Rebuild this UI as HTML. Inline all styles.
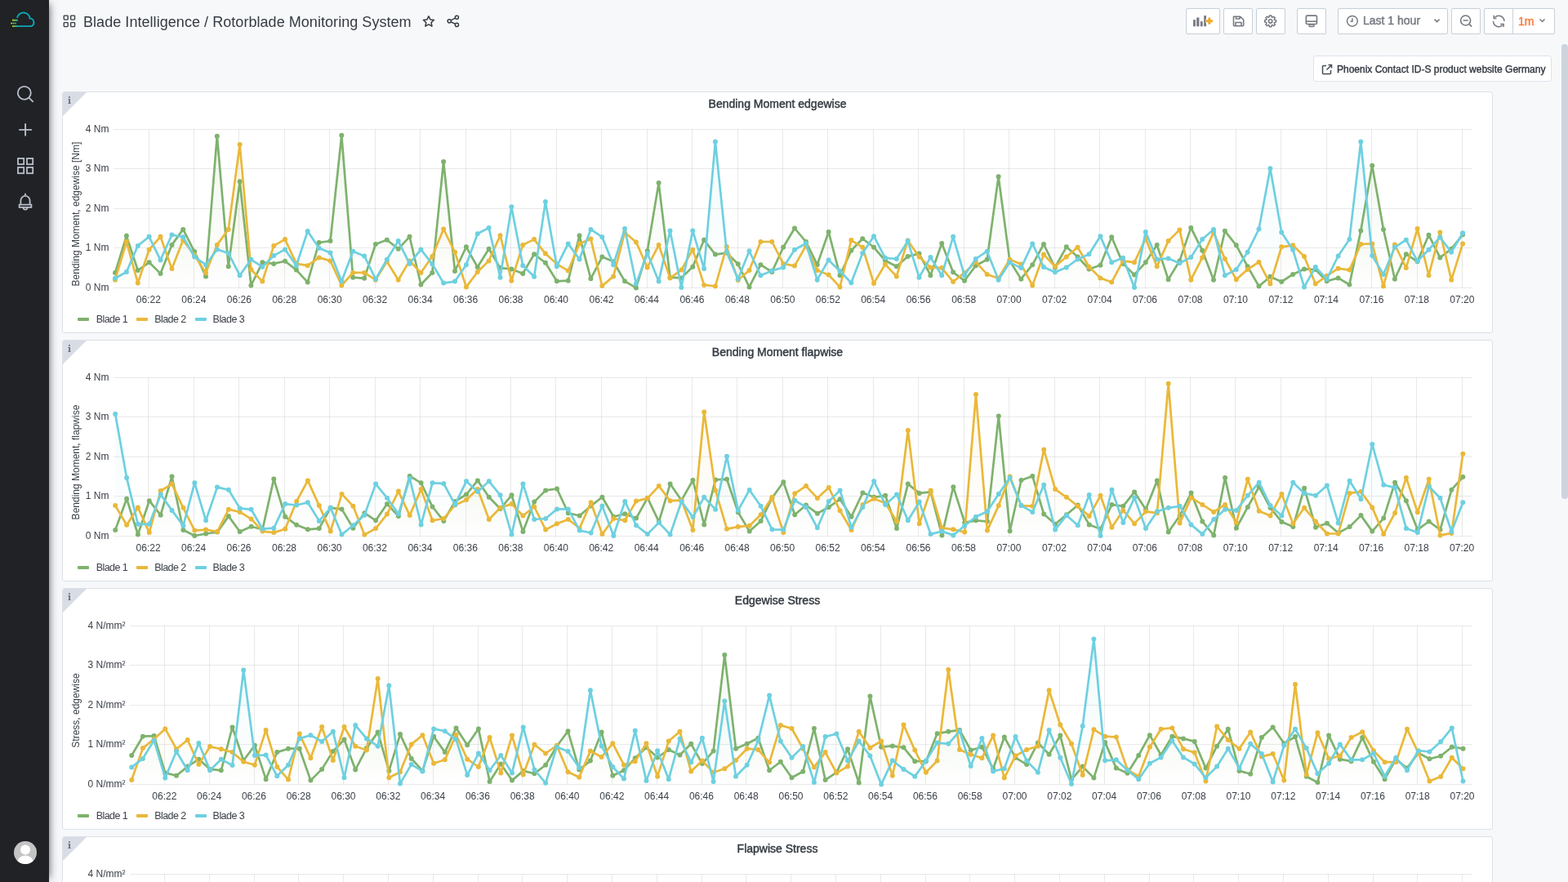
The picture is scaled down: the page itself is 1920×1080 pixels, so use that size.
<!DOCTYPE html>
<html><head><meta charset="utf-8"><title>Rotorblade Monitoring System - Grafana</title>
<style>*{box-sizing:border-box}
html,body{margin:0;padding:0;width:1920px;height:1080px;overflow:hidden;background:#f7f8fa;font-family:"Liberation Sans",Arial,sans-serif;color:#52545c}
.side{position:absolute;left:0;top:0;width:60px;height:1080px;background:#202226;z-index:10;box-shadow:5px 0 10px -5px #52545c}
.side svg{position:absolute;left:0;top:0}
.title{position:absolute;left:102px;top:17.3px;font-size:18px;color:#353b43;white-space:nowrap;letter-spacing:0.05px}
.nbtn{position:absolute;top:10px;height:32px;border:1px solid #c7d0d9;border-radius:2px;background:#fff}
.nbtn svg{position:absolute;left:0;top:0}
.tp{font-size:14px;font-weight:normal;color:#767980;-webkit-text-stroke:0.45px #767980;white-space:nowrap}
.phx{position:absolute;left:1608px;top:68px;width:292px;height:32px;border:1px solid #dde4ed;border-radius:3px;background:#fff;font-size:12px;font-weight:normal;color:#353b43;-webkit-text-stroke:0.4px #353b43;white-space:nowrap}
.panel{position:absolute;left:76px;width:1752px;height:296px;background:#fff;border:1px solid #dce0e5;border-radius:3px}
.panel .chart{position:absolute;left:-1px;top:-1px}
.corner{position:absolute;left:0;top:0;width:0;height:0;border-top:29px solid #d8dde5;border-right:29px solid transparent;border-top-left-radius:2px}
.ci{position:absolute;left:5.9px;top:3.9px;font-family:"DejaVu Serif","Liberation Serif",serif;font-weight:bold;font-size:10.5px;color:#6b7079}
.ptitle{position:absolute;left:0;right:0;top:5.8px;text-align:center;font-size:14px;font-weight:normal;color:#353b43;-webkit-text-stroke:0.45px #353b43}
.ylab{position:absolute;left:16.4px;top:149.1px;font-size:12px;color:#3b4048;white-space:nowrap;transform:translate(-50%,-50%) rotate(-90deg)}
.tk{font-family:"Liberation Sans",Arial,sans-serif;font-size:12px;fill:#3b4048}
.sw{position:absolute;top:276px;width:14px;height:4px;border-radius:1px}
.lt{position:absolute;top:271px;font-size:12.5px;color:#3b4048;letter-spacing:-0.55px;white-space:nowrap}
</style></head>
<body>
<div class="side">
<svg width="60" height="1080">
 <defs><linearGradient id="lg" x1="0" x2="1" y1="0" y2="0"><stop offset="0" stop-color="#b9d30a"/><stop offset="1" stop-color="#11a9b6"/></linearGradient></defs>
 <path d="M21 21.8 A7.9 7.9 0 0 1 36.6 22.6 A4.9 4.9 0 0 1 38.2 32.1 H20" fill="none" stroke="#0aa9b6" stroke-width="1.9" stroke-linecap="butt"/>
 <path d="M15 24.8H21.9 M15 32.1H21" stroke="url(#lg)" stroke-width="1.9" fill="none"/><circle cx="14.2" cy="28.5" r="1.1" fill="#b9d30a"/><circle cx="16.6" cy="28.5" r="1.1" fill="#6cc07a"/><circle cx="19.0" cy="28.5" r="1.1" fill="#1fb0b8"/>
 <g fill="none" stroke="#b9bfca" stroke-width="1.8">
  <circle cx="29.8" cy="113.8" r="8"/>
  <path d="M35.6 119.8L40.2 124.3" stroke-linecap="round"/>
  <path d="M31.1 151.3V166.5M23.2 158.9H38.9" stroke-width="1.9"/>
  <rect x="22" y="194" width="7.2" height="7.2"/><rect x="33" y="194" width="7.2" height="7.2"/>
  <rect x="22" y="205" width="7.2" height="7.2"/><rect x="33" y="205" width="7.2" height="7.2"/>
  <path d="M31 236.8V239 M25.4 250.2V245.5A5.6 5.6 0 0 1 36.6 245.5V250.2 M23.6 250.6H38.4V253.8H23.6Z M28.6 254.3A2.4 2.4 0 0 0 33.4 254.3"/>
 </g>
 <circle cx="31" cy="1044" r="14" fill="#c4c4c4"/>
 <clipPath id="av"><circle cx="31" cy="1044" r="14"/></clipPath>
 <g clip-path="url(#av)" fill="#fff"><circle cx="31" cy="1040.6" r="6"/><ellipse cx="31" cy="1058" rx="10.5" ry="10.5"/></g>
</svg>
</div>
<svg style="position:absolute;left:77px;top:18px" width="17" height="17"><g fill="none" stroke="#353b43" stroke-width="1.35"><rect x="1.25" y="1.05" width="4.9" height="5.0" rx="0.8"/><rect x="9.65" y="1.05" width="4.9" height="5.0" rx="0.8"/><rect x="1.25" y="9.55" width="4.9" height="5.0" rx="0.8"/><rect x="9.65" y="9.55" width="4.9" height="5.0" rx="0.8"/></g></svg>
<div class="title">Blade Intelligence / Rotorblade Monitoring System</div>
<svg style="position:absolute;left:515px;top:17px" width="20" height="20"><path d="M9.90 2.75 L11.84 6.93 L16.41 7.48 L13.04 10.62 L13.93 15.14 L9.90 12.90 L5.87 15.14 L6.76 10.62 L3.39 7.48 L7.96 6.93Z" fill="none" stroke="#353b43" stroke-width="1.5" stroke-linejoin="round"/></svg>
<svg style="position:absolute;left:545px;top:17px" width="20" height="20"><g fill="none" stroke="#353b43" stroke-width="1.45"><circle cx="14.4" cy="4.25" r="2.1"/><circle cx="5.2" cy="8.8" r="2.1"/><circle cx="14.4" cy="13.4" r="2.1"/><path d="M7.1 7.85L12.5 5.2M7.1 9.75L12.5 12.45"/></g></svg>

<div class="nbtn" style="left:1452px;width:42px"><svg width="42" height="32"><g fill="#767980" transform="translate(-1 -1)"><rect x="9.1" y="14.2" width="2.8" height="8.1"/><rect x="13.2" y="11.5" width="3.2" height="10.8"/><rect x="17.9" y="16.2" width="2.8" height="6.1"/><rect x="22.2" y="9.1" width="2.8" height="13.2"/></g><path d="M27.8 10.3V19.1M23.4 14.7H32.2" stroke="#fff" stroke-width="5"/><path d="M27.8 10.6V18.8M23.7 14.7H31.9" stroke="#f5a623" stroke-width="2.9"/></svg></div>
<div class="nbtn" style="left:1498px;width:36px"><svg width="36" height="32" style="top:-1px"><path d="M11.5 10.2H19.6L23.7 14.3V20.8A1 1 0 0 1 22.7 21.8H12.5A1 1 0 0 1 11.5 20.8Z M14.5 10.2V13H19V10.2 M14 21.8V17.5H21V21.8" fill="none" stroke="#767980" stroke-width="1.6" stroke-linejoin="round"/></svg></div>
<div class="nbtn" style="left:1538px;width:36px"><svg width="36" height="32" style="top:-1px;left:-0.7px"><circle cx="17.6" cy="15.9" r="2.2" fill="none" stroke="#767980" stroke-width="1.6"/><path d="M22.57 14.36 L24.50 14.72 L24.50 17.08 L22.57 17.44 L22.20 18.33 L23.32 19.94 L21.64 21.62 L20.03 20.50 L19.14 20.87 L18.78 22.80 L16.42 22.80 L16.06 20.87 L15.17 20.50 L13.56 21.62 L11.88 19.94 L13.00 18.33 L12.63 17.44 L10.70 17.08 L10.70 14.72 L12.63 14.36 L13.00 13.47 L11.88 11.86 L13.56 10.18 L15.17 11.30 L16.06 10.93 L16.42 9.00 L18.78 9.00 L19.14 10.93 L20.03 11.30 L21.64 10.18 L23.32 11.86 L22.20 13.47Z" fill="none" stroke="#767980" stroke-width="1.5" stroke-linejoin="round"/></svg></div>
<div class="nbtn" style="left:1588px;width:36px"><svg width="36" height="32"><rect x="10.3" y="8.1" width="13.2" height="10.4" rx="1.6" fill="none" stroke="#767980" stroke-width="1.6"/><path d="M10.3 15.2H23.5" stroke="#767980" stroke-width="1.6"/><rect x="14" y="19" width="6" height="2.4" rx="0.9" fill="none" stroke="#767980" stroke-width="1.5"/></svg></div>
<div class="nbtn" style="left:1638px;width:135px"><svg width="135" height="32"><circle cx="16.9" cy="14.8" r="6.4" fill="none" stroke="#767980" stroke-width="1.5"/><path d="M16.9 11.2V15.2H14.6" fill="none" stroke="#767980" stroke-width="1.5"/><path d="M117.5 12.6L120.5 15.6L123.5 12.6" fill="none" stroke="#767980" stroke-width="1.5"/></svg><span class="tp" style="position:absolute;left:30px;top:6px">Last 1 hour</span></div>
<div class="nbtn" style="left:1777px;width:36px"><svg width="36" height="32"><circle cx="16.6" cy="14" r="6" fill="none" stroke="#767980" stroke-width="1.6"/><path d="M13.6 14H19.6M21 18.4L24.2 21.6" stroke="#767980" stroke-width="1.6"/></svg></div>
<div class="nbtn" style="left:1817px;width:87px"><svg width="87" height="32"><path d="M34.5 0V30" stroke="#c7d0d9"/><path d="M12.46 10.26A6.7 6.7 0 0 1 23.9 15 M10.5 15A6.7 6.7 0 0 0 21.94 19.74" fill="none" stroke="#767980" stroke-width="1.5"/><path d="M11.2 7.7V11.6H14.4 M19.2 18.4H23.1V22" fill="none" stroke="#767980" stroke-width="1.5"/><path d="M67.5 12.5L70.5 15.5L73.5 12.5" fill="none" stroke="#767980" stroke-width="1.5"/></svg><span style="position:absolute;left:41px;top:7px;font-size:14px;font-weight:normal;color:#fa7a3c;-webkit-text-stroke:0.45px #fa7a3c">1m</span></div>
<div class="phx"><svg style="position:absolute;left:8px;top:8px" width="16" height="16"><path d="M7 3.5H3.5A1 1 0 0 0 2.5 4.5V12.5A1 1 0 0 0 3.5 13.5H11.5A1 1 0 0 0 12.5 12.5V9 M9.5 2.5H13.5V6.5 M13.5 2.5L7.5 8.5" fill="none" stroke="#464c54" stroke-width="1.5"/></svg><span style="position:absolute;left:28px;top:9px">Phoenix Contact ID-S product website Germany</span></div>
<div style="position:absolute;left:1912px;top:54px;width:8px;height:557px;border-radius:4px;background:#cdd4dc"></div>
<div class="panel" style="top:112px"><div class="corner"></div><div class="ci">i</div><div class="ptitle">Bending Moment edgewise</div><div class="ylab">Bending Moment, edgewise [Nm]</div><svg class="chart" width="1752" height="296" viewBox="76 0 1752 296"><defs><linearGradient id="fg00" gradientUnits="userSpaceOnUse" x1="0" y1="46.4" x2="0" y2="240.4"><stop offset="0" stop-color="#7eb26d" stop-opacity="0.11"/><stop offset="1" stop-color="#7eb26d" stop-opacity="0.0"/></linearGradient><linearGradient id="fg01" gradientUnits="userSpaceOnUse" x1="0" y1="46.4" x2="0" y2="240.4"><stop offset="0" stop-color="#eab839" stop-opacity="0.11"/><stop offset="1" stop-color="#eab839" stop-opacity="0.0"/></linearGradient><linearGradient id="fg02" gradientUnits="userSpaceOnUse" x1="0" y1="46.4" x2="0" y2="240.4"><stop offset="0" stop-color="#6ed0e0" stop-opacity="0.11"/><stop offset="1" stop-color="#6ed0e0" stop-opacity="0.0"/></linearGradient></defs><path d="M139 240.5H1803.0 M139 191.5H1803.0 M139 143.5H1803.0 M139 94.5H1803.0 M139 46.5H1803.0" stroke="#c8c8c8" stroke-opacity="0.4" stroke-width="1" fill="none"/><path d="M182.5 46V241 M237.5 46V241 M292.5 46V241 M348.5 46V241 M403.5 46V241 M459.5 46V241 M514.5 46V241 M570.5 46V241 M625.5 46V241 M681.5 46V241 M736.5 46V241 M792.5 46V241 M847.5 46V241 M903.5 46V241 M958.5 46V241 M1013.5 46V241 M1069.5 46V241 M1124.5 46V241 M1180.5 46V241 M1235.5 46V241 M1291.5 46V241 M1346.5 46V241 M1402.5 46V241 M1457.5 46V241 M1513.5 46V241 M1568.5 46V241 M1624.5 46V241 M1679.5 46V241 M1735.5 46V241 M1790.5 46V241" stroke="#c8c8c8" stroke-opacity="0.4" stroke-width="1" fill="none"/><path d="M141.0 221.9 L154.9 176.8 L168.8 219.0 L182.6 209.3 L196.5 222.9 L210.4 187.9 L224.2 168.9 L238.1 196.1 L252.0 226.4 L265.8 54.7 L279.7 214.2 L293.6 110.2 L307.4 237.5 L321.3 209.3 L335.2 210.9 L349.0 207.8 L362.9 218.6 L376.7 233.6 L390.6 185.0 L404.5 183.1 L418.3 53.8 L432.2 227.7 L446.1 228.8 L459.9 187.0 L473.8 181.7 L487.7 192.8 L501.5 177.8 L515.4 236.5 L529.3 221.9 L543.1 85.9 L557.0 220.0 L570.9 190.3 L584.7 215.1 L598.6 192.8 L612.5 216.1 L626.3 217.5 L640.2 222.9 L654.1 199.2 L667.9 209.7 L681.8 232.3 L695.7 231.7 L709.5 176.6 L723.4 229.3 L737.3 202.5 L751.1 208.3 L765.0 232.3 L778.9 240.4 L792.7 195.3 L806.6 112.1 L820.5 227.7 L834.3 228.4 L848.2 214.7 L862.1 181.7 L875.9 199.6 L889.8 197.6 L903.7 211.3 L917.5 239.4 L931.4 212.2 L945.3 221.0 L959.1 190.8 L973.0 167.5 L986.9 184.0 L1000.7 212.2 L1014.6 172.0 L1028.5 225.2 L1042.3 194.7 L1056.2 180.2 L1070.0 190.8 L1083.9 207.0 L1097.8 214.2 L1111.6 201.9 L1125.5 198.6 L1139.4 225.2 L1153.2 186.0 L1167.1 221.3 L1181.0 231.7 L1194.8 213.2 L1208.7 205.8 L1222.6 104.3 L1236.4 207.4 L1250.3 229.7 L1264.2 212.2 L1278.0 187.0 L1291.9 215.5 L1305.8 190.3 L1319.6 202.5 L1333.5 217.5 L1347.4 212.8 L1361.2 178.2 L1375.1 210.9 L1389.0 224.4 L1402.8 209.3 L1416.7 187.9 L1430.6 230.3 L1444.4 207.4 L1458.3 166.9 L1472.2 194.7 L1486.0 230.7 L1499.9 170.8 L1513.8 188.3 L1527.6 214.2 L1541.5 238.5 L1555.4 226.8 L1569.2 233.0 L1583.1 223.9 L1597.0 217.5 L1610.8 218.0 L1624.7 232.3 L1638.6 228.4 L1652.4 236.5 L1666.3 170.4 L1680.2 90.7 L1694.0 168.9 L1707.9 229.7 L1721.8 199.2 L1735.6 208.3 L1749.5 175.8 L1763.3 203.4 L1777.2 192.8 L1791.1 175.3 L1791.1 240.4 L141.0 240.4 Z" fill="url(#fg00)" stroke="none"/><path d="M141.0 230.7 L154.9 184.0 L168.8 234.6 L182.6 193.7 L196.5 177.8 L210.4 217.1 L224.2 182.1 L238.1 200.5 L252.0 221.9 L265.8 187.9 L279.7 168.9 L293.6 65.1 L307.4 218.0 L321.3 232.6 L335.2 188.9 L349.0 181.1 L362.9 210.9 L376.7 213.2 L390.6 203.4 L404.5 207.4 L418.3 237.5 L432.2 221.9 L446.1 221.9 L459.9 230.7 L473.8 208.3 L487.7 230.7 L501.5 207.4 L515.4 221.9 L529.3 201.9 L543.1 168.5 L557.0 196.7 L570.9 239.4 L584.7 221.0 L598.6 207.4 L612.5 176.2 L626.3 231.7 L640.2 187.9 L654.1 181.1 L667.9 198.6 L681.8 211.3 L695.7 219.4 L709.5 186.4 L723.4 180.6 L737.3 238.1 L751.1 226.4 L765.0 172.4 L778.9 184.4 L792.7 215.5 L806.6 187.9 L820.5 228.4 L834.3 218.6 L848.2 193.7 L862.1 236.9 L875.9 238.5 L889.8 189.9 L903.7 231.1 L917.5 219.0 L931.4 184.0 L945.3 184.0 L959.1 210.9 L973.0 213.6 L986.9 188.9 L1000.7 219.0 L1014.6 224.4 L1028.5 239.4 L1042.3 182.1 L1056.2 190.8 L1070.0 235.0 L1083.9 211.6 L1097.8 226.4 L1111.6 182.5 L1125.5 202.5 L1139.4 215.5 L1153.2 216.1 L1167.1 233.0 L1181.0 221.9 L1194.8 208.9 L1208.7 223.9 L1222.6 228.8 L1236.4 205.8 L1250.3 211.6 L1264.2 237.5 L1278.0 199.6 L1291.9 214.2 L1305.8 202.5 L1319.6 190.8 L1333.5 214.7 L1347.4 228.4 L1361.2 233.6 L1375.1 207.4 L1389.0 209.3 L1402.8 180.2 L1416.7 214.2 L1430.6 183.1 L1444.4 169.4 L1458.3 230.7 L1472.2 203.4 L1486.0 172.4 L1499.9 205.0 L1513.8 230.3 L1527.6 218.0 L1541.5 208.9 L1555.4 235.6 L1569.2 190.3 L1583.1 188.3 L1597.0 201.9 L1610.8 235.6 L1624.7 225.8 L1638.6 216.7 L1652.4 218.6 L1666.3 187.0 L1680.2 186.4 L1694.0 238.5 L1707.9 187.5 L1721.8 216.1 L1735.6 168.1 L1749.5 225.2 L1763.3 172.4 L1777.2 230.7 L1791.1 186.4 L1791.1 240.4 L141.0 240.4 Z" fill="url(#fg01)" stroke="none"/><path d="M141.0 228.8 L154.9 221.0 L168.8 188.9 L182.6 177.8 L196.5 206.4 L210.4 175.5 L224.2 178.2 L238.1 202.5 L252.0 212.2 L265.8 193.4 L279.7 198.0 L293.6 225.2 L307.4 205.8 L321.3 214.7 L335.2 201.1 L349.0 193.4 L362.9 213.2 L376.7 171.0 L390.6 191.8 L404.5 197.6 L418.3 232.6 L432.2 195.7 L446.1 201.5 L459.9 229.7 L473.8 205.8 L487.7 183.1 L501.5 210.9 L515.4 193.4 L529.3 211.3 L543.1 234.6 L557.0 232.6 L570.9 212.2 L584.7 174.3 L598.6 166.9 L612.5 227.7 L626.3 141.3 L640.2 213.2 L654.1 226.8 L667.9 135.1 L681.8 214.2 L695.7 186.4 L709.5 205.4 L723.4 168.9 L737.3 178.2 L751.1 212.2 L765.0 168.1 L778.9 235.6 L792.7 198.0 L806.6 232.6 L820.5 170.4 L834.3 240.0 L848.2 170.4 L862.1 217.1 L875.9 61.6 L889.8 196.7 L903.7 229.7 L917.5 195.3 L931.4 225.2 L945.3 219.4 L959.1 215.5 L973.0 193.7 L986.9 186.0 L1000.7 230.7 L1014.6 206.4 L1028.5 220.0 L1042.3 234.2 L1056.2 198.0 L1070.0 177.2 L1083.9 203.8 L1097.8 205.0 L1111.6 183.1 L1125.5 227.7 L1139.4 203.1 L1153.2 225.2 L1167.1 177.8 L1181.0 225.2 L1194.8 205.0 L1208.7 195.7 L1222.6 230.7 L1236.4 209.3 L1250.3 216.1 L1264.2 186.4 L1278.0 215.1 L1291.9 221.3 L1305.8 215.5 L1319.6 205.4 L1333.5 199.2 L1347.4 177.2 L1361.2 209.3 L1375.1 203.8 L1389.0 240.0 L1402.8 172.0 L1416.7 205.4 L1430.6 204.5 L1444.4 210.3 L1458.3 203.1 L1472.2 181.1 L1486.0 168.9 L1499.9 225.2 L1513.8 218.0 L1527.6 196.7 L1541.5 168.5 L1555.4 94.2 L1569.2 172.4 L1583.1 193.7 L1597.0 239.4 L1610.8 215.1 L1624.7 229.7 L1638.6 201.5 L1652.4 181.1 L1666.3 61.6 L1680.2 201.1 L1694.0 223.9 L1707.9 190.8 L1721.8 181.7 L1735.6 207.8 L1749.5 193.7 L1763.3 178.6 L1777.2 196.7 L1791.1 173.3 L1791.1 240.4 L141.0 240.4 Z" fill="url(#fg02)" stroke="none"/><path d="M141.0 221.9 L154.9 176.8 L168.8 219.0 L182.6 209.3 L196.5 222.9 L210.4 187.9 L224.2 168.9 L238.1 196.1 L252.0 226.4 L265.8 54.7 L279.7 214.2 L293.6 110.2 L307.4 237.5 L321.3 209.3 L335.2 210.9 L349.0 207.8 L362.9 218.6 L376.7 233.6 L390.6 185.0 L404.5 183.1 L418.3 53.8 L432.2 227.7 L446.1 228.8 L459.9 187.0 L473.8 181.7 L487.7 192.8 L501.5 177.8 L515.4 236.5 L529.3 221.9 L543.1 85.9 L557.0 220.0 L570.9 190.3 L584.7 215.1 L598.6 192.8 L612.5 216.1 L626.3 217.5 L640.2 222.9 L654.1 199.2 L667.9 209.7 L681.8 232.3 L695.7 231.7 L709.5 176.6 L723.4 229.3 L737.3 202.5 L751.1 208.3 L765.0 232.3 L778.9 240.4 L792.7 195.3 L806.6 112.1 L820.5 227.7 L834.3 228.4 L848.2 214.7 L862.1 181.7 L875.9 199.6 L889.8 197.6 L903.7 211.3 L917.5 239.4 L931.4 212.2 L945.3 221.0 L959.1 190.8 L973.0 167.5 L986.9 184.0 L1000.7 212.2 L1014.6 172.0 L1028.5 225.2 L1042.3 194.7 L1056.2 180.2 L1070.0 190.8 L1083.9 207.0 L1097.8 214.2 L1111.6 201.9 L1125.5 198.6 L1139.4 225.2 L1153.2 186.0 L1167.1 221.3 L1181.0 231.7 L1194.8 213.2 L1208.7 205.8 L1222.6 104.3 L1236.4 207.4 L1250.3 229.7 L1264.2 212.2 L1278.0 187.0 L1291.9 215.5 L1305.8 190.3 L1319.6 202.5 L1333.5 217.5 L1347.4 212.8 L1361.2 178.2 L1375.1 210.9 L1389.0 224.4 L1402.8 209.3 L1416.7 187.9 L1430.6 230.3 L1444.4 207.4 L1458.3 166.9 L1472.2 194.7 L1486.0 230.7 L1499.9 170.8 L1513.8 188.3 L1527.6 214.2 L1541.5 238.5 L1555.4 226.8 L1569.2 233.0 L1583.1 223.9 L1597.0 217.5 L1610.8 218.0 L1624.7 232.3 L1638.6 228.4 L1652.4 236.5 L1666.3 170.4 L1680.2 90.7 L1694.0 168.9 L1707.9 229.7 L1721.8 199.2 L1735.6 208.3 L1749.5 175.8 L1763.3 203.4 L1777.2 192.8 L1791.1 175.3" fill="none" stroke="#7eb26d" stroke-width="2.7" stroke-linejoin="round"/><path d="M138.0 221.9a3.0 3.0 0 1 0 6.0 0a3.0 3.0 0 1 0 -6.0 0M151.9 176.8a3.0 3.0 0 1 0 6.0 0a3.0 3.0 0 1 0 -6.0 0M165.8 219.0a3.0 3.0 0 1 0 6.0 0a3.0 3.0 0 1 0 -6.0 0M179.6 209.3a3.0 3.0 0 1 0 6.0 0a3.0 3.0 0 1 0 -6.0 0M193.5 222.9a3.0 3.0 0 1 0 6.0 0a3.0 3.0 0 1 0 -6.0 0M207.4 187.9a3.0 3.0 0 1 0 6.0 0a3.0 3.0 0 1 0 -6.0 0M221.2 168.9a3.0 3.0 0 1 0 6.0 0a3.0 3.0 0 1 0 -6.0 0M235.1 196.1a3.0 3.0 0 1 0 6.0 0a3.0 3.0 0 1 0 -6.0 0M249.0 226.4a3.0 3.0 0 1 0 6.0 0a3.0 3.0 0 1 0 -6.0 0M262.8 54.7a3.0 3.0 0 1 0 6.0 0a3.0 3.0 0 1 0 -6.0 0M276.7 214.2a3.0 3.0 0 1 0 6.0 0a3.0 3.0 0 1 0 -6.0 0M290.6 110.2a3.0 3.0 0 1 0 6.0 0a3.0 3.0 0 1 0 -6.0 0M304.4 237.5a3.0 3.0 0 1 0 6.0 0a3.0 3.0 0 1 0 -6.0 0M318.3 209.3a3.0 3.0 0 1 0 6.0 0a3.0 3.0 0 1 0 -6.0 0M332.2 210.9a3.0 3.0 0 1 0 6.0 0a3.0 3.0 0 1 0 -6.0 0M346.0 207.8a3.0 3.0 0 1 0 6.0 0a3.0 3.0 0 1 0 -6.0 0M359.9 218.6a3.0 3.0 0 1 0 6.0 0a3.0 3.0 0 1 0 -6.0 0M373.7 233.6a3.0 3.0 0 1 0 6.0 0a3.0 3.0 0 1 0 -6.0 0M387.6 185.0a3.0 3.0 0 1 0 6.0 0a3.0 3.0 0 1 0 -6.0 0M401.5 183.1a3.0 3.0 0 1 0 6.0 0a3.0 3.0 0 1 0 -6.0 0M415.3 53.8a3.0 3.0 0 1 0 6.0 0a3.0 3.0 0 1 0 -6.0 0M429.2 227.7a3.0 3.0 0 1 0 6.0 0a3.0 3.0 0 1 0 -6.0 0M443.1 228.8a3.0 3.0 0 1 0 6.0 0a3.0 3.0 0 1 0 -6.0 0M456.9 187.0a3.0 3.0 0 1 0 6.0 0a3.0 3.0 0 1 0 -6.0 0M470.8 181.7a3.0 3.0 0 1 0 6.0 0a3.0 3.0 0 1 0 -6.0 0M484.7 192.8a3.0 3.0 0 1 0 6.0 0a3.0 3.0 0 1 0 -6.0 0M498.5 177.8a3.0 3.0 0 1 0 6.0 0a3.0 3.0 0 1 0 -6.0 0M512.4 236.5a3.0 3.0 0 1 0 6.0 0a3.0 3.0 0 1 0 -6.0 0M526.3 221.9a3.0 3.0 0 1 0 6.0 0a3.0 3.0 0 1 0 -6.0 0M540.1 85.9a3.0 3.0 0 1 0 6.0 0a3.0 3.0 0 1 0 -6.0 0M554.0 220.0a3.0 3.0 0 1 0 6.0 0a3.0 3.0 0 1 0 -6.0 0M567.9 190.3a3.0 3.0 0 1 0 6.0 0a3.0 3.0 0 1 0 -6.0 0M581.7 215.1a3.0 3.0 0 1 0 6.0 0a3.0 3.0 0 1 0 -6.0 0M595.6 192.8a3.0 3.0 0 1 0 6.0 0a3.0 3.0 0 1 0 -6.0 0M609.5 216.1a3.0 3.0 0 1 0 6.0 0a3.0 3.0 0 1 0 -6.0 0M623.3 217.5a3.0 3.0 0 1 0 6.0 0a3.0 3.0 0 1 0 -6.0 0M637.2 222.9a3.0 3.0 0 1 0 6.0 0a3.0 3.0 0 1 0 -6.0 0M651.1 199.2a3.0 3.0 0 1 0 6.0 0a3.0 3.0 0 1 0 -6.0 0M664.9 209.7a3.0 3.0 0 1 0 6.0 0a3.0 3.0 0 1 0 -6.0 0M678.8 232.3a3.0 3.0 0 1 0 6.0 0a3.0 3.0 0 1 0 -6.0 0M692.7 231.7a3.0 3.0 0 1 0 6.0 0a3.0 3.0 0 1 0 -6.0 0M706.5 176.6a3.0 3.0 0 1 0 6.0 0a3.0 3.0 0 1 0 -6.0 0M720.4 229.3a3.0 3.0 0 1 0 6.0 0a3.0 3.0 0 1 0 -6.0 0M734.3 202.5a3.0 3.0 0 1 0 6.0 0a3.0 3.0 0 1 0 -6.0 0M748.1 208.3a3.0 3.0 0 1 0 6.0 0a3.0 3.0 0 1 0 -6.0 0M762.0 232.3a3.0 3.0 0 1 0 6.0 0a3.0 3.0 0 1 0 -6.0 0M775.9 240.4a3.0 3.0 0 1 0 6.0 0a3.0 3.0 0 1 0 -6.0 0M789.7 195.3a3.0 3.0 0 1 0 6.0 0a3.0 3.0 0 1 0 -6.0 0M803.6 112.1a3.0 3.0 0 1 0 6.0 0a3.0 3.0 0 1 0 -6.0 0M817.5 227.7a3.0 3.0 0 1 0 6.0 0a3.0 3.0 0 1 0 -6.0 0M831.3 228.4a3.0 3.0 0 1 0 6.0 0a3.0 3.0 0 1 0 -6.0 0M845.2 214.7a3.0 3.0 0 1 0 6.0 0a3.0 3.0 0 1 0 -6.0 0M859.1 181.7a3.0 3.0 0 1 0 6.0 0a3.0 3.0 0 1 0 -6.0 0M872.9 199.6a3.0 3.0 0 1 0 6.0 0a3.0 3.0 0 1 0 -6.0 0M886.8 197.6a3.0 3.0 0 1 0 6.0 0a3.0 3.0 0 1 0 -6.0 0M900.7 211.3a3.0 3.0 0 1 0 6.0 0a3.0 3.0 0 1 0 -6.0 0M914.5 239.4a3.0 3.0 0 1 0 6.0 0a3.0 3.0 0 1 0 -6.0 0M928.4 212.2a3.0 3.0 0 1 0 6.0 0a3.0 3.0 0 1 0 -6.0 0M942.3 221.0a3.0 3.0 0 1 0 6.0 0a3.0 3.0 0 1 0 -6.0 0M956.1 190.8a3.0 3.0 0 1 0 6.0 0a3.0 3.0 0 1 0 -6.0 0M970.0 167.5a3.0 3.0 0 1 0 6.0 0a3.0 3.0 0 1 0 -6.0 0M983.9 184.0a3.0 3.0 0 1 0 6.0 0a3.0 3.0 0 1 0 -6.0 0M997.7 212.2a3.0 3.0 0 1 0 6.0 0a3.0 3.0 0 1 0 -6.0 0M1011.6 172.0a3.0 3.0 0 1 0 6.0 0a3.0 3.0 0 1 0 -6.0 0M1025.5 225.2a3.0 3.0 0 1 0 6.0 0a3.0 3.0 0 1 0 -6.0 0M1039.3 194.7a3.0 3.0 0 1 0 6.0 0a3.0 3.0 0 1 0 -6.0 0M1053.2 180.2a3.0 3.0 0 1 0 6.0 0a3.0 3.0 0 1 0 -6.0 0M1067.0 190.8a3.0 3.0 0 1 0 6.0 0a3.0 3.0 0 1 0 -6.0 0M1080.9 207.0a3.0 3.0 0 1 0 6.0 0a3.0 3.0 0 1 0 -6.0 0M1094.8 214.2a3.0 3.0 0 1 0 6.0 0a3.0 3.0 0 1 0 -6.0 0M1108.6 201.9a3.0 3.0 0 1 0 6.0 0a3.0 3.0 0 1 0 -6.0 0M1122.5 198.6a3.0 3.0 0 1 0 6.0 0a3.0 3.0 0 1 0 -6.0 0M1136.4 225.2a3.0 3.0 0 1 0 6.0 0a3.0 3.0 0 1 0 -6.0 0M1150.2 186.0a3.0 3.0 0 1 0 6.0 0a3.0 3.0 0 1 0 -6.0 0M1164.1 221.3a3.0 3.0 0 1 0 6.0 0a3.0 3.0 0 1 0 -6.0 0M1178.0 231.7a3.0 3.0 0 1 0 6.0 0a3.0 3.0 0 1 0 -6.0 0M1191.8 213.2a3.0 3.0 0 1 0 6.0 0a3.0 3.0 0 1 0 -6.0 0M1205.7 205.8a3.0 3.0 0 1 0 6.0 0a3.0 3.0 0 1 0 -6.0 0M1219.6 104.3a3.0 3.0 0 1 0 6.0 0a3.0 3.0 0 1 0 -6.0 0M1233.4 207.4a3.0 3.0 0 1 0 6.0 0a3.0 3.0 0 1 0 -6.0 0M1247.3 229.7a3.0 3.0 0 1 0 6.0 0a3.0 3.0 0 1 0 -6.0 0M1261.2 212.2a3.0 3.0 0 1 0 6.0 0a3.0 3.0 0 1 0 -6.0 0M1275.0 187.0a3.0 3.0 0 1 0 6.0 0a3.0 3.0 0 1 0 -6.0 0M1288.9 215.5a3.0 3.0 0 1 0 6.0 0a3.0 3.0 0 1 0 -6.0 0M1302.8 190.3a3.0 3.0 0 1 0 6.0 0a3.0 3.0 0 1 0 -6.0 0M1316.6 202.5a3.0 3.0 0 1 0 6.0 0a3.0 3.0 0 1 0 -6.0 0M1330.5 217.5a3.0 3.0 0 1 0 6.0 0a3.0 3.0 0 1 0 -6.0 0M1344.4 212.8a3.0 3.0 0 1 0 6.0 0a3.0 3.0 0 1 0 -6.0 0M1358.2 178.2a3.0 3.0 0 1 0 6.0 0a3.0 3.0 0 1 0 -6.0 0M1372.1 210.9a3.0 3.0 0 1 0 6.0 0a3.0 3.0 0 1 0 -6.0 0M1386.0 224.4a3.0 3.0 0 1 0 6.0 0a3.0 3.0 0 1 0 -6.0 0M1399.8 209.3a3.0 3.0 0 1 0 6.0 0a3.0 3.0 0 1 0 -6.0 0M1413.7 187.9a3.0 3.0 0 1 0 6.0 0a3.0 3.0 0 1 0 -6.0 0M1427.6 230.3a3.0 3.0 0 1 0 6.0 0a3.0 3.0 0 1 0 -6.0 0M1441.4 207.4a3.0 3.0 0 1 0 6.0 0a3.0 3.0 0 1 0 -6.0 0M1455.3 166.9a3.0 3.0 0 1 0 6.0 0a3.0 3.0 0 1 0 -6.0 0M1469.2 194.7a3.0 3.0 0 1 0 6.0 0a3.0 3.0 0 1 0 -6.0 0M1483.0 230.7a3.0 3.0 0 1 0 6.0 0a3.0 3.0 0 1 0 -6.0 0M1496.9 170.8a3.0 3.0 0 1 0 6.0 0a3.0 3.0 0 1 0 -6.0 0M1510.8 188.3a3.0 3.0 0 1 0 6.0 0a3.0 3.0 0 1 0 -6.0 0M1524.6 214.2a3.0 3.0 0 1 0 6.0 0a3.0 3.0 0 1 0 -6.0 0M1538.5 238.5a3.0 3.0 0 1 0 6.0 0a3.0 3.0 0 1 0 -6.0 0M1552.4 226.8a3.0 3.0 0 1 0 6.0 0a3.0 3.0 0 1 0 -6.0 0M1566.2 233.0a3.0 3.0 0 1 0 6.0 0a3.0 3.0 0 1 0 -6.0 0M1580.1 223.9a3.0 3.0 0 1 0 6.0 0a3.0 3.0 0 1 0 -6.0 0M1594.0 217.5a3.0 3.0 0 1 0 6.0 0a3.0 3.0 0 1 0 -6.0 0M1607.8 218.0a3.0 3.0 0 1 0 6.0 0a3.0 3.0 0 1 0 -6.0 0M1621.7 232.3a3.0 3.0 0 1 0 6.0 0a3.0 3.0 0 1 0 -6.0 0M1635.6 228.4a3.0 3.0 0 1 0 6.0 0a3.0 3.0 0 1 0 -6.0 0M1649.4 236.5a3.0 3.0 0 1 0 6.0 0a3.0 3.0 0 1 0 -6.0 0M1663.3 170.4a3.0 3.0 0 1 0 6.0 0a3.0 3.0 0 1 0 -6.0 0M1677.2 90.7a3.0 3.0 0 1 0 6.0 0a3.0 3.0 0 1 0 -6.0 0M1691.0 168.9a3.0 3.0 0 1 0 6.0 0a3.0 3.0 0 1 0 -6.0 0M1704.9 229.7a3.0 3.0 0 1 0 6.0 0a3.0 3.0 0 1 0 -6.0 0M1718.8 199.2a3.0 3.0 0 1 0 6.0 0a3.0 3.0 0 1 0 -6.0 0M1732.6 208.3a3.0 3.0 0 1 0 6.0 0a3.0 3.0 0 1 0 -6.0 0M1746.5 175.8a3.0 3.0 0 1 0 6.0 0a3.0 3.0 0 1 0 -6.0 0M1760.3 203.4a3.0 3.0 0 1 0 6.0 0a3.0 3.0 0 1 0 -6.0 0M1774.2 192.8a3.0 3.0 0 1 0 6.0 0a3.0 3.0 0 1 0 -6.0 0M1788.1 175.3a3.0 3.0 0 1 0 6.0 0a3.0 3.0 0 1 0 -6.0 0" fill="#7eb26d"/><path d="M141.0 230.7 L154.9 184.0 L168.8 234.6 L182.6 193.7 L196.5 177.8 L210.4 217.1 L224.2 182.1 L238.1 200.5 L252.0 221.9 L265.8 187.9 L279.7 168.9 L293.6 65.1 L307.4 218.0 L321.3 232.6 L335.2 188.9 L349.0 181.1 L362.9 210.9 L376.7 213.2 L390.6 203.4 L404.5 207.4 L418.3 237.5 L432.2 221.9 L446.1 221.9 L459.9 230.7 L473.8 208.3 L487.7 230.7 L501.5 207.4 L515.4 221.9 L529.3 201.9 L543.1 168.5 L557.0 196.7 L570.9 239.4 L584.7 221.0 L598.6 207.4 L612.5 176.2 L626.3 231.7 L640.2 187.9 L654.1 181.1 L667.9 198.6 L681.8 211.3 L695.7 219.4 L709.5 186.4 L723.4 180.6 L737.3 238.1 L751.1 226.4 L765.0 172.4 L778.9 184.4 L792.7 215.5 L806.6 187.9 L820.5 228.4 L834.3 218.6 L848.2 193.7 L862.1 236.9 L875.9 238.5 L889.8 189.9 L903.7 231.1 L917.5 219.0 L931.4 184.0 L945.3 184.0 L959.1 210.9 L973.0 213.6 L986.9 188.9 L1000.7 219.0 L1014.6 224.4 L1028.5 239.4 L1042.3 182.1 L1056.2 190.8 L1070.0 235.0 L1083.9 211.6 L1097.8 226.4 L1111.6 182.5 L1125.5 202.5 L1139.4 215.5 L1153.2 216.1 L1167.1 233.0 L1181.0 221.9 L1194.8 208.9 L1208.7 223.9 L1222.6 228.8 L1236.4 205.8 L1250.3 211.6 L1264.2 237.5 L1278.0 199.6 L1291.9 214.2 L1305.8 202.5 L1319.6 190.8 L1333.5 214.7 L1347.4 228.4 L1361.2 233.6 L1375.1 207.4 L1389.0 209.3 L1402.8 180.2 L1416.7 214.2 L1430.6 183.1 L1444.4 169.4 L1458.3 230.7 L1472.2 203.4 L1486.0 172.4 L1499.9 205.0 L1513.8 230.3 L1527.6 218.0 L1541.5 208.9 L1555.4 235.6 L1569.2 190.3 L1583.1 188.3 L1597.0 201.9 L1610.8 235.6 L1624.7 225.8 L1638.6 216.7 L1652.4 218.6 L1666.3 187.0 L1680.2 186.4 L1694.0 238.5 L1707.9 187.5 L1721.8 216.1 L1735.6 168.1 L1749.5 225.2 L1763.3 172.4 L1777.2 230.7 L1791.1 186.4" fill="none" stroke="#eab839" stroke-width="2.7" stroke-linejoin="round"/><path d="M138.0 230.7a3.0 3.0 0 1 0 6.0 0a3.0 3.0 0 1 0 -6.0 0M151.9 184.0a3.0 3.0 0 1 0 6.0 0a3.0 3.0 0 1 0 -6.0 0M165.8 234.6a3.0 3.0 0 1 0 6.0 0a3.0 3.0 0 1 0 -6.0 0M179.6 193.7a3.0 3.0 0 1 0 6.0 0a3.0 3.0 0 1 0 -6.0 0M193.5 177.8a3.0 3.0 0 1 0 6.0 0a3.0 3.0 0 1 0 -6.0 0M207.4 217.1a3.0 3.0 0 1 0 6.0 0a3.0 3.0 0 1 0 -6.0 0M221.2 182.1a3.0 3.0 0 1 0 6.0 0a3.0 3.0 0 1 0 -6.0 0M235.1 200.5a3.0 3.0 0 1 0 6.0 0a3.0 3.0 0 1 0 -6.0 0M249.0 221.9a3.0 3.0 0 1 0 6.0 0a3.0 3.0 0 1 0 -6.0 0M262.8 187.9a3.0 3.0 0 1 0 6.0 0a3.0 3.0 0 1 0 -6.0 0M276.7 168.9a3.0 3.0 0 1 0 6.0 0a3.0 3.0 0 1 0 -6.0 0M290.6 65.1a3.0 3.0 0 1 0 6.0 0a3.0 3.0 0 1 0 -6.0 0M304.4 218.0a3.0 3.0 0 1 0 6.0 0a3.0 3.0 0 1 0 -6.0 0M318.3 232.6a3.0 3.0 0 1 0 6.0 0a3.0 3.0 0 1 0 -6.0 0M332.2 188.9a3.0 3.0 0 1 0 6.0 0a3.0 3.0 0 1 0 -6.0 0M346.0 181.1a3.0 3.0 0 1 0 6.0 0a3.0 3.0 0 1 0 -6.0 0M359.9 210.9a3.0 3.0 0 1 0 6.0 0a3.0 3.0 0 1 0 -6.0 0M373.7 213.2a3.0 3.0 0 1 0 6.0 0a3.0 3.0 0 1 0 -6.0 0M387.6 203.4a3.0 3.0 0 1 0 6.0 0a3.0 3.0 0 1 0 -6.0 0M401.5 207.4a3.0 3.0 0 1 0 6.0 0a3.0 3.0 0 1 0 -6.0 0M415.3 237.5a3.0 3.0 0 1 0 6.0 0a3.0 3.0 0 1 0 -6.0 0M429.2 221.9a3.0 3.0 0 1 0 6.0 0a3.0 3.0 0 1 0 -6.0 0M443.1 221.9a3.0 3.0 0 1 0 6.0 0a3.0 3.0 0 1 0 -6.0 0M456.9 230.7a3.0 3.0 0 1 0 6.0 0a3.0 3.0 0 1 0 -6.0 0M470.8 208.3a3.0 3.0 0 1 0 6.0 0a3.0 3.0 0 1 0 -6.0 0M484.7 230.7a3.0 3.0 0 1 0 6.0 0a3.0 3.0 0 1 0 -6.0 0M498.5 207.4a3.0 3.0 0 1 0 6.0 0a3.0 3.0 0 1 0 -6.0 0M512.4 221.9a3.0 3.0 0 1 0 6.0 0a3.0 3.0 0 1 0 -6.0 0M526.3 201.9a3.0 3.0 0 1 0 6.0 0a3.0 3.0 0 1 0 -6.0 0M540.1 168.5a3.0 3.0 0 1 0 6.0 0a3.0 3.0 0 1 0 -6.0 0M554.0 196.7a3.0 3.0 0 1 0 6.0 0a3.0 3.0 0 1 0 -6.0 0M567.9 239.4a3.0 3.0 0 1 0 6.0 0a3.0 3.0 0 1 0 -6.0 0M581.7 221.0a3.0 3.0 0 1 0 6.0 0a3.0 3.0 0 1 0 -6.0 0M595.6 207.4a3.0 3.0 0 1 0 6.0 0a3.0 3.0 0 1 0 -6.0 0M609.5 176.2a3.0 3.0 0 1 0 6.0 0a3.0 3.0 0 1 0 -6.0 0M623.3 231.7a3.0 3.0 0 1 0 6.0 0a3.0 3.0 0 1 0 -6.0 0M637.2 187.9a3.0 3.0 0 1 0 6.0 0a3.0 3.0 0 1 0 -6.0 0M651.1 181.1a3.0 3.0 0 1 0 6.0 0a3.0 3.0 0 1 0 -6.0 0M664.9 198.6a3.0 3.0 0 1 0 6.0 0a3.0 3.0 0 1 0 -6.0 0M678.8 211.3a3.0 3.0 0 1 0 6.0 0a3.0 3.0 0 1 0 -6.0 0M692.7 219.4a3.0 3.0 0 1 0 6.0 0a3.0 3.0 0 1 0 -6.0 0M706.5 186.4a3.0 3.0 0 1 0 6.0 0a3.0 3.0 0 1 0 -6.0 0M720.4 180.6a3.0 3.0 0 1 0 6.0 0a3.0 3.0 0 1 0 -6.0 0M734.3 238.1a3.0 3.0 0 1 0 6.0 0a3.0 3.0 0 1 0 -6.0 0M748.1 226.4a3.0 3.0 0 1 0 6.0 0a3.0 3.0 0 1 0 -6.0 0M762.0 172.4a3.0 3.0 0 1 0 6.0 0a3.0 3.0 0 1 0 -6.0 0M775.9 184.4a3.0 3.0 0 1 0 6.0 0a3.0 3.0 0 1 0 -6.0 0M789.7 215.5a3.0 3.0 0 1 0 6.0 0a3.0 3.0 0 1 0 -6.0 0M803.6 187.9a3.0 3.0 0 1 0 6.0 0a3.0 3.0 0 1 0 -6.0 0M817.5 228.4a3.0 3.0 0 1 0 6.0 0a3.0 3.0 0 1 0 -6.0 0M831.3 218.6a3.0 3.0 0 1 0 6.0 0a3.0 3.0 0 1 0 -6.0 0M845.2 193.7a3.0 3.0 0 1 0 6.0 0a3.0 3.0 0 1 0 -6.0 0M859.1 236.9a3.0 3.0 0 1 0 6.0 0a3.0 3.0 0 1 0 -6.0 0M872.9 238.5a3.0 3.0 0 1 0 6.0 0a3.0 3.0 0 1 0 -6.0 0M886.8 189.9a3.0 3.0 0 1 0 6.0 0a3.0 3.0 0 1 0 -6.0 0M900.7 231.1a3.0 3.0 0 1 0 6.0 0a3.0 3.0 0 1 0 -6.0 0M914.5 219.0a3.0 3.0 0 1 0 6.0 0a3.0 3.0 0 1 0 -6.0 0M928.4 184.0a3.0 3.0 0 1 0 6.0 0a3.0 3.0 0 1 0 -6.0 0M942.3 184.0a3.0 3.0 0 1 0 6.0 0a3.0 3.0 0 1 0 -6.0 0M956.1 210.9a3.0 3.0 0 1 0 6.0 0a3.0 3.0 0 1 0 -6.0 0M970.0 213.6a3.0 3.0 0 1 0 6.0 0a3.0 3.0 0 1 0 -6.0 0M983.9 188.9a3.0 3.0 0 1 0 6.0 0a3.0 3.0 0 1 0 -6.0 0M997.7 219.0a3.0 3.0 0 1 0 6.0 0a3.0 3.0 0 1 0 -6.0 0M1011.6 224.4a3.0 3.0 0 1 0 6.0 0a3.0 3.0 0 1 0 -6.0 0M1025.5 239.4a3.0 3.0 0 1 0 6.0 0a3.0 3.0 0 1 0 -6.0 0M1039.3 182.1a3.0 3.0 0 1 0 6.0 0a3.0 3.0 0 1 0 -6.0 0M1053.2 190.8a3.0 3.0 0 1 0 6.0 0a3.0 3.0 0 1 0 -6.0 0M1067.0 235.0a3.0 3.0 0 1 0 6.0 0a3.0 3.0 0 1 0 -6.0 0M1080.9 211.6a3.0 3.0 0 1 0 6.0 0a3.0 3.0 0 1 0 -6.0 0M1094.8 226.4a3.0 3.0 0 1 0 6.0 0a3.0 3.0 0 1 0 -6.0 0M1108.6 182.5a3.0 3.0 0 1 0 6.0 0a3.0 3.0 0 1 0 -6.0 0M1122.5 202.5a3.0 3.0 0 1 0 6.0 0a3.0 3.0 0 1 0 -6.0 0M1136.4 215.5a3.0 3.0 0 1 0 6.0 0a3.0 3.0 0 1 0 -6.0 0M1150.2 216.1a3.0 3.0 0 1 0 6.0 0a3.0 3.0 0 1 0 -6.0 0M1164.1 233.0a3.0 3.0 0 1 0 6.0 0a3.0 3.0 0 1 0 -6.0 0M1178.0 221.9a3.0 3.0 0 1 0 6.0 0a3.0 3.0 0 1 0 -6.0 0M1191.8 208.9a3.0 3.0 0 1 0 6.0 0a3.0 3.0 0 1 0 -6.0 0M1205.7 223.9a3.0 3.0 0 1 0 6.0 0a3.0 3.0 0 1 0 -6.0 0M1219.6 228.8a3.0 3.0 0 1 0 6.0 0a3.0 3.0 0 1 0 -6.0 0M1233.4 205.8a3.0 3.0 0 1 0 6.0 0a3.0 3.0 0 1 0 -6.0 0M1247.3 211.6a3.0 3.0 0 1 0 6.0 0a3.0 3.0 0 1 0 -6.0 0M1261.2 237.5a3.0 3.0 0 1 0 6.0 0a3.0 3.0 0 1 0 -6.0 0M1275.0 199.6a3.0 3.0 0 1 0 6.0 0a3.0 3.0 0 1 0 -6.0 0M1288.9 214.2a3.0 3.0 0 1 0 6.0 0a3.0 3.0 0 1 0 -6.0 0M1302.8 202.5a3.0 3.0 0 1 0 6.0 0a3.0 3.0 0 1 0 -6.0 0M1316.6 190.8a3.0 3.0 0 1 0 6.0 0a3.0 3.0 0 1 0 -6.0 0M1330.5 214.7a3.0 3.0 0 1 0 6.0 0a3.0 3.0 0 1 0 -6.0 0M1344.4 228.4a3.0 3.0 0 1 0 6.0 0a3.0 3.0 0 1 0 -6.0 0M1358.2 233.6a3.0 3.0 0 1 0 6.0 0a3.0 3.0 0 1 0 -6.0 0M1372.1 207.4a3.0 3.0 0 1 0 6.0 0a3.0 3.0 0 1 0 -6.0 0M1386.0 209.3a3.0 3.0 0 1 0 6.0 0a3.0 3.0 0 1 0 -6.0 0M1399.8 180.2a3.0 3.0 0 1 0 6.0 0a3.0 3.0 0 1 0 -6.0 0M1413.7 214.2a3.0 3.0 0 1 0 6.0 0a3.0 3.0 0 1 0 -6.0 0M1427.6 183.1a3.0 3.0 0 1 0 6.0 0a3.0 3.0 0 1 0 -6.0 0M1441.4 169.4a3.0 3.0 0 1 0 6.0 0a3.0 3.0 0 1 0 -6.0 0M1455.3 230.7a3.0 3.0 0 1 0 6.0 0a3.0 3.0 0 1 0 -6.0 0M1469.2 203.4a3.0 3.0 0 1 0 6.0 0a3.0 3.0 0 1 0 -6.0 0M1483.0 172.4a3.0 3.0 0 1 0 6.0 0a3.0 3.0 0 1 0 -6.0 0M1496.9 205.0a3.0 3.0 0 1 0 6.0 0a3.0 3.0 0 1 0 -6.0 0M1510.8 230.3a3.0 3.0 0 1 0 6.0 0a3.0 3.0 0 1 0 -6.0 0M1524.6 218.0a3.0 3.0 0 1 0 6.0 0a3.0 3.0 0 1 0 -6.0 0M1538.5 208.9a3.0 3.0 0 1 0 6.0 0a3.0 3.0 0 1 0 -6.0 0M1552.4 235.6a3.0 3.0 0 1 0 6.0 0a3.0 3.0 0 1 0 -6.0 0M1566.2 190.3a3.0 3.0 0 1 0 6.0 0a3.0 3.0 0 1 0 -6.0 0M1580.1 188.3a3.0 3.0 0 1 0 6.0 0a3.0 3.0 0 1 0 -6.0 0M1594.0 201.9a3.0 3.0 0 1 0 6.0 0a3.0 3.0 0 1 0 -6.0 0M1607.8 235.6a3.0 3.0 0 1 0 6.0 0a3.0 3.0 0 1 0 -6.0 0M1621.7 225.8a3.0 3.0 0 1 0 6.0 0a3.0 3.0 0 1 0 -6.0 0M1635.6 216.7a3.0 3.0 0 1 0 6.0 0a3.0 3.0 0 1 0 -6.0 0M1649.4 218.6a3.0 3.0 0 1 0 6.0 0a3.0 3.0 0 1 0 -6.0 0M1663.3 187.0a3.0 3.0 0 1 0 6.0 0a3.0 3.0 0 1 0 -6.0 0M1677.2 186.4a3.0 3.0 0 1 0 6.0 0a3.0 3.0 0 1 0 -6.0 0M1691.0 238.5a3.0 3.0 0 1 0 6.0 0a3.0 3.0 0 1 0 -6.0 0M1704.9 187.5a3.0 3.0 0 1 0 6.0 0a3.0 3.0 0 1 0 -6.0 0M1718.8 216.1a3.0 3.0 0 1 0 6.0 0a3.0 3.0 0 1 0 -6.0 0M1732.6 168.1a3.0 3.0 0 1 0 6.0 0a3.0 3.0 0 1 0 -6.0 0M1746.5 225.2a3.0 3.0 0 1 0 6.0 0a3.0 3.0 0 1 0 -6.0 0M1760.3 172.4a3.0 3.0 0 1 0 6.0 0a3.0 3.0 0 1 0 -6.0 0M1774.2 230.7a3.0 3.0 0 1 0 6.0 0a3.0 3.0 0 1 0 -6.0 0M1788.1 186.4a3.0 3.0 0 1 0 6.0 0a3.0 3.0 0 1 0 -6.0 0" fill="#eab839"/><path d="M141.0 228.8 L154.9 221.0 L168.8 188.9 L182.6 177.8 L196.5 206.4 L210.4 175.5 L224.2 178.2 L238.1 202.5 L252.0 212.2 L265.8 193.4 L279.7 198.0 L293.6 225.2 L307.4 205.8 L321.3 214.7 L335.2 201.1 L349.0 193.4 L362.9 213.2 L376.7 171.0 L390.6 191.8 L404.5 197.6 L418.3 232.6 L432.2 195.7 L446.1 201.5 L459.9 229.7 L473.8 205.8 L487.7 183.1 L501.5 210.9 L515.4 193.4 L529.3 211.3 L543.1 234.6 L557.0 232.6 L570.9 212.2 L584.7 174.3 L598.6 166.9 L612.5 227.7 L626.3 141.3 L640.2 213.2 L654.1 226.8 L667.9 135.1 L681.8 214.2 L695.7 186.4 L709.5 205.4 L723.4 168.9 L737.3 178.2 L751.1 212.2 L765.0 168.1 L778.9 235.6 L792.7 198.0 L806.6 232.6 L820.5 170.4 L834.3 240.0 L848.2 170.4 L862.1 217.1 L875.9 61.6 L889.8 196.7 L903.7 229.7 L917.5 195.3 L931.4 225.2 L945.3 219.4 L959.1 215.5 L973.0 193.7 L986.9 186.0 L1000.7 230.7 L1014.6 206.4 L1028.5 220.0 L1042.3 234.2 L1056.2 198.0 L1070.0 177.2 L1083.9 203.8 L1097.8 205.0 L1111.6 183.1 L1125.5 227.7 L1139.4 203.1 L1153.2 225.2 L1167.1 177.8 L1181.0 225.2 L1194.8 205.0 L1208.7 195.7 L1222.6 230.7 L1236.4 209.3 L1250.3 216.1 L1264.2 186.4 L1278.0 215.1 L1291.9 221.3 L1305.8 215.5 L1319.6 205.4 L1333.5 199.2 L1347.4 177.2 L1361.2 209.3 L1375.1 203.8 L1389.0 240.0 L1402.8 172.0 L1416.7 205.4 L1430.6 204.5 L1444.4 210.3 L1458.3 203.1 L1472.2 181.1 L1486.0 168.9 L1499.9 225.2 L1513.8 218.0 L1527.6 196.7 L1541.5 168.5 L1555.4 94.2 L1569.2 172.4 L1583.1 193.7 L1597.0 239.4 L1610.8 215.1 L1624.7 229.7 L1638.6 201.5 L1652.4 181.1 L1666.3 61.6 L1680.2 201.1 L1694.0 223.9 L1707.9 190.8 L1721.8 181.7 L1735.6 207.8 L1749.5 193.7 L1763.3 178.6 L1777.2 196.7 L1791.1 173.3" fill="none" stroke="#6ed0e0" stroke-width="2.7" stroke-linejoin="round"/><path d="M138.0 228.8a3.0 3.0 0 1 0 6.0 0a3.0 3.0 0 1 0 -6.0 0M151.9 221.0a3.0 3.0 0 1 0 6.0 0a3.0 3.0 0 1 0 -6.0 0M165.8 188.9a3.0 3.0 0 1 0 6.0 0a3.0 3.0 0 1 0 -6.0 0M179.6 177.8a3.0 3.0 0 1 0 6.0 0a3.0 3.0 0 1 0 -6.0 0M193.5 206.4a3.0 3.0 0 1 0 6.0 0a3.0 3.0 0 1 0 -6.0 0M207.4 175.5a3.0 3.0 0 1 0 6.0 0a3.0 3.0 0 1 0 -6.0 0M221.2 178.2a3.0 3.0 0 1 0 6.0 0a3.0 3.0 0 1 0 -6.0 0M235.1 202.5a3.0 3.0 0 1 0 6.0 0a3.0 3.0 0 1 0 -6.0 0M249.0 212.2a3.0 3.0 0 1 0 6.0 0a3.0 3.0 0 1 0 -6.0 0M262.8 193.4a3.0 3.0 0 1 0 6.0 0a3.0 3.0 0 1 0 -6.0 0M276.7 198.0a3.0 3.0 0 1 0 6.0 0a3.0 3.0 0 1 0 -6.0 0M290.6 225.2a3.0 3.0 0 1 0 6.0 0a3.0 3.0 0 1 0 -6.0 0M304.4 205.8a3.0 3.0 0 1 0 6.0 0a3.0 3.0 0 1 0 -6.0 0M318.3 214.7a3.0 3.0 0 1 0 6.0 0a3.0 3.0 0 1 0 -6.0 0M332.2 201.1a3.0 3.0 0 1 0 6.0 0a3.0 3.0 0 1 0 -6.0 0M346.0 193.4a3.0 3.0 0 1 0 6.0 0a3.0 3.0 0 1 0 -6.0 0M359.9 213.2a3.0 3.0 0 1 0 6.0 0a3.0 3.0 0 1 0 -6.0 0M373.7 171.0a3.0 3.0 0 1 0 6.0 0a3.0 3.0 0 1 0 -6.0 0M387.6 191.8a3.0 3.0 0 1 0 6.0 0a3.0 3.0 0 1 0 -6.0 0M401.5 197.6a3.0 3.0 0 1 0 6.0 0a3.0 3.0 0 1 0 -6.0 0M415.3 232.6a3.0 3.0 0 1 0 6.0 0a3.0 3.0 0 1 0 -6.0 0M429.2 195.7a3.0 3.0 0 1 0 6.0 0a3.0 3.0 0 1 0 -6.0 0M443.1 201.5a3.0 3.0 0 1 0 6.0 0a3.0 3.0 0 1 0 -6.0 0M456.9 229.7a3.0 3.0 0 1 0 6.0 0a3.0 3.0 0 1 0 -6.0 0M470.8 205.8a3.0 3.0 0 1 0 6.0 0a3.0 3.0 0 1 0 -6.0 0M484.7 183.1a3.0 3.0 0 1 0 6.0 0a3.0 3.0 0 1 0 -6.0 0M498.5 210.9a3.0 3.0 0 1 0 6.0 0a3.0 3.0 0 1 0 -6.0 0M512.4 193.4a3.0 3.0 0 1 0 6.0 0a3.0 3.0 0 1 0 -6.0 0M526.3 211.3a3.0 3.0 0 1 0 6.0 0a3.0 3.0 0 1 0 -6.0 0M540.1 234.6a3.0 3.0 0 1 0 6.0 0a3.0 3.0 0 1 0 -6.0 0M554.0 232.6a3.0 3.0 0 1 0 6.0 0a3.0 3.0 0 1 0 -6.0 0M567.9 212.2a3.0 3.0 0 1 0 6.0 0a3.0 3.0 0 1 0 -6.0 0M581.7 174.3a3.0 3.0 0 1 0 6.0 0a3.0 3.0 0 1 0 -6.0 0M595.6 166.9a3.0 3.0 0 1 0 6.0 0a3.0 3.0 0 1 0 -6.0 0M609.5 227.7a3.0 3.0 0 1 0 6.0 0a3.0 3.0 0 1 0 -6.0 0M623.3 141.3a3.0 3.0 0 1 0 6.0 0a3.0 3.0 0 1 0 -6.0 0M637.2 213.2a3.0 3.0 0 1 0 6.0 0a3.0 3.0 0 1 0 -6.0 0M651.1 226.8a3.0 3.0 0 1 0 6.0 0a3.0 3.0 0 1 0 -6.0 0M664.9 135.1a3.0 3.0 0 1 0 6.0 0a3.0 3.0 0 1 0 -6.0 0M678.8 214.2a3.0 3.0 0 1 0 6.0 0a3.0 3.0 0 1 0 -6.0 0M692.7 186.4a3.0 3.0 0 1 0 6.0 0a3.0 3.0 0 1 0 -6.0 0M706.5 205.4a3.0 3.0 0 1 0 6.0 0a3.0 3.0 0 1 0 -6.0 0M720.4 168.9a3.0 3.0 0 1 0 6.0 0a3.0 3.0 0 1 0 -6.0 0M734.3 178.2a3.0 3.0 0 1 0 6.0 0a3.0 3.0 0 1 0 -6.0 0M748.1 212.2a3.0 3.0 0 1 0 6.0 0a3.0 3.0 0 1 0 -6.0 0M762.0 168.1a3.0 3.0 0 1 0 6.0 0a3.0 3.0 0 1 0 -6.0 0M775.9 235.6a3.0 3.0 0 1 0 6.0 0a3.0 3.0 0 1 0 -6.0 0M789.7 198.0a3.0 3.0 0 1 0 6.0 0a3.0 3.0 0 1 0 -6.0 0M803.6 232.6a3.0 3.0 0 1 0 6.0 0a3.0 3.0 0 1 0 -6.0 0M817.5 170.4a3.0 3.0 0 1 0 6.0 0a3.0 3.0 0 1 0 -6.0 0M831.3 240.0a3.0 3.0 0 1 0 6.0 0a3.0 3.0 0 1 0 -6.0 0M845.2 170.4a3.0 3.0 0 1 0 6.0 0a3.0 3.0 0 1 0 -6.0 0M859.1 217.1a3.0 3.0 0 1 0 6.0 0a3.0 3.0 0 1 0 -6.0 0M872.9 61.6a3.0 3.0 0 1 0 6.0 0a3.0 3.0 0 1 0 -6.0 0M886.8 196.7a3.0 3.0 0 1 0 6.0 0a3.0 3.0 0 1 0 -6.0 0M900.7 229.7a3.0 3.0 0 1 0 6.0 0a3.0 3.0 0 1 0 -6.0 0M914.5 195.3a3.0 3.0 0 1 0 6.0 0a3.0 3.0 0 1 0 -6.0 0M928.4 225.2a3.0 3.0 0 1 0 6.0 0a3.0 3.0 0 1 0 -6.0 0M942.3 219.4a3.0 3.0 0 1 0 6.0 0a3.0 3.0 0 1 0 -6.0 0M956.1 215.5a3.0 3.0 0 1 0 6.0 0a3.0 3.0 0 1 0 -6.0 0M970.0 193.7a3.0 3.0 0 1 0 6.0 0a3.0 3.0 0 1 0 -6.0 0M983.9 186.0a3.0 3.0 0 1 0 6.0 0a3.0 3.0 0 1 0 -6.0 0M997.7 230.7a3.0 3.0 0 1 0 6.0 0a3.0 3.0 0 1 0 -6.0 0M1011.6 206.4a3.0 3.0 0 1 0 6.0 0a3.0 3.0 0 1 0 -6.0 0M1025.5 220.0a3.0 3.0 0 1 0 6.0 0a3.0 3.0 0 1 0 -6.0 0M1039.3 234.2a3.0 3.0 0 1 0 6.0 0a3.0 3.0 0 1 0 -6.0 0M1053.2 198.0a3.0 3.0 0 1 0 6.0 0a3.0 3.0 0 1 0 -6.0 0M1067.0 177.2a3.0 3.0 0 1 0 6.0 0a3.0 3.0 0 1 0 -6.0 0M1080.9 203.8a3.0 3.0 0 1 0 6.0 0a3.0 3.0 0 1 0 -6.0 0M1094.8 205.0a3.0 3.0 0 1 0 6.0 0a3.0 3.0 0 1 0 -6.0 0M1108.6 183.1a3.0 3.0 0 1 0 6.0 0a3.0 3.0 0 1 0 -6.0 0M1122.5 227.7a3.0 3.0 0 1 0 6.0 0a3.0 3.0 0 1 0 -6.0 0M1136.4 203.1a3.0 3.0 0 1 0 6.0 0a3.0 3.0 0 1 0 -6.0 0M1150.2 225.2a3.0 3.0 0 1 0 6.0 0a3.0 3.0 0 1 0 -6.0 0M1164.1 177.8a3.0 3.0 0 1 0 6.0 0a3.0 3.0 0 1 0 -6.0 0M1178.0 225.2a3.0 3.0 0 1 0 6.0 0a3.0 3.0 0 1 0 -6.0 0M1191.8 205.0a3.0 3.0 0 1 0 6.0 0a3.0 3.0 0 1 0 -6.0 0M1205.7 195.7a3.0 3.0 0 1 0 6.0 0a3.0 3.0 0 1 0 -6.0 0M1219.6 230.7a3.0 3.0 0 1 0 6.0 0a3.0 3.0 0 1 0 -6.0 0M1233.4 209.3a3.0 3.0 0 1 0 6.0 0a3.0 3.0 0 1 0 -6.0 0M1247.3 216.1a3.0 3.0 0 1 0 6.0 0a3.0 3.0 0 1 0 -6.0 0M1261.2 186.4a3.0 3.0 0 1 0 6.0 0a3.0 3.0 0 1 0 -6.0 0M1275.0 215.1a3.0 3.0 0 1 0 6.0 0a3.0 3.0 0 1 0 -6.0 0M1288.9 221.3a3.0 3.0 0 1 0 6.0 0a3.0 3.0 0 1 0 -6.0 0M1302.8 215.5a3.0 3.0 0 1 0 6.0 0a3.0 3.0 0 1 0 -6.0 0M1316.6 205.4a3.0 3.0 0 1 0 6.0 0a3.0 3.0 0 1 0 -6.0 0M1330.5 199.2a3.0 3.0 0 1 0 6.0 0a3.0 3.0 0 1 0 -6.0 0M1344.4 177.2a3.0 3.0 0 1 0 6.0 0a3.0 3.0 0 1 0 -6.0 0M1358.2 209.3a3.0 3.0 0 1 0 6.0 0a3.0 3.0 0 1 0 -6.0 0M1372.1 203.8a3.0 3.0 0 1 0 6.0 0a3.0 3.0 0 1 0 -6.0 0M1386.0 240.0a3.0 3.0 0 1 0 6.0 0a3.0 3.0 0 1 0 -6.0 0M1399.8 172.0a3.0 3.0 0 1 0 6.0 0a3.0 3.0 0 1 0 -6.0 0M1413.7 205.4a3.0 3.0 0 1 0 6.0 0a3.0 3.0 0 1 0 -6.0 0M1427.6 204.5a3.0 3.0 0 1 0 6.0 0a3.0 3.0 0 1 0 -6.0 0M1441.4 210.3a3.0 3.0 0 1 0 6.0 0a3.0 3.0 0 1 0 -6.0 0M1455.3 203.1a3.0 3.0 0 1 0 6.0 0a3.0 3.0 0 1 0 -6.0 0M1469.2 181.1a3.0 3.0 0 1 0 6.0 0a3.0 3.0 0 1 0 -6.0 0M1483.0 168.9a3.0 3.0 0 1 0 6.0 0a3.0 3.0 0 1 0 -6.0 0M1496.9 225.2a3.0 3.0 0 1 0 6.0 0a3.0 3.0 0 1 0 -6.0 0M1510.8 218.0a3.0 3.0 0 1 0 6.0 0a3.0 3.0 0 1 0 -6.0 0M1524.6 196.7a3.0 3.0 0 1 0 6.0 0a3.0 3.0 0 1 0 -6.0 0M1538.5 168.5a3.0 3.0 0 1 0 6.0 0a3.0 3.0 0 1 0 -6.0 0M1552.4 94.2a3.0 3.0 0 1 0 6.0 0a3.0 3.0 0 1 0 -6.0 0M1566.2 172.4a3.0 3.0 0 1 0 6.0 0a3.0 3.0 0 1 0 -6.0 0M1580.1 193.7a3.0 3.0 0 1 0 6.0 0a3.0 3.0 0 1 0 -6.0 0M1594.0 239.4a3.0 3.0 0 1 0 6.0 0a3.0 3.0 0 1 0 -6.0 0M1607.8 215.1a3.0 3.0 0 1 0 6.0 0a3.0 3.0 0 1 0 -6.0 0M1621.7 229.7a3.0 3.0 0 1 0 6.0 0a3.0 3.0 0 1 0 -6.0 0M1635.6 201.5a3.0 3.0 0 1 0 6.0 0a3.0 3.0 0 1 0 -6.0 0M1649.4 181.1a3.0 3.0 0 1 0 6.0 0a3.0 3.0 0 1 0 -6.0 0M1663.3 61.6a3.0 3.0 0 1 0 6.0 0a3.0 3.0 0 1 0 -6.0 0M1677.2 201.1a3.0 3.0 0 1 0 6.0 0a3.0 3.0 0 1 0 -6.0 0M1691.0 223.9a3.0 3.0 0 1 0 6.0 0a3.0 3.0 0 1 0 -6.0 0M1704.9 190.8a3.0 3.0 0 1 0 6.0 0a3.0 3.0 0 1 0 -6.0 0M1718.8 181.7a3.0 3.0 0 1 0 6.0 0a3.0 3.0 0 1 0 -6.0 0M1732.6 207.8a3.0 3.0 0 1 0 6.0 0a3.0 3.0 0 1 0 -6.0 0M1746.5 193.7a3.0 3.0 0 1 0 6.0 0a3.0 3.0 0 1 0 -6.0 0M1760.3 178.6a3.0 3.0 0 1 0 6.0 0a3.0 3.0 0 1 0 -6.0 0M1774.2 196.7a3.0 3.0 0 1 0 6.0 0a3.0 3.0 0 1 0 -6.0 0M1788.1 173.3a3.0 3.0 0 1 0 6.0 0a3.0 3.0 0 1 0 -6.0 0" fill="#6ed0e0"/><text x="133.5" y="243.9" text-anchor="end" class="tk">0 Nm</text><text x="133.5" y="195.4" text-anchor="end" class="tk">1 Nm</text><text x="133.5" y="146.9" text-anchor="end" class="tk">2 Nm</text><text x="133.5" y="98.4" text-anchor="end" class="tk">3 Nm</text><text x="133.5" y="49.9" text-anchor="end" class="tk">4 Nm</text><text x="181.8" y="258.7" text-anchor="middle" class="tk">06:22</text><text x="237.3" y="258.7" text-anchor="middle" class="tk">06:24</text><text x="292.8" y="258.7" text-anchor="middle" class="tk">06:26</text><text x="348.2" y="258.7" text-anchor="middle" class="tk">06:28</text><text x="403.7" y="258.7" text-anchor="middle" class="tk">06:30</text><text x="459.1" y="258.7" text-anchor="middle" class="tk">06:32</text><text x="514.6" y="258.7" text-anchor="middle" class="tk">06:34</text><text x="570.1" y="258.7" text-anchor="middle" class="tk">06:36</text><text x="625.5" y="258.7" text-anchor="middle" class="tk">06:38</text><text x="681.0" y="258.7" text-anchor="middle" class="tk">06:40</text><text x="736.5" y="258.7" text-anchor="middle" class="tk">06:42</text><text x="791.9" y="258.7" text-anchor="middle" class="tk">06:44</text><text x="847.4" y="258.7" text-anchor="middle" class="tk">06:46</text><text x="902.9" y="258.7" text-anchor="middle" class="tk">06:48</text><text x="958.3" y="258.7" text-anchor="middle" class="tk">06:50</text><text x="1013.8" y="258.7" text-anchor="middle" class="tk">06:52</text><text x="1069.2" y="258.7" text-anchor="middle" class="tk">06:54</text><text x="1124.7" y="258.7" text-anchor="middle" class="tk">06:56</text><text x="1180.2" y="258.7" text-anchor="middle" class="tk">06:58</text><text x="1235.6" y="258.7" text-anchor="middle" class="tk">07:00</text><text x="1291.1" y="258.7" text-anchor="middle" class="tk">07:02</text><text x="1346.6" y="258.7" text-anchor="middle" class="tk">07:04</text><text x="1402.0" y="258.7" text-anchor="middle" class="tk">07:06</text><text x="1457.5" y="258.7" text-anchor="middle" class="tk">07:08</text><text x="1513.0" y="258.7" text-anchor="middle" class="tk">07:10</text><text x="1568.4" y="258.7" text-anchor="middle" class="tk">07:12</text><text x="1623.9" y="258.7" text-anchor="middle" class="tk">07:14</text><text x="1679.4" y="258.7" text-anchor="middle" class="tk">07:16</text><text x="1734.8" y="258.7" text-anchor="middle" class="tk">07:18</text><text x="1790.3" y="258.7" text-anchor="middle" class="tk">07:20</text></svg><span class="sw" style="left:18px;background:#7eb26d"></span><span class="lt" style="left:40.7px">Blade 1</span><span class="sw" style="left:89.9px;background:#eab839"></span><span class="lt" style="left:112.19999999999999px">Blade 2</span><span class="sw" style="left:162px;background:#6ed0e0"></span><span class="lt" style="left:183.60000000000002px">Blade 3</span></div><div class="panel" style="top:416px"><div class="corner"></div><div class="ci">i</div><div class="ptitle">Bending Moment flapwise</div><div class="ylab">Bending Moment, flapwise</div><svg class="chart" width="1752" height="296" viewBox="76 0 1752 296"><defs><linearGradient id="fg10" gradientUnits="userSpaceOnUse" x1="0" y1="46.4" x2="0" y2="240.4"><stop offset="0" stop-color="#7eb26d" stop-opacity="0.11"/><stop offset="1" stop-color="#7eb26d" stop-opacity="0.0"/></linearGradient><linearGradient id="fg11" gradientUnits="userSpaceOnUse" x1="0" y1="46.4" x2="0" y2="240.4"><stop offset="0" stop-color="#eab839" stop-opacity="0.11"/><stop offset="1" stop-color="#eab839" stop-opacity="0.0"/></linearGradient><linearGradient id="fg12" gradientUnits="userSpaceOnUse" x1="0" y1="46.4" x2="0" y2="240.4"><stop offset="0" stop-color="#6ed0e0" stop-opacity="0.11"/><stop offset="1" stop-color="#6ed0e0" stop-opacity="0.0"/></linearGradient></defs><path d="M139 240.5H1803.0 M139 191.5H1803.0 M139 143.5H1803.0 M139 94.5H1803.0 M139 46.5H1803.0" stroke="#c8c8c8" stroke-opacity="0.4" stroke-width="1" fill="none"/><path d="M181.5 46V241 M237.5 46V241 M292.5 46V241 M348.5 46V241 M403.5 46V241 M459.5 46V241 M514.5 46V241 M570.5 46V241 M625.5 46V241 M680.5 46V241 M736.5 46V241 M791.5 46V241 M847.5 46V241 M902.5 46V241 M958.5 46V241 M1013.5 46V241 M1069.5 46V241 M1124.5 46V241 M1180.5 46V241 M1235.5 46V241 M1291.5 46V241 M1346.5 46V241 M1402.5 46V241 M1457.5 46V241 M1512.5 46V241 M1568.5 46V241 M1623.5 46V241 M1679.5 46V241 M1734.5 46V241 M1790.5 46V241" stroke="#c8c8c8" stroke-opacity="0.4" stroke-width="1" fill="none"/><path d="M141.2 233.0 L155.1 194.7 L168.9 238.5 L182.8 197.2 L196.7 214.7 L210.5 167.5 L224.4 233.0 L238.3 240.0 L252.1 237.5 L266.0 235.6 L279.9 216.1 L293.7 235.0 L307.6 228.8 L321.5 232.3 L335.3 170.4 L349.2 216.7 L363.1 226.8 L376.9 232.3 L390.8 231.1 L404.7 205.8 L418.5 207.4 L432.4 230.7 L446.3 212.2 L460.1 221.3 L474.0 201.1 L487.9 216.1 L501.7 166.9 L515.6 175.3 L529.5 204.5 L543.3 221.9 L557.2 198.0 L571.0 189.5 L584.9 172.4 L598.8 192.8 L612.6 207.0 L626.5 190.3 L640.4 235.0 L654.2 198.6 L668.1 184.4 L682.0 182.5 L695.8 212.2 L709.7 215.5 L723.6 203.4 L737.4 192.8 L751.3 216.7 L765.2 213.2 L779.0 218.6 L792.9 193.7 L806.8 222.9 L820.6 176.6 L834.5 196.7 L848.4 172.0 L862.2 226.4 L876.1 171.4 L890.0 170.8 L903.8 211.3 L917.7 234.6 L931.6 221.9 L945.4 193.7 L959.3 174.3 L973.2 214.2 L987.0 202.5 L1000.9 212.8 L1014.8 205.0 L1028.6 195.3 L1042.5 216.7 L1056.4 187.5 L1070.2 192.8 L1084.1 190.8 L1098.0 231.1 L1111.8 176.6 L1125.7 187.9 L1139.6 186.4 L1153.4 239.4 L1167.3 180.2 L1181.2 223.9 L1195.0 221.3 L1208.9 222.5 L1222.8 93.6 L1236.6 234.2 L1250.5 172.0 L1264.3 166.9 L1278.2 213.6 L1292.1 225.8 L1305.9 214.2 L1319.8 202.5 L1333.7 226.4 L1347.5 231.7 L1361.4 201.9 L1375.3 203.8 L1389.1 186.4 L1403.0 207.8 L1416.9 172.4 L1430.7 235.6 L1444.6 215.5 L1458.5 187.5 L1472.3 222.5 L1486.2 239.4 L1500.1 168.9 L1513.9 230.7 L1527.8 205.0 L1541.7 180.2 L1555.5 205.8 L1569.4 222.9 L1583.3 229.1 L1597.1 181.7 L1611.0 229.7 L1624.9 224.8 L1638.7 236.5 L1652.6 229.1 L1666.5 215.1 L1680.3 234.6 L1694.2 218.6 L1708.1 174.7 L1721.9 197.2 L1735.8 232.6 L1749.7 222.5 L1763.5 232.6 L1777.4 183.7 L1791.3 168.1 L1791.3 240.4 L141.2 240.4 Z" fill="url(#fg10)" stroke="none"/><path d="M141.2 203.1 L155.1 226.8 L168.9 205.4 L182.8 236.1 L196.7 185.0 L210.5 176.6 L224.4 205.8 L238.3 233.6 L252.1 232.6 L266.0 235.0 L279.9 207.8 L293.7 210.9 L307.6 219.4 L321.5 234.6 L335.3 236.1 L349.2 231.7 L363.1 198.0 L376.9 172.4 L390.8 203.1 L404.7 234.6 L418.5 188.9 L432.4 203.8 L446.3 238.8 L460.1 231.1 L474.0 213.6 L487.9 185.6 L501.7 215.1 L515.6 183.1 L529.5 221.3 L543.3 219.0 L557.2 202.5 L571.0 196.1 L584.9 183.1 L598.8 220.0 L612.6 205.8 L626.5 201.1 L640.4 215.5 L654.2 204.5 L668.1 232.6 L682.0 225.2 L695.8 220.0 L709.7 230.7 L723.6 199.2 L737.4 238.1 L751.3 219.0 L765.2 221.3 L779.0 197.6 L792.9 194.1 L806.8 179.1 L820.6 197.2 L834.5 196.7 L848.4 233.0 L862.2 88.4 L876.1 184.4 L890.0 231.7 L903.8 229.1 L917.7 227.7 L931.6 214.2 L945.4 192.8 L959.3 236.1 L973.2 188.3 L987.0 179.1 L1000.9 194.1 L1014.8 181.1 L1028.6 209.3 L1042.5 233.0 L1056.4 201.9 L1070.2 194.7 L1084.1 200.0 L1098.0 222.5 L1111.8 111.1 L1125.7 225.2 L1139.6 184.4 L1153.4 230.3 L1167.3 232.3 L1181.2 235.6 L1195.0 67.0 L1208.9 233.6 L1222.8 203.1 L1236.6 167.5 L1250.5 203.1 L1264.3 203.8 L1278.2 134.5 L1292.1 183.1 L1305.9 192.8 L1319.8 203.8 L1333.7 216.1 L1347.5 190.8 L1361.4 229.7 L1375.3 208.9 L1389.1 225.2 L1403.0 210.3 L1416.9 212.2 L1430.7 53.8 L1444.6 224.4 L1458.5 193.4 L1472.3 201.9 L1486.2 210.9 L1500.1 201.9 L1513.9 223.9 L1527.8 170.8 L1541.7 209.7 L1555.5 215.5 L1569.4 188.9 L1583.3 225.2 L1597.1 205.8 L1611.0 222.5 L1624.9 237.5 L1638.7 237.5 L1652.6 187.9 L1666.5 186.0 L1680.3 205.4 L1694.2 238.1 L1708.1 212.2 L1721.9 168.9 L1735.8 211.3 L1749.7 170.8 L1763.5 239.4 L1777.4 236.9 L1791.3 139.7 L1791.3 240.4 L141.2 240.4 Z" fill="url(#fg11)" stroke="none"/><path d="M141.2 91.1 L155.1 168.9 L168.9 225.8 L182.8 225.8 L196.7 189.5 L210.5 208.9 L224.4 227.7 L238.3 175.3 L252.1 221.3 L266.0 180.6 L279.9 183.7 L293.7 206.4 L307.6 207.8 L321.5 231.7 L335.3 230.7 L349.2 201.1 L363.1 202.5 L376.9 199.2 L390.8 221.9 L404.7 205.8 L418.5 238.5 L432.4 227.2 L446.3 214.7 L460.1 176.6 L474.0 193.7 L487.9 213.2 L501.7 170.0 L515.6 226.4 L529.5 175.3 L543.3 176.2 L557.2 201.9 L571.0 173.3 L584.9 186.0 L598.8 173.3 L612.6 190.3 L626.5 238.5 L640.4 176.6 L654.2 220.0 L668.1 219.0 L682.0 207.4 L695.8 207.4 L709.7 233.6 L723.6 236.5 L737.4 203.4 L751.3 240.0 L765.2 198.0 L779.0 227.2 L792.9 238.1 L806.8 223.9 L820.6 238.5 L834.5 198.0 L848.4 217.1 L862.2 192.8 L876.1 207.8 L890.0 142.8 L903.8 208.9 L917.7 184.0 L931.6 203.8 L945.4 232.3 L959.3 232.6 L973.2 196.7 L987.0 205.0 L1000.9 230.3 L1014.8 198.0 L1028.6 184.4 L1042.5 229.7 L1056.4 205.0 L1070.2 173.3 L1084.1 201.9 L1098.0 189.5 L1111.8 221.3 L1125.7 198.6 L1139.6 238.1 L1153.4 234.6 L1167.3 239.4 L1181.2 227.7 L1195.0 216.7 L1208.9 210.3 L1222.8 188.9 L1236.6 168.9 L1250.5 203.1 L1264.3 210.9 L1278.2 177.8 L1292.1 232.6 L1305.9 215.1 L1319.8 227.2 L1333.7 189.9 L1347.5 240.0 L1361.4 183.7 L1375.3 223.9 L1389.1 193.4 L1403.0 231.1 L1416.9 210.3 L1430.7 205.8 L1444.6 203.8 L1458.5 226.4 L1472.3 238.1 L1486.2 220.0 L1500.1 207.8 L1513.9 208.9 L1527.8 190.8 L1541.7 174.7 L1555.5 203.1 L1569.4 215.5 L1583.3 174.7 L1597.1 187.9 L1611.0 190.8 L1624.9 178.6 L1638.7 224.4 L1652.6 172.7 L1666.5 195.3 L1680.3 128.0 L1694.2 177.8 L1708.1 181.1 L1721.9 231.1 L1735.8 236.1 L1749.7 179.7 L1763.5 193.7 L1777.4 235.0 L1791.3 199.2 L1791.3 240.4 L141.2 240.4 Z" fill="url(#fg12)" stroke="none"/><path d="M141.2 233.0 L155.1 194.7 L168.9 238.5 L182.8 197.2 L196.7 214.7 L210.5 167.5 L224.4 233.0 L238.3 240.0 L252.1 237.5 L266.0 235.6 L279.9 216.1 L293.7 235.0 L307.6 228.8 L321.5 232.3 L335.3 170.4 L349.2 216.7 L363.1 226.8 L376.9 232.3 L390.8 231.1 L404.7 205.8 L418.5 207.4 L432.4 230.7 L446.3 212.2 L460.1 221.3 L474.0 201.1 L487.9 216.1 L501.7 166.9 L515.6 175.3 L529.5 204.5 L543.3 221.9 L557.2 198.0 L571.0 189.5 L584.9 172.4 L598.8 192.8 L612.6 207.0 L626.5 190.3 L640.4 235.0 L654.2 198.6 L668.1 184.4 L682.0 182.5 L695.8 212.2 L709.7 215.5 L723.6 203.4 L737.4 192.8 L751.3 216.7 L765.2 213.2 L779.0 218.6 L792.9 193.7 L806.8 222.9 L820.6 176.6 L834.5 196.7 L848.4 172.0 L862.2 226.4 L876.1 171.4 L890.0 170.8 L903.8 211.3 L917.7 234.6 L931.6 221.9 L945.4 193.7 L959.3 174.3 L973.2 214.2 L987.0 202.5 L1000.9 212.8 L1014.8 205.0 L1028.6 195.3 L1042.5 216.7 L1056.4 187.5 L1070.2 192.8 L1084.1 190.8 L1098.0 231.1 L1111.8 176.6 L1125.7 187.9 L1139.6 186.4 L1153.4 239.4 L1167.3 180.2 L1181.2 223.9 L1195.0 221.3 L1208.9 222.5 L1222.8 93.6 L1236.6 234.2 L1250.5 172.0 L1264.3 166.9 L1278.2 213.6 L1292.1 225.8 L1305.9 214.2 L1319.8 202.5 L1333.7 226.4 L1347.5 231.7 L1361.4 201.9 L1375.3 203.8 L1389.1 186.4 L1403.0 207.8 L1416.9 172.4 L1430.7 235.6 L1444.6 215.5 L1458.5 187.5 L1472.3 222.5 L1486.2 239.4 L1500.1 168.9 L1513.9 230.7 L1527.8 205.0 L1541.7 180.2 L1555.5 205.8 L1569.4 222.9 L1583.3 229.1 L1597.1 181.7 L1611.0 229.7 L1624.9 224.8 L1638.7 236.5 L1652.6 229.1 L1666.5 215.1 L1680.3 234.6 L1694.2 218.6 L1708.1 174.7 L1721.9 197.2 L1735.8 232.6 L1749.7 222.5 L1763.5 232.6 L1777.4 183.7 L1791.3 168.1" fill="none" stroke="#7eb26d" stroke-width="2.7" stroke-linejoin="round"/><path d="M138.2 233.0a3.0 3.0 0 1 0 6.0 0a3.0 3.0 0 1 0 -6.0 0M152.1 194.7a3.0 3.0 0 1 0 6.0 0a3.0 3.0 0 1 0 -6.0 0M165.9 238.5a3.0 3.0 0 1 0 6.0 0a3.0 3.0 0 1 0 -6.0 0M179.8 197.2a3.0 3.0 0 1 0 6.0 0a3.0 3.0 0 1 0 -6.0 0M193.7 214.7a3.0 3.0 0 1 0 6.0 0a3.0 3.0 0 1 0 -6.0 0M207.5 167.5a3.0 3.0 0 1 0 6.0 0a3.0 3.0 0 1 0 -6.0 0M221.4 233.0a3.0 3.0 0 1 0 6.0 0a3.0 3.0 0 1 0 -6.0 0M235.3 240.0a3.0 3.0 0 1 0 6.0 0a3.0 3.0 0 1 0 -6.0 0M249.1 237.5a3.0 3.0 0 1 0 6.0 0a3.0 3.0 0 1 0 -6.0 0M263.0 235.6a3.0 3.0 0 1 0 6.0 0a3.0 3.0 0 1 0 -6.0 0M276.9 216.1a3.0 3.0 0 1 0 6.0 0a3.0 3.0 0 1 0 -6.0 0M290.7 235.0a3.0 3.0 0 1 0 6.0 0a3.0 3.0 0 1 0 -6.0 0M304.6 228.8a3.0 3.0 0 1 0 6.0 0a3.0 3.0 0 1 0 -6.0 0M318.5 232.3a3.0 3.0 0 1 0 6.0 0a3.0 3.0 0 1 0 -6.0 0M332.3 170.4a3.0 3.0 0 1 0 6.0 0a3.0 3.0 0 1 0 -6.0 0M346.2 216.7a3.0 3.0 0 1 0 6.0 0a3.0 3.0 0 1 0 -6.0 0M360.1 226.8a3.0 3.0 0 1 0 6.0 0a3.0 3.0 0 1 0 -6.0 0M373.9 232.3a3.0 3.0 0 1 0 6.0 0a3.0 3.0 0 1 0 -6.0 0M387.8 231.1a3.0 3.0 0 1 0 6.0 0a3.0 3.0 0 1 0 -6.0 0M401.7 205.8a3.0 3.0 0 1 0 6.0 0a3.0 3.0 0 1 0 -6.0 0M415.5 207.4a3.0 3.0 0 1 0 6.0 0a3.0 3.0 0 1 0 -6.0 0M429.4 230.7a3.0 3.0 0 1 0 6.0 0a3.0 3.0 0 1 0 -6.0 0M443.3 212.2a3.0 3.0 0 1 0 6.0 0a3.0 3.0 0 1 0 -6.0 0M457.1 221.3a3.0 3.0 0 1 0 6.0 0a3.0 3.0 0 1 0 -6.0 0M471.0 201.1a3.0 3.0 0 1 0 6.0 0a3.0 3.0 0 1 0 -6.0 0M484.9 216.1a3.0 3.0 0 1 0 6.0 0a3.0 3.0 0 1 0 -6.0 0M498.7 166.9a3.0 3.0 0 1 0 6.0 0a3.0 3.0 0 1 0 -6.0 0M512.6 175.3a3.0 3.0 0 1 0 6.0 0a3.0 3.0 0 1 0 -6.0 0M526.5 204.5a3.0 3.0 0 1 0 6.0 0a3.0 3.0 0 1 0 -6.0 0M540.3 221.9a3.0 3.0 0 1 0 6.0 0a3.0 3.0 0 1 0 -6.0 0M554.2 198.0a3.0 3.0 0 1 0 6.0 0a3.0 3.0 0 1 0 -6.0 0M568.0 189.5a3.0 3.0 0 1 0 6.0 0a3.0 3.0 0 1 0 -6.0 0M581.9 172.4a3.0 3.0 0 1 0 6.0 0a3.0 3.0 0 1 0 -6.0 0M595.8 192.8a3.0 3.0 0 1 0 6.0 0a3.0 3.0 0 1 0 -6.0 0M609.6 207.0a3.0 3.0 0 1 0 6.0 0a3.0 3.0 0 1 0 -6.0 0M623.5 190.3a3.0 3.0 0 1 0 6.0 0a3.0 3.0 0 1 0 -6.0 0M637.4 235.0a3.0 3.0 0 1 0 6.0 0a3.0 3.0 0 1 0 -6.0 0M651.2 198.6a3.0 3.0 0 1 0 6.0 0a3.0 3.0 0 1 0 -6.0 0M665.1 184.4a3.0 3.0 0 1 0 6.0 0a3.0 3.0 0 1 0 -6.0 0M679.0 182.5a3.0 3.0 0 1 0 6.0 0a3.0 3.0 0 1 0 -6.0 0M692.8 212.2a3.0 3.0 0 1 0 6.0 0a3.0 3.0 0 1 0 -6.0 0M706.7 215.5a3.0 3.0 0 1 0 6.0 0a3.0 3.0 0 1 0 -6.0 0M720.6 203.4a3.0 3.0 0 1 0 6.0 0a3.0 3.0 0 1 0 -6.0 0M734.4 192.8a3.0 3.0 0 1 0 6.0 0a3.0 3.0 0 1 0 -6.0 0M748.3 216.7a3.0 3.0 0 1 0 6.0 0a3.0 3.0 0 1 0 -6.0 0M762.2 213.2a3.0 3.0 0 1 0 6.0 0a3.0 3.0 0 1 0 -6.0 0M776.0 218.6a3.0 3.0 0 1 0 6.0 0a3.0 3.0 0 1 0 -6.0 0M789.9 193.7a3.0 3.0 0 1 0 6.0 0a3.0 3.0 0 1 0 -6.0 0M803.8 222.9a3.0 3.0 0 1 0 6.0 0a3.0 3.0 0 1 0 -6.0 0M817.6 176.6a3.0 3.0 0 1 0 6.0 0a3.0 3.0 0 1 0 -6.0 0M831.5 196.7a3.0 3.0 0 1 0 6.0 0a3.0 3.0 0 1 0 -6.0 0M845.4 172.0a3.0 3.0 0 1 0 6.0 0a3.0 3.0 0 1 0 -6.0 0M859.2 226.4a3.0 3.0 0 1 0 6.0 0a3.0 3.0 0 1 0 -6.0 0M873.1 171.4a3.0 3.0 0 1 0 6.0 0a3.0 3.0 0 1 0 -6.0 0M887.0 170.8a3.0 3.0 0 1 0 6.0 0a3.0 3.0 0 1 0 -6.0 0M900.8 211.3a3.0 3.0 0 1 0 6.0 0a3.0 3.0 0 1 0 -6.0 0M914.7 234.6a3.0 3.0 0 1 0 6.0 0a3.0 3.0 0 1 0 -6.0 0M928.6 221.9a3.0 3.0 0 1 0 6.0 0a3.0 3.0 0 1 0 -6.0 0M942.4 193.7a3.0 3.0 0 1 0 6.0 0a3.0 3.0 0 1 0 -6.0 0M956.3 174.3a3.0 3.0 0 1 0 6.0 0a3.0 3.0 0 1 0 -6.0 0M970.2 214.2a3.0 3.0 0 1 0 6.0 0a3.0 3.0 0 1 0 -6.0 0M984.0 202.5a3.0 3.0 0 1 0 6.0 0a3.0 3.0 0 1 0 -6.0 0M997.9 212.8a3.0 3.0 0 1 0 6.0 0a3.0 3.0 0 1 0 -6.0 0M1011.8 205.0a3.0 3.0 0 1 0 6.0 0a3.0 3.0 0 1 0 -6.0 0M1025.6 195.3a3.0 3.0 0 1 0 6.0 0a3.0 3.0 0 1 0 -6.0 0M1039.5 216.7a3.0 3.0 0 1 0 6.0 0a3.0 3.0 0 1 0 -6.0 0M1053.4 187.5a3.0 3.0 0 1 0 6.0 0a3.0 3.0 0 1 0 -6.0 0M1067.2 192.8a3.0 3.0 0 1 0 6.0 0a3.0 3.0 0 1 0 -6.0 0M1081.1 190.8a3.0 3.0 0 1 0 6.0 0a3.0 3.0 0 1 0 -6.0 0M1095.0 231.1a3.0 3.0 0 1 0 6.0 0a3.0 3.0 0 1 0 -6.0 0M1108.8 176.6a3.0 3.0 0 1 0 6.0 0a3.0 3.0 0 1 0 -6.0 0M1122.7 187.9a3.0 3.0 0 1 0 6.0 0a3.0 3.0 0 1 0 -6.0 0M1136.6 186.4a3.0 3.0 0 1 0 6.0 0a3.0 3.0 0 1 0 -6.0 0M1150.4 239.4a3.0 3.0 0 1 0 6.0 0a3.0 3.0 0 1 0 -6.0 0M1164.3 180.2a3.0 3.0 0 1 0 6.0 0a3.0 3.0 0 1 0 -6.0 0M1178.2 223.9a3.0 3.0 0 1 0 6.0 0a3.0 3.0 0 1 0 -6.0 0M1192.0 221.3a3.0 3.0 0 1 0 6.0 0a3.0 3.0 0 1 0 -6.0 0M1205.9 222.5a3.0 3.0 0 1 0 6.0 0a3.0 3.0 0 1 0 -6.0 0M1219.8 93.6a3.0 3.0 0 1 0 6.0 0a3.0 3.0 0 1 0 -6.0 0M1233.6 234.2a3.0 3.0 0 1 0 6.0 0a3.0 3.0 0 1 0 -6.0 0M1247.5 172.0a3.0 3.0 0 1 0 6.0 0a3.0 3.0 0 1 0 -6.0 0M1261.3 166.9a3.0 3.0 0 1 0 6.0 0a3.0 3.0 0 1 0 -6.0 0M1275.2 213.6a3.0 3.0 0 1 0 6.0 0a3.0 3.0 0 1 0 -6.0 0M1289.1 225.8a3.0 3.0 0 1 0 6.0 0a3.0 3.0 0 1 0 -6.0 0M1302.9 214.2a3.0 3.0 0 1 0 6.0 0a3.0 3.0 0 1 0 -6.0 0M1316.8 202.5a3.0 3.0 0 1 0 6.0 0a3.0 3.0 0 1 0 -6.0 0M1330.7 226.4a3.0 3.0 0 1 0 6.0 0a3.0 3.0 0 1 0 -6.0 0M1344.5 231.7a3.0 3.0 0 1 0 6.0 0a3.0 3.0 0 1 0 -6.0 0M1358.4 201.9a3.0 3.0 0 1 0 6.0 0a3.0 3.0 0 1 0 -6.0 0M1372.3 203.8a3.0 3.0 0 1 0 6.0 0a3.0 3.0 0 1 0 -6.0 0M1386.1 186.4a3.0 3.0 0 1 0 6.0 0a3.0 3.0 0 1 0 -6.0 0M1400.0 207.8a3.0 3.0 0 1 0 6.0 0a3.0 3.0 0 1 0 -6.0 0M1413.9 172.4a3.0 3.0 0 1 0 6.0 0a3.0 3.0 0 1 0 -6.0 0M1427.7 235.6a3.0 3.0 0 1 0 6.0 0a3.0 3.0 0 1 0 -6.0 0M1441.6 215.5a3.0 3.0 0 1 0 6.0 0a3.0 3.0 0 1 0 -6.0 0M1455.5 187.5a3.0 3.0 0 1 0 6.0 0a3.0 3.0 0 1 0 -6.0 0M1469.3 222.5a3.0 3.0 0 1 0 6.0 0a3.0 3.0 0 1 0 -6.0 0M1483.2 239.4a3.0 3.0 0 1 0 6.0 0a3.0 3.0 0 1 0 -6.0 0M1497.1 168.9a3.0 3.0 0 1 0 6.0 0a3.0 3.0 0 1 0 -6.0 0M1510.9 230.7a3.0 3.0 0 1 0 6.0 0a3.0 3.0 0 1 0 -6.0 0M1524.8 205.0a3.0 3.0 0 1 0 6.0 0a3.0 3.0 0 1 0 -6.0 0M1538.7 180.2a3.0 3.0 0 1 0 6.0 0a3.0 3.0 0 1 0 -6.0 0M1552.5 205.8a3.0 3.0 0 1 0 6.0 0a3.0 3.0 0 1 0 -6.0 0M1566.4 222.9a3.0 3.0 0 1 0 6.0 0a3.0 3.0 0 1 0 -6.0 0M1580.3 229.1a3.0 3.0 0 1 0 6.0 0a3.0 3.0 0 1 0 -6.0 0M1594.1 181.7a3.0 3.0 0 1 0 6.0 0a3.0 3.0 0 1 0 -6.0 0M1608.0 229.7a3.0 3.0 0 1 0 6.0 0a3.0 3.0 0 1 0 -6.0 0M1621.9 224.8a3.0 3.0 0 1 0 6.0 0a3.0 3.0 0 1 0 -6.0 0M1635.7 236.5a3.0 3.0 0 1 0 6.0 0a3.0 3.0 0 1 0 -6.0 0M1649.6 229.1a3.0 3.0 0 1 0 6.0 0a3.0 3.0 0 1 0 -6.0 0M1663.5 215.1a3.0 3.0 0 1 0 6.0 0a3.0 3.0 0 1 0 -6.0 0M1677.3 234.6a3.0 3.0 0 1 0 6.0 0a3.0 3.0 0 1 0 -6.0 0M1691.2 218.6a3.0 3.0 0 1 0 6.0 0a3.0 3.0 0 1 0 -6.0 0M1705.1 174.7a3.0 3.0 0 1 0 6.0 0a3.0 3.0 0 1 0 -6.0 0M1718.9 197.2a3.0 3.0 0 1 0 6.0 0a3.0 3.0 0 1 0 -6.0 0M1732.8 232.6a3.0 3.0 0 1 0 6.0 0a3.0 3.0 0 1 0 -6.0 0M1746.7 222.5a3.0 3.0 0 1 0 6.0 0a3.0 3.0 0 1 0 -6.0 0M1760.5 232.6a3.0 3.0 0 1 0 6.0 0a3.0 3.0 0 1 0 -6.0 0M1774.4 183.7a3.0 3.0 0 1 0 6.0 0a3.0 3.0 0 1 0 -6.0 0M1788.3 168.1a3.0 3.0 0 1 0 6.0 0a3.0 3.0 0 1 0 -6.0 0" fill="#7eb26d"/><path d="M141.2 203.1 L155.1 226.8 L168.9 205.4 L182.8 236.1 L196.7 185.0 L210.5 176.6 L224.4 205.8 L238.3 233.6 L252.1 232.6 L266.0 235.0 L279.9 207.8 L293.7 210.9 L307.6 219.4 L321.5 234.6 L335.3 236.1 L349.2 231.7 L363.1 198.0 L376.9 172.4 L390.8 203.1 L404.7 234.6 L418.5 188.9 L432.4 203.8 L446.3 238.8 L460.1 231.1 L474.0 213.6 L487.9 185.6 L501.7 215.1 L515.6 183.1 L529.5 221.3 L543.3 219.0 L557.2 202.5 L571.0 196.1 L584.9 183.1 L598.8 220.0 L612.6 205.8 L626.5 201.1 L640.4 215.5 L654.2 204.5 L668.1 232.6 L682.0 225.2 L695.8 220.0 L709.7 230.7 L723.6 199.2 L737.4 238.1 L751.3 219.0 L765.2 221.3 L779.0 197.6 L792.9 194.1 L806.8 179.1 L820.6 197.2 L834.5 196.7 L848.4 233.0 L862.2 88.4 L876.1 184.4 L890.0 231.7 L903.8 229.1 L917.7 227.7 L931.6 214.2 L945.4 192.8 L959.3 236.1 L973.2 188.3 L987.0 179.1 L1000.9 194.1 L1014.8 181.1 L1028.6 209.3 L1042.5 233.0 L1056.4 201.9 L1070.2 194.7 L1084.1 200.0 L1098.0 222.5 L1111.8 111.1 L1125.7 225.2 L1139.6 184.4 L1153.4 230.3 L1167.3 232.3 L1181.2 235.6 L1195.0 67.0 L1208.9 233.6 L1222.8 203.1 L1236.6 167.5 L1250.5 203.1 L1264.3 203.8 L1278.2 134.5 L1292.1 183.1 L1305.9 192.8 L1319.8 203.8 L1333.7 216.1 L1347.5 190.8 L1361.4 229.7 L1375.3 208.9 L1389.1 225.2 L1403.0 210.3 L1416.9 212.2 L1430.7 53.8 L1444.6 224.4 L1458.5 193.4 L1472.3 201.9 L1486.2 210.9 L1500.1 201.9 L1513.9 223.9 L1527.8 170.8 L1541.7 209.7 L1555.5 215.5 L1569.4 188.9 L1583.3 225.2 L1597.1 205.8 L1611.0 222.5 L1624.9 237.5 L1638.7 237.5 L1652.6 187.9 L1666.5 186.0 L1680.3 205.4 L1694.2 238.1 L1708.1 212.2 L1721.9 168.9 L1735.8 211.3 L1749.7 170.8 L1763.5 239.4 L1777.4 236.9 L1791.3 139.7" fill="none" stroke="#eab839" stroke-width="2.7" stroke-linejoin="round"/><path d="M138.2 203.1a3.0 3.0 0 1 0 6.0 0a3.0 3.0 0 1 0 -6.0 0M152.1 226.8a3.0 3.0 0 1 0 6.0 0a3.0 3.0 0 1 0 -6.0 0M165.9 205.4a3.0 3.0 0 1 0 6.0 0a3.0 3.0 0 1 0 -6.0 0M179.8 236.1a3.0 3.0 0 1 0 6.0 0a3.0 3.0 0 1 0 -6.0 0M193.7 185.0a3.0 3.0 0 1 0 6.0 0a3.0 3.0 0 1 0 -6.0 0M207.5 176.6a3.0 3.0 0 1 0 6.0 0a3.0 3.0 0 1 0 -6.0 0M221.4 205.8a3.0 3.0 0 1 0 6.0 0a3.0 3.0 0 1 0 -6.0 0M235.3 233.6a3.0 3.0 0 1 0 6.0 0a3.0 3.0 0 1 0 -6.0 0M249.1 232.6a3.0 3.0 0 1 0 6.0 0a3.0 3.0 0 1 0 -6.0 0M263.0 235.0a3.0 3.0 0 1 0 6.0 0a3.0 3.0 0 1 0 -6.0 0M276.9 207.8a3.0 3.0 0 1 0 6.0 0a3.0 3.0 0 1 0 -6.0 0M290.7 210.9a3.0 3.0 0 1 0 6.0 0a3.0 3.0 0 1 0 -6.0 0M304.6 219.4a3.0 3.0 0 1 0 6.0 0a3.0 3.0 0 1 0 -6.0 0M318.5 234.6a3.0 3.0 0 1 0 6.0 0a3.0 3.0 0 1 0 -6.0 0M332.3 236.1a3.0 3.0 0 1 0 6.0 0a3.0 3.0 0 1 0 -6.0 0M346.2 231.7a3.0 3.0 0 1 0 6.0 0a3.0 3.0 0 1 0 -6.0 0M360.1 198.0a3.0 3.0 0 1 0 6.0 0a3.0 3.0 0 1 0 -6.0 0M373.9 172.4a3.0 3.0 0 1 0 6.0 0a3.0 3.0 0 1 0 -6.0 0M387.8 203.1a3.0 3.0 0 1 0 6.0 0a3.0 3.0 0 1 0 -6.0 0M401.7 234.6a3.0 3.0 0 1 0 6.0 0a3.0 3.0 0 1 0 -6.0 0M415.5 188.9a3.0 3.0 0 1 0 6.0 0a3.0 3.0 0 1 0 -6.0 0M429.4 203.8a3.0 3.0 0 1 0 6.0 0a3.0 3.0 0 1 0 -6.0 0M443.3 238.8a3.0 3.0 0 1 0 6.0 0a3.0 3.0 0 1 0 -6.0 0M457.1 231.1a3.0 3.0 0 1 0 6.0 0a3.0 3.0 0 1 0 -6.0 0M471.0 213.6a3.0 3.0 0 1 0 6.0 0a3.0 3.0 0 1 0 -6.0 0M484.9 185.6a3.0 3.0 0 1 0 6.0 0a3.0 3.0 0 1 0 -6.0 0M498.7 215.1a3.0 3.0 0 1 0 6.0 0a3.0 3.0 0 1 0 -6.0 0M512.6 183.1a3.0 3.0 0 1 0 6.0 0a3.0 3.0 0 1 0 -6.0 0M526.5 221.3a3.0 3.0 0 1 0 6.0 0a3.0 3.0 0 1 0 -6.0 0M540.3 219.0a3.0 3.0 0 1 0 6.0 0a3.0 3.0 0 1 0 -6.0 0M554.2 202.5a3.0 3.0 0 1 0 6.0 0a3.0 3.0 0 1 0 -6.0 0M568.0 196.1a3.0 3.0 0 1 0 6.0 0a3.0 3.0 0 1 0 -6.0 0M581.9 183.1a3.0 3.0 0 1 0 6.0 0a3.0 3.0 0 1 0 -6.0 0M595.8 220.0a3.0 3.0 0 1 0 6.0 0a3.0 3.0 0 1 0 -6.0 0M609.6 205.8a3.0 3.0 0 1 0 6.0 0a3.0 3.0 0 1 0 -6.0 0M623.5 201.1a3.0 3.0 0 1 0 6.0 0a3.0 3.0 0 1 0 -6.0 0M637.4 215.5a3.0 3.0 0 1 0 6.0 0a3.0 3.0 0 1 0 -6.0 0M651.2 204.5a3.0 3.0 0 1 0 6.0 0a3.0 3.0 0 1 0 -6.0 0M665.1 232.6a3.0 3.0 0 1 0 6.0 0a3.0 3.0 0 1 0 -6.0 0M679.0 225.2a3.0 3.0 0 1 0 6.0 0a3.0 3.0 0 1 0 -6.0 0M692.8 220.0a3.0 3.0 0 1 0 6.0 0a3.0 3.0 0 1 0 -6.0 0M706.7 230.7a3.0 3.0 0 1 0 6.0 0a3.0 3.0 0 1 0 -6.0 0M720.6 199.2a3.0 3.0 0 1 0 6.0 0a3.0 3.0 0 1 0 -6.0 0M734.4 238.1a3.0 3.0 0 1 0 6.0 0a3.0 3.0 0 1 0 -6.0 0M748.3 219.0a3.0 3.0 0 1 0 6.0 0a3.0 3.0 0 1 0 -6.0 0M762.2 221.3a3.0 3.0 0 1 0 6.0 0a3.0 3.0 0 1 0 -6.0 0M776.0 197.6a3.0 3.0 0 1 0 6.0 0a3.0 3.0 0 1 0 -6.0 0M789.9 194.1a3.0 3.0 0 1 0 6.0 0a3.0 3.0 0 1 0 -6.0 0M803.8 179.1a3.0 3.0 0 1 0 6.0 0a3.0 3.0 0 1 0 -6.0 0M817.6 197.2a3.0 3.0 0 1 0 6.0 0a3.0 3.0 0 1 0 -6.0 0M831.5 196.7a3.0 3.0 0 1 0 6.0 0a3.0 3.0 0 1 0 -6.0 0M845.4 233.0a3.0 3.0 0 1 0 6.0 0a3.0 3.0 0 1 0 -6.0 0M859.2 88.4a3.0 3.0 0 1 0 6.0 0a3.0 3.0 0 1 0 -6.0 0M873.1 184.4a3.0 3.0 0 1 0 6.0 0a3.0 3.0 0 1 0 -6.0 0M887.0 231.7a3.0 3.0 0 1 0 6.0 0a3.0 3.0 0 1 0 -6.0 0M900.8 229.1a3.0 3.0 0 1 0 6.0 0a3.0 3.0 0 1 0 -6.0 0M914.7 227.7a3.0 3.0 0 1 0 6.0 0a3.0 3.0 0 1 0 -6.0 0M928.6 214.2a3.0 3.0 0 1 0 6.0 0a3.0 3.0 0 1 0 -6.0 0M942.4 192.8a3.0 3.0 0 1 0 6.0 0a3.0 3.0 0 1 0 -6.0 0M956.3 236.1a3.0 3.0 0 1 0 6.0 0a3.0 3.0 0 1 0 -6.0 0M970.2 188.3a3.0 3.0 0 1 0 6.0 0a3.0 3.0 0 1 0 -6.0 0M984.0 179.1a3.0 3.0 0 1 0 6.0 0a3.0 3.0 0 1 0 -6.0 0M997.9 194.1a3.0 3.0 0 1 0 6.0 0a3.0 3.0 0 1 0 -6.0 0M1011.8 181.1a3.0 3.0 0 1 0 6.0 0a3.0 3.0 0 1 0 -6.0 0M1025.6 209.3a3.0 3.0 0 1 0 6.0 0a3.0 3.0 0 1 0 -6.0 0M1039.5 233.0a3.0 3.0 0 1 0 6.0 0a3.0 3.0 0 1 0 -6.0 0M1053.4 201.9a3.0 3.0 0 1 0 6.0 0a3.0 3.0 0 1 0 -6.0 0M1067.2 194.7a3.0 3.0 0 1 0 6.0 0a3.0 3.0 0 1 0 -6.0 0M1081.1 200.0a3.0 3.0 0 1 0 6.0 0a3.0 3.0 0 1 0 -6.0 0M1095.0 222.5a3.0 3.0 0 1 0 6.0 0a3.0 3.0 0 1 0 -6.0 0M1108.8 111.1a3.0 3.0 0 1 0 6.0 0a3.0 3.0 0 1 0 -6.0 0M1122.7 225.2a3.0 3.0 0 1 0 6.0 0a3.0 3.0 0 1 0 -6.0 0M1136.6 184.4a3.0 3.0 0 1 0 6.0 0a3.0 3.0 0 1 0 -6.0 0M1150.4 230.3a3.0 3.0 0 1 0 6.0 0a3.0 3.0 0 1 0 -6.0 0M1164.3 232.3a3.0 3.0 0 1 0 6.0 0a3.0 3.0 0 1 0 -6.0 0M1178.2 235.6a3.0 3.0 0 1 0 6.0 0a3.0 3.0 0 1 0 -6.0 0M1192.0 67.0a3.0 3.0 0 1 0 6.0 0a3.0 3.0 0 1 0 -6.0 0M1205.9 233.6a3.0 3.0 0 1 0 6.0 0a3.0 3.0 0 1 0 -6.0 0M1219.8 203.1a3.0 3.0 0 1 0 6.0 0a3.0 3.0 0 1 0 -6.0 0M1233.6 167.5a3.0 3.0 0 1 0 6.0 0a3.0 3.0 0 1 0 -6.0 0M1247.5 203.1a3.0 3.0 0 1 0 6.0 0a3.0 3.0 0 1 0 -6.0 0M1261.3 203.8a3.0 3.0 0 1 0 6.0 0a3.0 3.0 0 1 0 -6.0 0M1275.2 134.5a3.0 3.0 0 1 0 6.0 0a3.0 3.0 0 1 0 -6.0 0M1289.1 183.1a3.0 3.0 0 1 0 6.0 0a3.0 3.0 0 1 0 -6.0 0M1302.9 192.8a3.0 3.0 0 1 0 6.0 0a3.0 3.0 0 1 0 -6.0 0M1316.8 203.8a3.0 3.0 0 1 0 6.0 0a3.0 3.0 0 1 0 -6.0 0M1330.7 216.1a3.0 3.0 0 1 0 6.0 0a3.0 3.0 0 1 0 -6.0 0M1344.5 190.8a3.0 3.0 0 1 0 6.0 0a3.0 3.0 0 1 0 -6.0 0M1358.4 229.7a3.0 3.0 0 1 0 6.0 0a3.0 3.0 0 1 0 -6.0 0M1372.3 208.9a3.0 3.0 0 1 0 6.0 0a3.0 3.0 0 1 0 -6.0 0M1386.1 225.2a3.0 3.0 0 1 0 6.0 0a3.0 3.0 0 1 0 -6.0 0M1400.0 210.3a3.0 3.0 0 1 0 6.0 0a3.0 3.0 0 1 0 -6.0 0M1413.9 212.2a3.0 3.0 0 1 0 6.0 0a3.0 3.0 0 1 0 -6.0 0M1427.7 53.8a3.0 3.0 0 1 0 6.0 0a3.0 3.0 0 1 0 -6.0 0M1441.6 224.4a3.0 3.0 0 1 0 6.0 0a3.0 3.0 0 1 0 -6.0 0M1455.5 193.4a3.0 3.0 0 1 0 6.0 0a3.0 3.0 0 1 0 -6.0 0M1469.3 201.9a3.0 3.0 0 1 0 6.0 0a3.0 3.0 0 1 0 -6.0 0M1483.2 210.9a3.0 3.0 0 1 0 6.0 0a3.0 3.0 0 1 0 -6.0 0M1497.1 201.9a3.0 3.0 0 1 0 6.0 0a3.0 3.0 0 1 0 -6.0 0M1510.9 223.9a3.0 3.0 0 1 0 6.0 0a3.0 3.0 0 1 0 -6.0 0M1524.8 170.8a3.0 3.0 0 1 0 6.0 0a3.0 3.0 0 1 0 -6.0 0M1538.7 209.7a3.0 3.0 0 1 0 6.0 0a3.0 3.0 0 1 0 -6.0 0M1552.5 215.5a3.0 3.0 0 1 0 6.0 0a3.0 3.0 0 1 0 -6.0 0M1566.4 188.9a3.0 3.0 0 1 0 6.0 0a3.0 3.0 0 1 0 -6.0 0M1580.3 225.2a3.0 3.0 0 1 0 6.0 0a3.0 3.0 0 1 0 -6.0 0M1594.1 205.8a3.0 3.0 0 1 0 6.0 0a3.0 3.0 0 1 0 -6.0 0M1608.0 222.5a3.0 3.0 0 1 0 6.0 0a3.0 3.0 0 1 0 -6.0 0M1621.9 237.5a3.0 3.0 0 1 0 6.0 0a3.0 3.0 0 1 0 -6.0 0M1635.7 237.5a3.0 3.0 0 1 0 6.0 0a3.0 3.0 0 1 0 -6.0 0M1649.6 187.9a3.0 3.0 0 1 0 6.0 0a3.0 3.0 0 1 0 -6.0 0M1663.5 186.0a3.0 3.0 0 1 0 6.0 0a3.0 3.0 0 1 0 -6.0 0M1677.3 205.4a3.0 3.0 0 1 0 6.0 0a3.0 3.0 0 1 0 -6.0 0M1691.2 238.1a3.0 3.0 0 1 0 6.0 0a3.0 3.0 0 1 0 -6.0 0M1705.1 212.2a3.0 3.0 0 1 0 6.0 0a3.0 3.0 0 1 0 -6.0 0M1718.9 168.9a3.0 3.0 0 1 0 6.0 0a3.0 3.0 0 1 0 -6.0 0M1732.8 211.3a3.0 3.0 0 1 0 6.0 0a3.0 3.0 0 1 0 -6.0 0M1746.7 170.8a3.0 3.0 0 1 0 6.0 0a3.0 3.0 0 1 0 -6.0 0M1760.5 239.4a3.0 3.0 0 1 0 6.0 0a3.0 3.0 0 1 0 -6.0 0M1774.4 236.9a3.0 3.0 0 1 0 6.0 0a3.0 3.0 0 1 0 -6.0 0M1788.3 139.7a3.0 3.0 0 1 0 6.0 0a3.0 3.0 0 1 0 -6.0 0" fill="#eab839"/><path d="M141.2 91.1 L155.1 168.9 L168.9 225.8 L182.8 225.8 L196.7 189.5 L210.5 208.9 L224.4 227.7 L238.3 175.3 L252.1 221.3 L266.0 180.6 L279.9 183.7 L293.7 206.4 L307.6 207.8 L321.5 231.7 L335.3 230.7 L349.2 201.1 L363.1 202.5 L376.9 199.2 L390.8 221.9 L404.7 205.8 L418.5 238.5 L432.4 227.2 L446.3 214.7 L460.1 176.6 L474.0 193.7 L487.9 213.2 L501.7 170.0 L515.6 226.4 L529.5 175.3 L543.3 176.2 L557.2 201.9 L571.0 173.3 L584.9 186.0 L598.8 173.3 L612.6 190.3 L626.5 238.5 L640.4 176.6 L654.2 220.0 L668.1 219.0 L682.0 207.4 L695.8 207.4 L709.7 233.6 L723.6 236.5 L737.4 203.4 L751.3 240.0 L765.2 198.0 L779.0 227.2 L792.9 238.1 L806.8 223.9 L820.6 238.5 L834.5 198.0 L848.4 217.1 L862.2 192.8 L876.1 207.8 L890.0 142.8 L903.8 208.9 L917.7 184.0 L931.6 203.8 L945.4 232.3 L959.3 232.6 L973.2 196.7 L987.0 205.0 L1000.9 230.3 L1014.8 198.0 L1028.6 184.4 L1042.5 229.7 L1056.4 205.0 L1070.2 173.3 L1084.1 201.9 L1098.0 189.5 L1111.8 221.3 L1125.7 198.6 L1139.6 238.1 L1153.4 234.6 L1167.3 239.4 L1181.2 227.7 L1195.0 216.7 L1208.9 210.3 L1222.8 188.9 L1236.6 168.9 L1250.5 203.1 L1264.3 210.9 L1278.2 177.8 L1292.1 232.6 L1305.9 215.1 L1319.8 227.2 L1333.7 189.9 L1347.5 240.0 L1361.4 183.7 L1375.3 223.9 L1389.1 193.4 L1403.0 231.1 L1416.9 210.3 L1430.7 205.8 L1444.6 203.8 L1458.5 226.4 L1472.3 238.1 L1486.2 220.0 L1500.1 207.8 L1513.9 208.9 L1527.8 190.8 L1541.7 174.7 L1555.5 203.1 L1569.4 215.5 L1583.3 174.7 L1597.1 187.9 L1611.0 190.8 L1624.9 178.6 L1638.7 224.4 L1652.6 172.7 L1666.5 195.3 L1680.3 128.0 L1694.2 177.8 L1708.1 181.1 L1721.9 231.1 L1735.8 236.1 L1749.7 179.7 L1763.5 193.7 L1777.4 235.0 L1791.3 199.2" fill="none" stroke="#6ed0e0" stroke-width="2.7" stroke-linejoin="round"/><path d="M138.2 91.1a3.0 3.0 0 1 0 6.0 0a3.0 3.0 0 1 0 -6.0 0M152.1 168.9a3.0 3.0 0 1 0 6.0 0a3.0 3.0 0 1 0 -6.0 0M165.9 225.8a3.0 3.0 0 1 0 6.0 0a3.0 3.0 0 1 0 -6.0 0M179.8 225.8a3.0 3.0 0 1 0 6.0 0a3.0 3.0 0 1 0 -6.0 0M193.7 189.5a3.0 3.0 0 1 0 6.0 0a3.0 3.0 0 1 0 -6.0 0M207.5 208.9a3.0 3.0 0 1 0 6.0 0a3.0 3.0 0 1 0 -6.0 0M221.4 227.7a3.0 3.0 0 1 0 6.0 0a3.0 3.0 0 1 0 -6.0 0M235.3 175.3a3.0 3.0 0 1 0 6.0 0a3.0 3.0 0 1 0 -6.0 0M249.1 221.3a3.0 3.0 0 1 0 6.0 0a3.0 3.0 0 1 0 -6.0 0M263.0 180.6a3.0 3.0 0 1 0 6.0 0a3.0 3.0 0 1 0 -6.0 0M276.9 183.7a3.0 3.0 0 1 0 6.0 0a3.0 3.0 0 1 0 -6.0 0M290.7 206.4a3.0 3.0 0 1 0 6.0 0a3.0 3.0 0 1 0 -6.0 0M304.6 207.8a3.0 3.0 0 1 0 6.0 0a3.0 3.0 0 1 0 -6.0 0M318.5 231.7a3.0 3.0 0 1 0 6.0 0a3.0 3.0 0 1 0 -6.0 0M332.3 230.7a3.0 3.0 0 1 0 6.0 0a3.0 3.0 0 1 0 -6.0 0M346.2 201.1a3.0 3.0 0 1 0 6.0 0a3.0 3.0 0 1 0 -6.0 0M360.1 202.5a3.0 3.0 0 1 0 6.0 0a3.0 3.0 0 1 0 -6.0 0M373.9 199.2a3.0 3.0 0 1 0 6.0 0a3.0 3.0 0 1 0 -6.0 0M387.8 221.9a3.0 3.0 0 1 0 6.0 0a3.0 3.0 0 1 0 -6.0 0M401.7 205.8a3.0 3.0 0 1 0 6.0 0a3.0 3.0 0 1 0 -6.0 0M415.5 238.5a3.0 3.0 0 1 0 6.0 0a3.0 3.0 0 1 0 -6.0 0M429.4 227.2a3.0 3.0 0 1 0 6.0 0a3.0 3.0 0 1 0 -6.0 0M443.3 214.7a3.0 3.0 0 1 0 6.0 0a3.0 3.0 0 1 0 -6.0 0M457.1 176.6a3.0 3.0 0 1 0 6.0 0a3.0 3.0 0 1 0 -6.0 0M471.0 193.7a3.0 3.0 0 1 0 6.0 0a3.0 3.0 0 1 0 -6.0 0M484.9 213.2a3.0 3.0 0 1 0 6.0 0a3.0 3.0 0 1 0 -6.0 0M498.7 170.0a3.0 3.0 0 1 0 6.0 0a3.0 3.0 0 1 0 -6.0 0M512.6 226.4a3.0 3.0 0 1 0 6.0 0a3.0 3.0 0 1 0 -6.0 0M526.5 175.3a3.0 3.0 0 1 0 6.0 0a3.0 3.0 0 1 0 -6.0 0M540.3 176.2a3.0 3.0 0 1 0 6.0 0a3.0 3.0 0 1 0 -6.0 0M554.2 201.9a3.0 3.0 0 1 0 6.0 0a3.0 3.0 0 1 0 -6.0 0M568.0 173.3a3.0 3.0 0 1 0 6.0 0a3.0 3.0 0 1 0 -6.0 0M581.9 186.0a3.0 3.0 0 1 0 6.0 0a3.0 3.0 0 1 0 -6.0 0M595.8 173.3a3.0 3.0 0 1 0 6.0 0a3.0 3.0 0 1 0 -6.0 0M609.6 190.3a3.0 3.0 0 1 0 6.0 0a3.0 3.0 0 1 0 -6.0 0M623.5 238.5a3.0 3.0 0 1 0 6.0 0a3.0 3.0 0 1 0 -6.0 0M637.4 176.6a3.0 3.0 0 1 0 6.0 0a3.0 3.0 0 1 0 -6.0 0M651.2 220.0a3.0 3.0 0 1 0 6.0 0a3.0 3.0 0 1 0 -6.0 0M665.1 219.0a3.0 3.0 0 1 0 6.0 0a3.0 3.0 0 1 0 -6.0 0M679.0 207.4a3.0 3.0 0 1 0 6.0 0a3.0 3.0 0 1 0 -6.0 0M692.8 207.4a3.0 3.0 0 1 0 6.0 0a3.0 3.0 0 1 0 -6.0 0M706.7 233.6a3.0 3.0 0 1 0 6.0 0a3.0 3.0 0 1 0 -6.0 0M720.6 236.5a3.0 3.0 0 1 0 6.0 0a3.0 3.0 0 1 0 -6.0 0M734.4 203.4a3.0 3.0 0 1 0 6.0 0a3.0 3.0 0 1 0 -6.0 0M748.3 240.0a3.0 3.0 0 1 0 6.0 0a3.0 3.0 0 1 0 -6.0 0M762.2 198.0a3.0 3.0 0 1 0 6.0 0a3.0 3.0 0 1 0 -6.0 0M776.0 227.2a3.0 3.0 0 1 0 6.0 0a3.0 3.0 0 1 0 -6.0 0M789.9 238.1a3.0 3.0 0 1 0 6.0 0a3.0 3.0 0 1 0 -6.0 0M803.8 223.9a3.0 3.0 0 1 0 6.0 0a3.0 3.0 0 1 0 -6.0 0M817.6 238.5a3.0 3.0 0 1 0 6.0 0a3.0 3.0 0 1 0 -6.0 0M831.5 198.0a3.0 3.0 0 1 0 6.0 0a3.0 3.0 0 1 0 -6.0 0M845.4 217.1a3.0 3.0 0 1 0 6.0 0a3.0 3.0 0 1 0 -6.0 0M859.2 192.8a3.0 3.0 0 1 0 6.0 0a3.0 3.0 0 1 0 -6.0 0M873.1 207.8a3.0 3.0 0 1 0 6.0 0a3.0 3.0 0 1 0 -6.0 0M887.0 142.8a3.0 3.0 0 1 0 6.0 0a3.0 3.0 0 1 0 -6.0 0M900.8 208.9a3.0 3.0 0 1 0 6.0 0a3.0 3.0 0 1 0 -6.0 0M914.7 184.0a3.0 3.0 0 1 0 6.0 0a3.0 3.0 0 1 0 -6.0 0M928.6 203.8a3.0 3.0 0 1 0 6.0 0a3.0 3.0 0 1 0 -6.0 0M942.4 232.3a3.0 3.0 0 1 0 6.0 0a3.0 3.0 0 1 0 -6.0 0M956.3 232.6a3.0 3.0 0 1 0 6.0 0a3.0 3.0 0 1 0 -6.0 0M970.2 196.7a3.0 3.0 0 1 0 6.0 0a3.0 3.0 0 1 0 -6.0 0M984.0 205.0a3.0 3.0 0 1 0 6.0 0a3.0 3.0 0 1 0 -6.0 0M997.9 230.3a3.0 3.0 0 1 0 6.0 0a3.0 3.0 0 1 0 -6.0 0M1011.8 198.0a3.0 3.0 0 1 0 6.0 0a3.0 3.0 0 1 0 -6.0 0M1025.6 184.4a3.0 3.0 0 1 0 6.0 0a3.0 3.0 0 1 0 -6.0 0M1039.5 229.7a3.0 3.0 0 1 0 6.0 0a3.0 3.0 0 1 0 -6.0 0M1053.4 205.0a3.0 3.0 0 1 0 6.0 0a3.0 3.0 0 1 0 -6.0 0M1067.2 173.3a3.0 3.0 0 1 0 6.0 0a3.0 3.0 0 1 0 -6.0 0M1081.1 201.9a3.0 3.0 0 1 0 6.0 0a3.0 3.0 0 1 0 -6.0 0M1095.0 189.5a3.0 3.0 0 1 0 6.0 0a3.0 3.0 0 1 0 -6.0 0M1108.8 221.3a3.0 3.0 0 1 0 6.0 0a3.0 3.0 0 1 0 -6.0 0M1122.7 198.6a3.0 3.0 0 1 0 6.0 0a3.0 3.0 0 1 0 -6.0 0M1136.6 238.1a3.0 3.0 0 1 0 6.0 0a3.0 3.0 0 1 0 -6.0 0M1150.4 234.6a3.0 3.0 0 1 0 6.0 0a3.0 3.0 0 1 0 -6.0 0M1164.3 239.4a3.0 3.0 0 1 0 6.0 0a3.0 3.0 0 1 0 -6.0 0M1178.2 227.7a3.0 3.0 0 1 0 6.0 0a3.0 3.0 0 1 0 -6.0 0M1192.0 216.7a3.0 3.0 0 1 0 6.0 0a3.0 3.0 0 1 0 -6.0 0M1205.9 210.3a3.0 3.0 0 1 0 6.0 0a3.0 3.0 0 1 0 -6.0 0M1219.8 188.9a3.0 3.0 0 1 0 6.0 0a3.0 3.0 0 1 0 -6.0 0M1233.6 168.9a3.0 3.0 0 1 0 6.0 0a3.0 3.0 0 1 0 -6.0 0M1247.5 203.1a3.0 3.0 0 1 0 6.0 0a3.0 3.0 0 1 0 -6.0 0M1261.3 210.9a3.0 3.0 0 1 0 6.0 0a3.0 3.0 0 1 0 -6.0 0M1275.2 177.8a3.0 3.0 0 1 0 6.0 0a3.0 3.0 0 1 0 -6.0 0M1289.1 232.6a3.0 3.0 0 1 0 6.0 0a3.0 3.0 0 1 0 -6.0 0M1302.9 215.1a3.0 3.0 0 1 0 6.0 0a3.0 3.0 0 1 0 -6.0 0M1316.8 227.2a3.0 3.0 0 1 0 6.0 0a3.0 3.0 0 1 0 -6.0 0M1330.7 189.9a3.0 3.0 0 1 0 6.0 0a3.0 3.0 0 1 0 -6.0 0M1344.5 240.0a3.0 3.0 0 1 0 6.0 0a3.0 3.0 0 1 0 -6.0 0M1358.4 183.7a3.0 3.0 0 1 0 6.0 0a3.0 3.0 0 1 0 -6.0 0M1372.3 223.9a3.0 3.0 0 1 0 6.0 0a3.0 3.0 0 1 0 -6.0 0M1386.1 193.4a3.0 3.0 0 1 0 6.0 0a3.0 3.0 0 1 0 -6.0 0M1400.0 231.1a3.0 3.0 0 1 0 6.0 0a3.0 3.0 0 1 0 -6.0 0M1413.9 210.3a3.0 3.0 0 1 0 6.0 0a3.0 3.0 0 1 0 -6.0 0M1427.7 205.8a3.0 3.0 0 1 0 6.0 0a3.0 3.0 0 1 0 -6.0 0M1441.6 203.8a3.0 3.0 0 1 0 6.0 0a3.0 3.0 0 1 0 -6.0 0M1455.5 226.4a3.0 3.0 0 1 0 6.0 0a3.0 3.0 0 1 0 -6.0 0M1469.3 238.1a3.0 3.0 0 1 0 6.0 0a3.0 3.0 0 1 0 -6.0 0M1483.2 220.0a3.0 3.0 0 1 0 6.0 0a3.0 3.0 0 1 0 -6.0 0M1497.1 207.8a3.0 3.0 0 1 0 6.0 0a3.0 3.0 0 1 0 -6.0 0M1510.9 208.9a3.0 3.0 0 1 0 6.0 0a3.0 3.0 0 1 0 -6.0 0M1524.8 190.8a3.0 3.0 0 1 0 6.0 0a3.0 3.0 0 1 0 -6.0 0M1538.7 174.7a3.0 3.0 0 1 0 6.0 0a3.0 3.0 0 1 0 -6.0 0M1552.5 203.1a3.0 3.0 0 1 0 6.0 0a3.0 3.0 0 1 0 -6.0 0M1566.4 215.5a3.0 3.0 0 1 0 6.0 0a3.0 3.0 0 1 0 -6.0 0M1580.3 174.7a3.0 3.0 0 1 0 6.0 0a3.0 3.0 0 1 0 -6.0 0M1594.1 187.9a3.0 3.0 0 1 0 6.0 0a3.0 3.0 0 1 0 -6.0 0M1608.0 190.8a3.0 3.0 0 1 0 6.0 0a3.0 3.0 0 1 0 -6.0 0M1621.9 178.6a3.0 3.0 0 1 0 6.0 0a3.0 3.0 0 1 0 -6.0 0M1635.7 224.4a3.0 3.0 0 1 0 6.0 0a3.0 3.0 0 1 0 -6.0 0M1649.6 172.7a3.0 3.0 0 1 0 6.0 0a3.0 3.0 0 1 0 -6.0 0M1663.5 195.3a3.0 3.0 0 1 0 6.0 0a3.0 3.0 0 1 0 -6.0 0M1677.3 128.0a3.0 3.0 0 1 0 6.0 0a3.0 3.0 0 1 0 -6.0 0M1691.2 177.8a3.0 3.0 0 1 0 6.0 0a3.0 3.0 0 1 0 -6.0 0M1705.1 181.1a3.0 3.0 0 1 0 6.0 0a3.0 3.0 0 1 0 -6.0 0M1718.9 231.1a3.0 3.0 0 1 0 6.0 0a3.0 3.0 0 1 0 -6.0 0M1732.8 236.1a3.0 3.0 0 1 0 6.0 0a3.0 3.0 0 1 0 -6.0 0M1746.7 179.7a3.0 3.0 0 1 0 6.0 0a3.0 3.0 0 1 0 -6.0 0M1760.5 193.7a3.0 3.0 0 1 0 6.0 0a3.0 3.0 0 1 0 -6.0 0M1774.4 235.0a3.0 3.0 0 1 0 6.0 0a3.0 3.0 0 1 0 -6.0 0M1788.3 199.2a3.0 3.0 0 1 0 6.0 0a3.0 3.0 0 1 0 -6.0 0" fill="#6ed0e0"/><text x="133.5" y="243.9" text-anchor="end" class="tk">0 Nm</text><text x="133.5" y="195.4" text-anchor="end" class="tk">1 Nm</text><text x="133.5" y="146.9" text-anchor="end" class="tk">2 Nm</text><text x="133.5" y="98.4" text-anchor="end" class="tk">3 Nm</text><text x="133.5" y="49.9" text-anchor="end" class="tk">4 Nm</text><text x="181.6" y="258.7" text-anchor="middle" class="tk">06:22</text><text x="237.1" y="258.7" text-anchor="middle" class="tk">06:24</text><text x="292.5" y="258.7" text-anchor="middle" class="tk">06:26</text><text x="348.0" y="258.7" text-anchor="middle" class="tk">06:28</text><text x="403.5" y="258.7" text-anchor="middle" class="tk">06:30</text><text x="458.9" y="258.7" text-anchor="middle" class="tk">06:32</text><text x="514.4" y="258.7" text-anchor="middle" class="tk">06:34</text><text x="569.8" y="258.7" text-anchor="middle" class="tk">06:36</text><text x="625.3" y="258.7" text-anchor="middle" class="tk">06:38</text><text x="680.8" y="258.7" text-anchor="middle" class="tk">06:40</text><text x="736.2" y="258.7" text-anchor="middle" class="tk">06:42</text><text x="791.7" y="258.7" text-anchor="middle" class="tk">06:44</text><text x="847.2" y="258.7" text-anchor="middle" class="tk">06:46</text><text x="902.6" y="258.7" text-anchor="middle" class="tk">06:48</text><text x="958.1" y="258.7" text-anchor="middle" class="tk">06:50</text><text x="1013.6" y="258.7" text-anchor="middle" class="tk">06:52</text><text x="1069.0" y="258.7" text-anchor="middle" class="tk">06:54</text><text x="1124.5" y="258.7" text-anchor="middle" class="tk">06:56</text><text x="1180.0" y="258.7" text-anchor="middle" class="tk">06:58</text><text x="1235.4" y="258.7" text-anchor="middle" class="tk">07:00</text><text x="1290.9" y="258.7" text-anchor="middle" class="tk">07:02</text><text x="1346.3" y="258.7" text-anchor="middle" class="tk">07:04</text><text x="1401.8" y="258.7" text-anchor="middle" class="tk">07:06</text><text x="1457.3" y="258.7" text-anchor="middle" class="tk">07:08</text><text x="1512.7" y="258.7" text-anchor="middle" class="tk">07:10</text><text x="1568.2" y="258.7" text-anchor="middle" class="tk">07:12</text><text x="1623.7" y="258.7" text-anchor="middle" class="tk">07:14</text><text x="1679.1" y="258.7" text-anchor="middle" class="tk">07:16</text><text x="1734.6" y="258.7" text-anchor="middle" class="tk">07:18</text><text x="1790.1" y="258.7" text-anchor="middle" class="tk">07:20</text></svg><span class="sw" style="left:18px;background:#7eb26d"></span><span class="lt" style="left:40.7px">Blade 1</span><span class="sw" style="left:89.9px;background:#eab839"></span><span class="lt" style="left:112.19999999999999px">Blade 2</span><span class="sw" style="left:162px;background:#6ed0e0"></span><span class="lt" style="left:183.60000000000002px">Blade 3</span></div><div class="panel" style="top:720px"><div class="corner"></div><div class="ci">i</div><div class="ptitle">Edgewise Stress</div><div class="ylab">Stress, edgewise</div><svg class="chart" width="1752" height="296" viewBox="76 0 1752 296"><defs><linearGradient id="fg20" gradientUnits="userSpaceOnUse" x1="0" y1="46.4" x2="0" y2="240.4"><stop offset="0" stop-color="#7eb26d" stop-opacity="0.11"/><stop offset="1" stop-color="#7eb26d" stop-opacity="0.0"/></linearGradient><linearGradient id="fg21" gradientUnits="userSpaceOnUse" x1="0" y1="46.4" x2="0" y2="240.4"><stop offset="0" stop-color="#eab839" stop-opacity="0.11"/><stop offset="1" stop-color="#eab839" stop-opacity="0.0"/></linearGradient><linearGradient id="fg22" gradientUnits="userSpaceOnUse" x1="0" y1="46.4" x2="0" y2="240.4"><stop offset="0" stop-color="#6ed0e0" stop-opacity="0.11"/><stop offset="1" stop-color="#6ed0e0" stop-opacity="0.0"/></linearGradient></defs><path d="M159 240.5H1803.0 M159 191.5H1803.0 M159 143.5H1803.0 M159 94.5H1803.0 M159 46.5H1803.0" stroke="#c8c8c8" stroke-opacity="0.4" stroke-width="1" fill="none"/><path d="M201.5 46V241 M256.5 46V241 M311.5 46V241 M365.5 46V241 M420.5 46V241 M475.5 46V241 M530.5 46V241 M585.5 46V241 M639.5 46V241 M694.5 46V241 M749.5 46V241 M804.5 46V241 M859.5 46V241 M913.5 46V241 M968.5 46V241 M1023.5 46V241 M1078.5 46V241 M1133.5 46V241 M1187.5 46V241 M1242.5 46V241 M1297.5 46V241 M1352.5 46V241 M1407.5 46V241 M1461.5 46V241 M1516.5 46V241 M1571.5 46V241 M1626.5 46V241 M1681.5 46V241 M1735.5 46V241 M1790.5 46V241" stroke="#c8c8c8" stroke-opacity="0.4" stroke-width="1" fill="none"/><path d="M161.2 205.0 L174.9 181.7 L188.6 181.1 L202.3 226.4 L216.0 229.7 L229.7 218.6 L243.4 209.7 L257.1 221.9 L270.8 223.3 L284.5 170.4 L298.2 211.3 L311.9 192.8 L325.6 234.2 L339.3 201.1 L353.0 196.7 L366.7 196.7 L380.4 235.6 L394.1 221.9 L407.8 200.0 L421.5 185.6 L435.2 222.5 L448.9 196.1 L462.6 176.6 L476.3 223.9 L490.0 179.1 L503.7 208.9 L517.4 223.9 L531.1 181.7 L544.8 201.1 L558.5 171.4 L572.2 192.2 L585.9 172.4 L599.6 236.9 L613.3 215.5 L627.0 235.6 L640.7 223.9 L654.4 227.2 L668.1 216.7 L681.8 193.7 L695.5 175.3 L709.2 222.5 L722.9 211.6 L736.6 176.6 L750.3 229.7 L764.0 223.3 L777.7 208.3 L791.4 195.3 L805.1 207.4 L818.8 198.0 L832.5 204.5 L846.2 190.8 L859.9 215.1 L873.6 199.6 L887.3 82.0 L901.0 196.7 L914.7 190.8 L928.4 183.7 L942.1 223.3 L955.8 212.8 L969.5 232.3 L983.2 224.8 L996.9 172.0 L1010.6 235.0 L1024.3 225.8 L1038.0 197.2 L1051.7 238.5 L1065.4 132.5 L1079.1 194.7 L1092.8 193.4 L1106.5 195.3 L1120.2 212.2 L1133.9 212.2 L1147.6 178.2 L1161.3 175.8 L1175.0 173.9 L1188.7 198.6 L1202.4 194.7 L1216.1 221.3 L1229.8 182.5 L1243.5 207.8 L1257.2 216.1 L1270.9 189.5 L1284.6 203.8 L1298.3 180.6 L1312.0 234.6 L1325.7 218.6 L1339.4 232.6 L1353.1 188.9 L1366.8 220.6 L1380.5 226.8 L1394.2 205.0 L1407.9 180.2 L1421.6 204.5 L1435.3 181.7 L1449.0 184.4 L1462.7 187.9 L1476.4 220.6 L1490.1 193.7 L1503.8 172.7 L1517.5 223.9 L1531.2 227.7 L1544.9 183.1 L1558.6 170.4 L1572.3 190.3 L1586.0 182.1 L1599.7 230.7 L1613.4 238.1 L1627.1 180.6 L1640.8 209.7 L1654.5 212.2 L1668.2 183.1 L1681.9 212.8 L1695.6 234.2 L1709.3 209.7 L1723.0 220.6 L1736.7 201.9 L1750.4 209.3 L1764.1 205.8 L1777.8 194.7 L1791.5 196.7 L1791.5 240.4 L161.2 240.4 Z" fill="url(#fg20)" stroke="none"/><path d="M161.2 235.0 L174.9 196.1 L188.6 185.0 L202.3 172.4 L216.0 197.2 L229.7 186.0 L243.4 216.1 L257.1 194.1 L270.8 197.2 L284.5 201.1 L298.2 212.8 L311.9 216.7 L325.6 173.9 L339.3 219.0 L353.0 234.6 L366.7 178.6 L380.4 208.3 L394.1 170.0 L407.8 210.9 L421.5 170.0 L435.2 193.7 L448.9 198.6 L462.6 111.1 L476.3 232.3 L490.0 225.2 L503.7 191.4 L517.4 180.2 L531.1 214.7 L544.8 210.3 L558.5 179.7 L572.2 209.7 L585.9 219.0 L599.6 183.1 L613.3 226.4 L627.0 180.6 L640.7 228.4 L654.4 191.8 L668.1 202.5 L681.8 192.8 L695.5 225.2 L709.2 231.7 L722.9 199.6 L736.6 207.0 L750.3 190.3 L764.0 216.7 L777.7 212.2 L791.4 190.3 L805.1 230.7 L818.8 187.5 L832.5 175.8 L846.2 224.4 L859.9 211.6 L873.6 225.8 L887.3 221.3 L901.0 210.9 L914.7 196.7 L928.4 198.0 L942.1 213.6 L955.8 168.1 L969.5 172.0 L983.2 196.7 L996.9 219.4 L1010.6 201.1 L1024.3 226.4 L1038.0 218.6 L1051.7 175.8 L1065.4 195.7 L1079.1 187.5 L1092.8 229.7 L1106.5 167.5 L1120.2 198.6 L1133.9 225.8 L1147.6 211.6 L1161.3 100.0 L1175.0 198.0 L1188.7 203.8 L1202.4 208.3 L1216.1 180.6 L1229.8 232.6 L1243.5 205.4 L1257.2 198.0 L1270.9 193.7 L1284.6 125.3 L1298.3 167.5 L1312.0 190.8 L1325.7 229.1 L1339.4 173.3 L1353.1 181.7 L1366.8 182.5 L1380.5 222.5 L1394.2 230.7 L1407.9 194.7 L1421.6 172.7 L1435.3 171.4 L1449.0 197.2 L1462.7 201.5 L1476.4 236.5 L1490.1 169.4 L1503.8 186.0 L1517.5 196.7 L1531.2 176.6 L1544.9 206.4 L1558.6 203.1 L1572.3 235.6 L1586.0 117.9 L1599.7 228.4 L1613.4 177.2 L1627.1 208.9 L1640.8 205.8 L1654.5 183.1 L1668.2 176.2 L1681.9 199.2 L1695.6 213.2 L1709.3 213.2 L1723.0 172.7 L1736.7 201.9 L1750.4 236.5 L1764.1 231.1 L1777.8 207.8 L1791.5 221.3 L1791.5 240.4 L161.2 240.4 Z" fill="url(#fg21)" stroke="none"/><path d="M161.2 219.4 L174.9 208.9 L188.6 186.4 L202.3 232.6 L216.0 200.0 L229.7 223.3 L243.4 189.9 L257.1 223.3 L270.8 209.7 L284.5 217.1 L298.2 100.4 L311.9 205.0 L325.6 204.5 L339.3 230.3 L353.0 216.7 L366.7 184.4 L380.4 180.2 L394.1 187.9 L407.8 175.8 L421.5 232.3 L435.2 168.1 L448.9 184.4 L462.6 193.7 L476.3 119.5 L490.0 239.4 L503.7 216.1 L517.4 224.4 L531.1 172.4 L544.8 175.3 L558.5 185.6 L572.2 229.1 L585.9 202.5 L599.6 223.3 L613.3 205.0 L627.0 226.4 L640.7 170.4 L654.4 222.5 L668.1 238.8 L681.8 194.7 L695.5 200.0 L709.2 220.0 L722.9 125.3 L736.6 193.4 L750.3 219.0 L764.0 233.6 L777.7 174.7 L791.4 236.1 L805.1 199.2 L818.8 234.2 L832.5 184.4 L846.2 213.6 L859.9 183.7 L873.6 236.9 L887.3 138.4 L901.0 230.7 L914.7 216.7 L928.4 187.0 L942.1 131.6 L955.8 187.5 L969.5 207.8 L983.2 194.1 L996.9 238.1 L1010.6 182.1 L1024.3 178.6 L1038.0 211.6 L1051.7 187.5 L1065.4 205.4 L1079.1 240.4 L1092.8 211.3 L1106.5 221.9 L1120.2 230.7 L1133.9 211.6 L1147.6 189.5 L1161.3 190.8 L1175.0 175.3 L1188.7 218.0 L1202.4 184.0 L1216.1 224.4 L1229.8 221.3 L1243.5 182.1 L1257.2 211.6 L1270.9 225.8 L1284.6 173.9 L1298.3 207.8 L1312.0 240.0 L1325.7 168.9 L1339.4 62.6 L1353.1 211.3 L1366.8 210.3 L1380.5 222.9 L1394.2 234.2 L1407.9 214.7 L1421.6 207.4 L1435.3 187.0 L1449.0 207.4 L1462.7 215.5 L1476.4 232.3 L1490.1 218.6 L1503.8 196.7 L1517.5 220.6 L1531.2 190.8 L1544.9 203.1 L1558.6 237.5 L1572.3 192.8 L1586.0 172.7 L1599.7 196.1 L1613.4 227.2 L1627.1 214.7 L1640.8 191.4 L1654.5 210.3 L1668.2 210.3 L1681.9 202.5 L1695.6 230.3 L1709.3 207.8 L1723.0 223.3 L1736.7 199.2 L1750.4 200.5 L1764.1 188.3 L1777.8 171.4 L1791.5 236.5 L1791.5 240.4 L161.2 240.4 Z" fill="url(#fg22)" stroke="none"/><path d="M161.2 205.0 L174.9 181.7 L188.6 181.1 L202.3 226.4 L216.0 229.7 L229.7 218.6 L243.4 209.7 L257.1 221.9 L270.8 223.3 L284.5 170.4 L298.2 211.3 L311.9 192.8 L325.6 234.2 L339.3 201.1 L353.0 196.7 L366.7 196.7 L380.4 235.6 L394.1 221.9 L407.8 200.0 L421.5 185.6 L435.2 222.5 L448.9 196.1 L462.6 176.6 L476.3 223.9 L490.0 179.1 L503.7 208.9 L517.4 223.9 L531.1 181.7 L544.8 201.1 L558.5 171.4 L572.2 192.2 L585.9 172.4 L599.6 236.9 L613.3 215.5 L627.0 235.6 L640.7 223.9 L654.4 227.2 L668.1 216.7 L681.8 193.7 L695.5 175.3 L709.2 222.5 L722.9 211.6 L736.6 176.6 L750.3 229.7 L764.0 223.3 L777.7 208.3 L791.4 195.3 L805.1 207.4 L818.8 198.0 L832.5 204.5 L846.2 190.8 L859.9 215.1 L873.6 199.6 L887.3 82.0 L901.0 196.7 L914.7 190.8 L928.4 183.7 L942.1 223.3 L955.8 212.8 L969.5 232.3 L983.2 224.8 L996.9 172.0 L1010.6 235.0 L1024.3 225.8 L1038.0 197.2 L1051.7 238.5 L1065.4 132.5 L1079.1 194.7 L1092.8 193.4 L1106.5 195.3 L1120.2 212.2 L1133.9 212.2 L1147.6 178.2 L1161.3 175.8 L1175.0 173.9 L1188.7 198.6 L1202.4 194.7 L1216.1 221.3 L1229.8 182.5 L1243.5 207.8 L1257.2 216.1 L1270.9 189.5 L1284.6 203.8 L1298.3 180.6 L1312.0 234.6 L1325.7 218.6 L1339.4 232.6 L1353.1 188.9 L1366.8 220.6 L1380.5 226.8 L1394.2 205.0 L1407.9 180.2 L1421.6 204.5 L1435.3 181.7 L1449.0 184.4 L1462.7 187.9 L1476.4 220.6 L1490.1 193.7 L1503.8 172.7 L1517.5 223.9 L1531.2 227.7 L1544.9 183.1 L1558.6 170.4 L1572.3 190.3 L1586.0 182.1 L1599.7 230.7 L1613.4 238.1 L1627.1 180.6 L1640.8 209.7 L1654.5 212.2 L1668.2 183.1 L1681.9 212.8 L1695.6 234.2 L1709.3 209.7 L1723.0 220.6 L1736.7 201.9 L1750.4 209.3 L1764.1 205.8 L1777.8 194.7 L1791.5 196.7" fill="none" stroke="#7eb26d" stroke-width="2.7" stroke-linejoin="round"/><path d="M158.2 205.0a3.0 3.0 0 1 0 6.0 0a3.0 3.0 0 1 0 -6.0 0M171.9 181.7a3.0 3.0 0 1 0 6.0 0a3.0 3.0 0 1 0 -6.0 0M185.6 181.1a3.0 3.0 0 1 0 6.0 0a3.0 3.0 0 1 0 -6.0 0M199.3 226.4a3.0 3.0 0 1 0 6.0 0a3.0 3.0 0 1 0 -6.0 0M213.0 229.7a3.0 3.0 0 1 0 6.0 0a3.0 3.0 0 1 0 -6.0 0M226.7 218.6a3.0 3.0 0 1 0 6.0 0a3.0 3.0 0 1 0 -6.0 0M240.4 209.7a3.0 3.0 0 1 0 6.0 0a3.0 3.0 0 1 0 -6.0 0M254.1 221.9a3.0 3.0 0 1 0 6.0 0a3.0 3.0 0 1 0 -6.0 0M267.8 223.3a3.0 3.0 0 1 0 6.0 0a3.0 3.0 0 1 0 -6.0 0M281.5 170.4a3.0 3.0 0 1 0 6.0 0a3.0 3.0 0 1 0 -6.0 0M295.2 211.3a3.0 3.0 0 1 0 6.0 0a3.0 3.0 0 1 0 -6.0 0M308.9 192.8a3.0 3.0 0 1 0 6.0 0a3.0 3.0 0 1 0 -6.0 0M322.6 234.2a3.0 3.0 0 1 0 6.0 0a3.0 3.0 0 1 0 -6.0 0M336.3 201.1a3.0 3.0 0 1 0 6.0 0a3.0 3.0 0 1 0 -6.0 0M350.0 196.7a3.0 3.0 0 1 0 6.0 0a3.0 3.0 0 1 0 -6.0 0M363.7 196.7a3.0 3.0 0 1 0 6.0 0a3.0 3.0 0 1 0 -6.0 0M377.4 235.6a3.0 3.0 0 1 0 6.0 0a3.0 3.0 0 1 0 -6.0 0M391.1 221.9a3.0 3.0 0 1 0 6.0 0a3.0 3.0 0 1 0 -6.0 0M404.8 200.0a3.0 3.0 0 1 0 6.0 0a3.0 3.0 0 1 0 -6.0 0M418.5 185.6a3.0 3.0 0 1 0 6.0 0a3.0 3.0 0 1 0 -6.0 0M432.2 222.5a3.0 3.0 0 1 0 6.0 0a3.0 3.0 0 1 0 -6.0 0M445.9 196.1a3.0 3.0 0 1 0 6.0 0a3.0 3.0 0 1 0 -6.0 0M459.6 176.6a3.0 3.0 0 1 0 6.0 0a3.0 3.0 0 1 0 -6.0 0M473.3 223.9a3.0 3.0 0 1 0 6.0 0a3.0 3.0 0 1 0 -6.0 0M487.0 179.1a3.0 3.0 0 1 0 6.0 0a3.0 3.0 0 1 0 -6.0 0M500.7 208.9a3.0 3.0 0 1 0 6.0 0a3.0 3.0 0 1 0 -6.0 0M514.4 223.9a3.0 3.0 0 1 0 6.0 0a3.0 3.0 0 1 0 -6.0 0M528.1 181.7a3.0 3.0 0 1 0 6.0 0a3.0 3.0 0 1 0 -6.0 0M541.8 201.1a3.0 3.0 0 1 0 6.0 0a3.0 3.0 0 1 0 -6.0 0M555.5 171.4a3.0 3.0 0 1 0 6.0 0a3.0 3.0 0 1 0 -6.0 0M569.2 192.2a3.0 3.0 0 1 0 6.0 0a3.0 3.0 0 1 0 -6.0 0M582.9 172.4a3.0 3.0 0 1 0 6.0 0a3.0 3.0 0 1 0 -6.0 0M596.6 236.9a3.0 3.0 0 1 0 6.0 0a3.0 3.0 0 1 0 -6.0 0M610.3 215.5a3.0 3.0 0 1 0 6.0 0a3.0 3.0 0 1 0 -6.0 0M624.0 235.6a3.0 3.0 0 1 0 6.0 0a3.0 3.0 0 1 0 -6.0 0M637.7 223.9a3.0 3.0 0 1 0 6.0 0a3.0 3.0 0 1 0 -6.0 0M651.4 227.2a3.0 3.0 0 1 0 6.0 0a3.0 3.0 0 1 0 -6.0 0M665.1 216.7a3.0 3.0 0 1 0 6.0 0a3.0 3.0 0 1 0 -6.0 0M678.8 193.7a3.0 3.0 0 1 0 6.0 0a3.0 3.0 0 1 0 -6.0 0M692.5 175.3a3.0 3.0 0 1 0 6.0 0a3.0 3.0 0 1 0 -6.0 0M706.2 222.5a3.0 3.0 0 1 0 6.0 0a3.0 3.0 0 1 0 -6.0 0M719.9 211.6a3.0 3.0 0 1 0 6.0 0a3.0 3.0 0 1 0 -6.0 0M733.6 176.6a3.0 3.0 0 1 0 6.0 0a3.0 3.0 0 1 0 -6.0 0M747.3 229.7a3.0 3.0 0 1 0 6.0 0a3.0 3.0 0 1 0 -6.0 0M761.0 223.3a3.0 3.0 0 1 0 6.0 0a3.0 3.0 0 1 0 -6.0 0M774.7 208.3a3.0 3.0 0 1 0 6.0 0a3.0 3.0 0 1 0 -6.0 0M788.4 195.3a3.0 3.0 0 1 0 6.0 0a3.0 3.0 0 1 0 -6.0 0M802.1 207.4a3.0 3.0 0 1 0 6.0 0a3.0 3.0 0 1 0 -6.0 0M815.8 198.0a3.0 3.0 0 1 0 6.0 0a3.0 3.0 0 1 0 -6.0 0M829.5 204.5a3.0 3.0 0 1 0 6.0 0a3.0 3.0 0 1 0 -6.0 0M843.2 190.8a3.0 3.0 0 1 0 6.0 0a3.0 3.0 0 1 0 -6.0 0M856.9 215.1a3.0 3.0 0 1 0 6.0 0a3.0 3.0 0 1 0 -6.0 0M870.6 199.6a3.0 3.0 0 1 0 6.0 0a3.0 3.0 0 1 0 -6.0 0M884.3 82.0a3.0 3.0 0 1 0 6.0 0a3.0 3.0 0 1 0 -6.0 0M898.0 196.7a3.0 3.0 0 1 0 6.0 0a3.0 3.0 0 1 0 -6.0 0M911.7 190.8a3.0 3.0 0 1 0 6.0 0a3.0 3.0 0 1 0 -6.0 0M925.4 183.7a3.0 3.0 0 1 0 6.0 0a3.0 3.0 0 1 0 -6.0 0M939.1 223.3a3.0 3.0 0 1 0 6.0 0a3.0 3.0 0 1 0 -6.0 0M952.8 212.8a3.0 3.0 0 1 0 6.0 0a3.0 3.0 0 1 0 -6.0 0M966.5 232.3a3.0 3.0 0 1 0 6.0 0a3.0 3.0 0 1 0 -6.0 0M980.2 224.8a3.0 3.0 0 1 0 6.0 0a3.0 3.0 0 1 0 -6.0 0M993.9 172.0a3.0 3.0 0 1 0 6.0 0a3.0 3.0 0 1 0 -6.0 0M1007.6 235.0a3.0 3.0 0 1 0 6.0 0a3.0 3.0 0 1 0 -6.0 0M1021.3 225.8a3.0 3.0 0 1 0 6.0 0a3.0 3.0 0 1 0 -6.0 0M1035.0 197.2a3.0 3.0 0 1 0 6.0 0a3.0 3.0 0 1 0 -6.0 0M1048.7 238.5a3.0 3.0 0 1 0 6.0 0a3.0 3.0 0 1 0 -6.0 0M1062.4 132.5a3.0 3.0 0 1 0 6.0 0a3.0 3.0 0 1 0 -6.0 0M1076.1 194.7a3.0 3.0 0 1 0 6.0 0a3.0 3.0 0 1 0 -6.0 0M1089.8 193.4a3.0 3.0 0 1 0 6.0 0a3.0 3.0 0 1 0 -6.0 0M1103.5 195.3a3.0 3.0 0 1 0 6.0 0a3.0 3.0 0 1 0 -6.0 0M1117.2 212.2a3.0 3.0 0 1 0 6.0 0a3.0 3.0 0 1 0 -6.0 0M1130.9 212.2a3.0 3.0 0 1 0 6.0 0a3.0 3.0 0 1 0 -6.0 0M1144.6 178.2a3.0 3.0 0 1 0 6.0 0a3.0 3.0 0 1 0 -6.0 0M1158.3 175.8a3.0 3.0 0 1 0 6.0 0a3.0 3.0 0 1 0 -6.0 0M1172.0 173.9a3.0 3.0 0 1 0 6.0 0a3.0 3.0 0 1 0 -6.0 0M1185.7 198.6a3.0 3.0 0 1 0 6.0 0a3.0 3.0 0 1 0 -6.0 0M1199.4 194.7a3.0 3.0 0 1 0 6.0 0a3.0 3.0 0 1 0 -6.0 0M1213.1 221.3a3.0 3.0 0 1 0 6.0 0a3.0 3.0 0 1 0 -6.0 0M1226.8 182.5a3.0 3.0 0 1 0 6.0 0a3.0 3.0 0 1 0 -6.0 0M1240.5 207.8a3.0 3.0 0 1 0 6.0 0a3.0 3.0 0 1 0 -6.0 0M1254.2 216.1a3.0 3.0 0 1 0 6.0 0a3.0 3.0 0 1 0 -6.0 0M1267.9 189.5a3.0 3.0 0 1 0 6.0 0a3.0 3.0 0 1 0 -6.0 0M1281.6 203.8a3.0 3.0 0 1 0 6.0 0a3.0 3.0 0 1 0 -6.0 0M1295.3 180.6a3.0 3.0 0 1 0 6.0 0a3.0 3.0 0 1 0 -6.0 0M1309.0 234.6a3.0 3.0 0 1 0 6.0 0a3.0 3.0 0 1 0 -6.0 0M1322.7 218.6a3.0 3.0 0 1 0 6.0 0a3.0 3.0 0 1 0 -6.0 0M1336.4 232.6a3.0 3.0 0 1 0 6.0 0a3.0 3.0 0 1 0 -6.0 0M1350.1 188.9a3.0 3.0 0 1 0 6.0 0a3.0 3.0 0 1 0 -6.0 0M1363.8 220.6a3.0 3.0 0 1 0 6.0 0a3.0 3.0 0 1 0 -6.0 0M1377.5 226.8a3.0 3.0 0 1 0 6.0 0a3.0 3.0 0 1 0 -6.0 0M1391.2 205.0a3.0 3.0 0 1 0 6.0 0a3.0 3.0 0 1 0 -6.0 0M1404.9 180.2a3.0 3.0 0 1 0 6.0 0a3.0 3.0 0 1 0 -6.0 0M1418.6 204.5a3.0 3.0 0 1 0 6.0 0a3.0 3.0 0 1 0 -6.0 0M1432.3 181.7a3.0 3.0 0 1 0 6.0 0a3.0 3.0 0 1 0 -6.0 0M1446.0 184.4a3.0 3.0 0 1 0 6.0 0a3.0 3.0 0 1 0 -6.0 0M1459.7 187.9a3.0 3.0 0 1 0 6.0 0a3.0 3.0 0 1 0 -6.0 0M1473.4 220.6a3.0 3.0 0 1 0 6.0 0a3.0 3.0 0 1 0 -6.0 0M1487.1 193.7a3.0 3.0 0 1 0 6.0 0a3.0 3.0 0 1 0 -6.0 0M1500.8 172.7a3.0 3.0 0 1 0 6.0 0a3.0 3.0 0 1 0 -6.0 0M1514.5 223.9a3.0 3.0 0 1 0 6.0 0a3.0 3.0 0 1 0 -6.0 0M1528.2 227.7a3.0 3.0 0 1 0 6.0 0a3.0 3.0 0 1 0 -6.0 0M1541.9 183.1a3.0 3.0 0 1 0 6.0 0a3.0 3.0 0 1 0 -6.0 0M1555.6 170.4a3.0 3.0 0 1 0 6.0 0a3.0 3.0 0 1 0 -6.0 0M1569.3 190.3a3.0 3.0 0 1 0 6.0 0a3.0 3.0 0 1 0 -6.0 0M1583.0 182.1a3.0 3.0 0 1 0 6.0 0a3.0 3.0 0 1 0 -6.0 0M1596.7 230.7a3.0 3.0 0 1 0 6.0 0a3.0 3.0 0 1 0 -6.0 0M1610.4 238.1a3.0 3.0 0 1 0 6.0 0a3.0 3.0 0 1 0 -6.0 0M1624.1 180.6a3.0 3.0 0 1 0 6.0 0a3.0 3.0 0 1 0 -6.0 0M1637.8 209.7a3.0 3.0 0 1 0 6.0 0a3.0 3.0 0 1 0 -6.0 0M1651.5 212.2a3.0 3.0 0 1 0 6.0 0a3.0 3.0 0 1 0 -6.0 0M1665.2 183.1a3.0 3.0 0 1 0 6.0 0a3.0 3.0 0 1 0 -6.0 0M1678.9 212.8a3.0 3.0 0 1 0 6.0 0a3.0 3.0 0 1 0 -6.0 0M1692.6 234.2a3.0 3.0 0 1 0 6.0 0a3.0 3.0 0 1 0 -6.0 0M1706.3 209.7a3.0 3.0 0 1 0 6.0 0a3.0 3.0 0 1 0 -6.0 0M1720.0 220.6a3.0 3.0 0 1 0 6.0 0a3.0 3.0 0 1 0 -6.0 0M1733.7 201.9a3.0 3.0 0 1 0 6.0 0a3.0 3.0 0 1 0 -6.0 0M1747.4 209.3a3.0 3.0 0 1 0 6.0 0a3.0 3.0 0 1 0 -6.0 0M1761.1 205.8a3.0 3.0 0 1 0 6.0 0a3.0 3.0 0 1 0 -6.0 0M1774.8 194.7a3.0 3.0 0 1 0 6.0 0a3.0 3.0 0 1 0 -6.0 0M1788.5 196.7a3.0 3.0 0 1 0 6.0 0a3.0 3.0 0 1 0 -6.0 0" fill="#7eb26d"/><path d="M161.2 235.0 L174.9 196.1 L188.6 185.0 L202.3 172.4 L216.0 197.2 L229.7 186.0 L243.4 216.1 L257.1 194.1 L270.8 197.2 L284.5 201.1 L298.2 212.8 L311.9 216.7 L325.6 173.9 L339.3 219.0 L353.0 234.6 L366.7 178.6 L380.4 208.3 L394.1 170.0 L407.8 210.9 L421.5 170.0 L435.2 193.7 L448.9 198.6 L462.6 111.1 L476.3 232.3 L490.0 225.2 L503.7 191.4 L517.4 180.2 L531.1 214.7 L544.8 210.3 L558.5 179.7 L572.2 209.7 L585.9 219.0 L599.6 183.1 L613.3 226.4 L627.0 180.6 L640.7 228.4 L654.4 191.8 L668.1 202.5 L681.8 192.8 L695.5 225.2 L709.2 231.7 L722.9 199.6 L736.6 207.0 L750.3 190.3 L764.0 216.7 L777.7 212.2 L791.4 190.3 L805.1 230.7 L818.8 187.5 L832.5 175.8 L846.2 224.4 L859.9 211.6 L873.6 225.8 L887.3 221.3 L901.0 210.9 L914.7 196.7 L928.4 198.0 L942.1 213.6 L955.8 168.1 L969.5 172.0 L983.2 196.7 L996.9 219.4 L1010.6 201.1 L1024.3 226.4 L1038.0 218.6 L1051.7 175.8 L1065.4 195.7 L1079.1 187.5 L1092.8 229.7 L1106.5 167.5 L1120.2 198.6 L1133.9 225.8 L1147.6 211.6 L1161.3 100.0 L1175.0 198.0 L1188.7 203.8 L1202.4 208.3 L1216.1 180.6 L1229.8 232.6 L1243.5 205.4 L1257.2 198.0 L1270.9 193.7 L1284.6 125.3 L1298.3 167.5 L1312.0 190.8 L1325.7 229.1 L1339.4 173.3 L1353.1 181.7 L1366.8 182.5 L1380.5 222.5 L1394.2 230.7 L1407.9 194.7 L1421.6 172.7 L1435.3 171.4 L1449.0 197.2 L1462.7 201.5 L1476.4 236.5 L1490.1 169.4 L1503.8 186.0 L1517.5 196.7 L1531.2 176.6 L1544.9 206.4 L1558.6 203.1 L1572.3 235.6 L1586.0 117.9 L1599.7 228.4 L1613.4 177.2 L1627.1 208.9 L1640.8 205.8 L1654.5 183.1 L1668.2 176.2 L1681.9 199.2 L1695.6 213.2 L1709.3 213.2 L1723.0 172.7 L1736.7 201.9 L1750.4 236.5 L1764.1 231.1 L1777.8 207.8 L1791.5 221.3" fill="none" stroke="#eab839" stroke-width="2.7" stroke-linejoin="round"/><path d="M158.2 235.0a3.0 3.0 0 1 0 6.0 0a3.0 3.0 0 1 0 -6.0 0M171.9 196.1a3.0 3.0 0 1 0 6.0 0a3.0 3.0 0 1 0 -6.0 0M185.6 185.0a3.0 3.0 0 1 0 6.0 0a3.0 3.0 0 1 0 -6.0 0M199.3 172.4a3.0 3.0 0 1 0 6.0 0a3.0 3.0 0 1 0 -6.0 0M213.0 197.2a3.0 3.0 0 1 0 6.0 0a3.0 3.0 0 1 0 -6.0 0M226.7 186.0a3.0 3.0 0 1 0 6.0 0a3.0 3.0 0 1 0 -6.0 0M240.4 216.1a3.0 3.0 0 1 0 6.0 0a3.0 3.0 0 1 0 -6.0 0M254.1 194.1a3.0 3.0 0 1 0 6.0 0a3.0 3.0 0 1 0 -6.0 0M267.8 197.2a3.0 3.0 0 1 0 6.0 0a3.0 3.0 0 1 0 -6.0 0M281.5 201.1a3.0 3.0 0 1 0 6.0 0a3.0 3.0 0 1 0 -6.0 0M295.2 212.8a3.0 3.0 0 1 0 6.0 0a3.0 3.0 0 1 0 -6.0 0M308.9 216.7a3.0 3.0 0 1 0 6.0 0a3.0 3.0 0 1 0 -6.0 0M322.6 173.9a3.0 3.0 0 1 0 6.0 0a3.0 3.0 0 1 0 -6.0 0M336.3 219.0a3.0 3.0 0 1 0 6.0 0a3.0 3.0 0 1 0 -6.0 0M350.0 234.6a3.0 3.0 0 1 0 6.0 0a3.0 3.0 0 1 0 -6.0 0M363.7 178.6a3.0 3.0 0 1 0 6.0 0a3.0 3.0 0 1 0 -6.0 0M377.4 208.3a3.0 3.0 0 1 0 6.0 0a3.0 3.0 0 1 0 -6.0 0M391.1 170.0a3.0 3.0 0 1 0 6.0 0a3.0 3.0 0 1 0 -6.0 0M404.8 210.9a3.0 3.0 0 1 0 6.0 0a3.0 3.0 0 1 0 -6.0 0M418.5 170.0a3.0 3.0 0 1 0 6.0 0a3.0 3.0 0 1 0 -6.0 0M432.2 193.7a3.0 3.0 0 1 0 6.0 0a3.0 3.0 0 1 0 -6.0 0M445.9 198.6a3.0 3.0 0 1 0 6.0 0a3.0 3.0 0 1 0 -6.0 0M459.6 111.1a3.0 3.0 0 1 0 6.0 0a3.0 3.0 0 1 0 -6.0 0M473.3 232.3a3.0 3.0 0 1 0 6.0 0a3.0 3.0 0 1 0 -6.0 0M487.0 225.2a3.0 3.0 0 1 0 6.0 0a3.0 3.0 0 1 0 -6.0 0M500.7 191.4a3.0 3.0 0 1 0 6.0 0a3.0 3.0 0 1 0 -6.0 0M514.4 180.2a3.0 3.0 0 1 0 6.0 0a3.0 3.0 0 1 0 -6.0 0M528.1 214.7a3.0 3.0 0 1 0 6.0 0a3.0 3.0 0 1 0 -6.0 0M541.8 210.3a3.0 3.0 0 1 0 6.0 0a3.0 3.0 0 1 0 -6.0 0M555.5 179.7a3.0 3.0 0 1 0 6.0 0a3.0 3.0 0 1 0 -6.0 0M569.2 209.7a3.0 3.0 0 1 0 6.0 0a3.0 3.0 0 1 0 -6.0 0M582.9 219.0a3.0 3.0 0 1 0 6.0 0a3.0 3.0 0 1 0 -6.0 0M596.6 183.1a3.0 3.0 0 1 0 6.0 0a3.0 3.0 0 1 0 -6.0 0M610.3 226.4a3.0 3.0 0 1 0 6.0 0a3.0 3.0 0 1 0 -6.0 0M624.0 180.6a3.0 3.0 0 1 0 6.0 0a3.0 3.0 0 1 0 -6.0 0M637.7 228.4a3.0 3.0 0 1 0 6.0 0a3.0 3.0 0 1 0 -6.0 0M651.4 191.8a3.0 3.0 0 1 0 6.0 0a3.0 3.0 0 1 0 -6.0 0M665.1 202.5a3.0 3.0 0 1 0 6.0 0a3.0 3.0 0 1 0 -6.0 0M678.8 192.8a3.0 3.0 0 1 0 6.0 0a3.0 3.0 0 1 0 -6.0 0M692.5 225.2a3.0 3.0 0 1 0 6.0 0a3.0 3.0 0 1 0 -6.0 0M706.2 231.7a3.0 3.0 0 1 0 6.0 0a3.0 3.0 0 1 0 -6.0 0M719.9 199.6a3.0 3.0 0 1 0 6.0 0a3.0 3.0 0 1 0 -6.0 0M733.6 207.0a3.0 3.0 0 1 0 6.0 0a3.0 3.0 0 1 0 -6.0 0M747.3 190.3a3.0 3.0 0 1 0 6.0 0a3.0 3.0 0 1 0 -6.0 0M761.0 216.7a3.0 3.0 0 1 0 6.0 0a3.0 3.0 0 1 0 -6.0 0M774.7 212.2a3.0 3.0 0 1 0 6.0 0a3.0 3.0 0 1 0 -6.0 0M788.4 190.3a3.0 3.0 0 1 0 6.0 0a3.0 3.0 0 1 0 -6.0 0M802.1 230.7a3.0 3.0 0 1 0 6.0 0a3.0 3.0 0 1 0 -6.0 0M815.8 187.5a3.0 3.0 0 1 0 6.0 0a3.0 3.0 0 1 0 -6.0 0M829.5 175.8a3.0 3.0 0 1 0 6.0 0a3.0 3.0 0 1 0 -6.0 0M843.2 224.4a3.0 3.0 0 1 0 6.0 0a3.0 3.0 0 1 0 -6.0 0M856.9 211.6a3.0 3.0 0 1 0 6.0 0a3.0 3.0 0 1 0 -6.0 0M870.6 225.8a3.0 3.0 0 1 0 6.0 0a3.0 3.0 0 1 0 -6.0 0M884.3 221.3a3.0 3.0 0 1 0 6.0 0a3.0 3.0 0 1 0 -6.0 0M898.0 210.9a3.0 3.0 0 1 0 6.0 0a3.0 3.0 0 1 0 -6.0 0M911.7 196.7a3.0 3.0 0 1 0 6.0 0a3.0 3.0 0 1 0 -6.0 0M925.4 198.0a3.0 3.0 0 1 0 6.0 0a3.0 3.0 0 1 0 -6.0 0M939.1 213.6a3.0 3.0 0 1 0 6.0 0a3.0 3.0 0 1 0 -6.0 0M952.8 168.1a3.0 3.0 0 1 0 6.0 0a3.0 3.0 0 1 0 -6.0 0M966.5 172.0a3.0 3.0 0 1 0 6.0 0a3.0 3.0 0 1 0 -6.0 0M980.2 196.7a3.0 3.0 0 1 0 6.0 0a3.0 3.0 0 1 0 -6.0 0M993.9 219.4a3.0 3.0 0 1 0 6.0 0a3.0 3.0 0 1 0 -6.0 0M1007.6 201.1a3.0 3.0 0 1 0 6.0 0a3.0 3.0 0 1 0 -6.0 0M1021.3 226.4a3.0 3.0 0 1 0 6.0 0a3.0 3.0 0 1 0 -6.0 0M1035.0 218.6a3.0 3.0 0 1 0 6.0 0a3.0 3.0 0 1 0 -6.0 0M1048.7 175.8a3.0 3.0 0 1 0 6.0 0a3.0 3.0 0 1 0 -6.0 0M1062.4 195.7a3.0 3.0 0 1 0 6.0 0a3.0 3.0 0 1 0 -6.0 0M1076.1 187.5a3.0 3.0 0 1 0 6.0 0a3.0 3.0 0 1 0 -6.0 0M1089.8 229.7a3.0 3.0 0 1 0 6.0 0a3.0 3.0 0 1 0 -6.0 0M1103.5 167.5a3.0 3.0 0 1 0 6.0 0a3.0 3.0 0 1 0 -6.0 0M1117.2 198.6a3.0 3.0 0 1 0 6.0 0a3.0 3.0 0 1 0 -6.0 0M1130.9 225.8a3.0 3.0 0 1 0 6.0 0a3.0 3.0 0 1 0 -6.0 0M1144.6 211.6a3.0 3.0 0 1 0 6.0 0a3.0 3.0 0 1 0 -6.0 0M1158.3 100.0a3.0 3.0 0 1 0 6.0 0a3.0 3.0 0 1 0 -6.0 0M1172.0 198.0a3.0 3.0 0 1 0 6.0 0a3.0 3.0 0 1 0 -6.0 0M1185.7 203.8a3.0 3.0 0 1 0 6.0 0a3.0 3.0 0 1 0 -6.0 0M1199.4 208.3a3.0 3.0 0 1 0 6.0 0a3.0 3.0 0 1 0 -6.0 0M1213.1 180.6a3.0 3.0 0 1 0 6.0 0a3.0 3.0 0 1 0 -6.0 0M1226.8 232.6a3.0 3.0 0 1 0 6.0 0a3.0 3.0 0 1 0 -6.0 0M1240.5 205.4a3.0 3.0 0 1 0 6.0 0a3.0 3.0 0 1 0 -6.0 0M1254.2 198.0a3.0 3.0 0 1 0 6.0 0a3.0 3.0 0 1 0 -6.0 0M1267.9 193.7a3.0 3.0 0 1 0 6.0 0a3.0 3.0 0 1 0 -6.0 0M1281.6 125.3a3.0 3.0 0 1 0 6.0 0a3.0 3.0 0 1 0 -6.0 0M1295.3 167.5a3.0 3.0 0 1 0 6.0 0a3.0 3.0 0 1 0 -6.0 0M1309.0 190.8a3.0 3.0 0 1 0 6.0 0a3.0 3.0 0 1 0 -6.0 0M1322.7 229.1a3.0 3.0 0 1 0 6.0 0a3.0 3.0 0 1 0 -6.0 0M1336.4 173.3a3.0 3.0 0 1 0 6.0 0a3.0 3.0 0 1 0 -6.0 0M1350.1 181.7a3.0 3.0 0 1 0 6.0 0a3.0 3.0 0 1 0 -6.0 0M1363.8 182.5a3.0 3.0 0 1 0 6.0 0a3.0 3.0 0 1 0 -6.0 0M1377.5 222.5a3.0 3.0 0 1 0 6.0 0a3.0 3.0 0 1 0 -6.0 0M1391.2 230.7a3.0 3.0 0 1 0 6.0 0a3.0 3.0 0 1 0 -6.0 0M1404.9 194.7a3.0 3.0 0 1 0 6.0 0a3.0 3.0 0 1 0 -6.0 0M1418.6 172.7a3.0 3.0 0 1 0 6.0 0a3.0 3.0 0 1 0 -6.0 0M1432.3 171.4a3.0 3.0 0 1 0 6.0 0a3.0 3.0 0 1 0 -6.0 0M1446.0 197.2a3.0 3.0 0 1 0 6.0 0a3.0 3.0 0 1 0 -6.0 0M1459.7 201.5a3.0 3.0 0 1 0 6.0 0a3.0 3.0 0 1 0 -6.0 0M1473.4 236.5a3.0 3.0 0 1 0 6.0 0a3.0 3.0 0 1 0 -6.0 0M1487.1 169.4a3.0 3.0 0 1 0 6.0 0a3.0 3.0 0 1 0 -6.0 0M1500.8 186.0a3.0 3.0 0 1 0 6.0 0a3.0 3.0 0 1 0 -6.0 0M1514.5 196.7a3.0 3.0 0 1 0 6.0 0a3.0 3.0 0 1 0 -6.0 0M1528.2 176.6a3.0 3.0 0 1 0 6.0 0a3.0 3.0 0 1 0 -6.0 0M1541.9 206.4a3.0 3.0 0 1 0 6.0 0a3.0 3.0 0 1 0 -6.0 0M1555.6 203.1a3.0 3.0 0 1 0 6.0 0a3.0 3.0 0 1 0 -6.0 0M1569.3 235.6a3.0 3.0 0 1 0 6.0 0a3.0 3.0 0 1 0 -6.0 0M1583.0 117.9a3.0 3.0 0 1 0 6.0 0a3.0 3.0 0 1 0 -6.0 0M1596.7 228.4a3.0 3.0 0 1 0 6.0 0a3.0 3.0 0 1 0 -6.0 0M1610.4 177.2a3.0 3.0 0 1 0 6.0 0a3.0 3.0 0 1 0 -6.0 0M1624.1 208.9a3.0 3.0 0 1 0 6.0 0a3.0 3.0 0 1 0 -6.0 0M1637.8 205.8a3.0 3.0 0 1 0 6.0 0a3.0 3.0 0 1 0 -6.0 0M1651.5 183.1a3.0 3.0 0 1 0 6.0 0a3.0 3.0 0 1 0 -6.0 0M1665.2 176.2a3.0 3.0 0 1 0 6.0 0a3.0 3.0 0 1 0 -6.0 0M1678.9 199.2a3.0 3.0 0 1 0 6.0 0a3.0 3.0 0 1 0 -6.0 0M1692.6 213.2a3.0 3.0 0 1 0 6.0 0a3.0 3.0 0 1 0 -6.0 0M1706.3 213.2a3.0 3.0 0 1 0 6.0 0a3.0 3.0 0 1 0 -6.0 0M1720.0 172.7a3.0 3.0 0 1 0 6.0 0a3.0 3.0 0 1 0 -6.0 0M1733.7 201.9a3.0 3.0 0 1 0 6.0 0a3.0 3.0 0 1 0 -6.0 0M1747.4 236.5a3.0 3.0 0 1 0 6.0 0a3.0 3.0 0 1 0 -6.0 0M1761.1 231.1a3.0 3.0 0 1 0 6.0 0a3.0 3.0 0 1 0 -6.0 0M1774.8 207.8a3.0 3.0 0 1 0 6.0 0a3.0 3.0 0 1 0 -6.0 0M1788.5 221.3a3.0 3.0 0 1 0 6.0 0a3.0 3.0 0 1 0 -6.0 0" fill="#eab839"/><path d="M161.2 219.4 L174.9 208.9 L188.6 186.4 L202.3 232.6 L216.0 200.0 L229.7 223.3 L243.4 189.9 L257.1 223.3 L270.8 209.7 L284.5 217.1 L298.2 100.4 L311.9 205.0 L325.6 204.5 L339.3 230.3 L353.0 216.7 L366.7 184.4 L380.4 180.2 L394.1 187.9 L407.8 175.8 L421.5 232.3 L435.2 168.1 L448.9 184.4 L462.6 193.7 L476.3 119.5 L490.0 239.4 L503.7 216.1 L517.4 224.4 L531.1 172.4 L544.8 175.3 L558.5 185.6 L572.2 229.1 L585.9 202.5 L599.6 223.3 L613.3 205.0 L627.0 226.4 L640.7 170.4 L654.4 222.5 L668.1 238.8 L681.8 194.7 L695.5 200.0 L709.2 220.0 L722.9 125.3 L736.6 193.4 L750.3 219.0 L764.0 233.6 L777.7 174.7 L791.4 236.1 L805.1 199.2 L818.8 234.2 L832.5 184.4 L846.2 213.6 L859.9 183.7 L873.6 236.9 L887.3 138.4 L901.0 230.7 L914.7 216.7 L928.4 187.0 L942.1 131.6 L955.8 187.5 L969.5 207.8 L983.2 194.1 L996.9 238.1 L1010.6 182.1 L1024.3 178.6 L1038.0 211.6 L1051.7 187.5 L1065.4 205.4 L1079.1 240.4 L1092.8 211.3 L1106.5 221.9 L1120.2 230.7 L1133.9 211.6 L1147.6 189.5 L1161.3 190.8 L1175.0 175.3 L1188.7 218.0 L1202.4 184.0 L1216.1 224.4 L1229.8 221.3 L1243.5 182.1 L1257.2 211.6 L1270.9 225.8 L1284.6 173.9 L1298.3 207.8 L1312.0 240.0 L1325.7 168.9 L1339.4 62.6 L1353.1 211.3 L1366.8 210.3 L1380.5 222.9 L1394.2 234.2 L1407.9 214.7 L1421.6 207.4 L1435.3 187.0 L1449.0 207.4 L1462.7 215.5 L1476.4 232.3 L1490.1 218.6 L1503.8 196.7 L1517.5 220.6 L1531.2 190.8 L1544.9 203.1 L1558.6 237.5 L1572.3 192.8 L1586.0 172.7 L1599.7 196.1 L1613.4 227.2 L1627.1 214.7 L1640.8 191.4 L1654.5 210.3 L1668.2 210.3 L1681.9 202.5 L1695.6 230.3 L1709.3 207.8 L1723.0 223.3 L1736.7 199.2 L1750.4 200.5 L1764.1 188.3 L1777.8 171.4 L1791.5 236.5" fill="none" stroke="#6ed0e0" stroke-width="2.7" stroke-linejoin="round"/><path d="M158.2 219.4a3.0 3.0 0 1 0 6.0 0a3.0 3.0 0 1 0 -6.0 0M171.9 208.9a3.0 3.0 0 1 0 6.0 0a3.0 3.0 0 1 0 -6.0 0M185.6 186.4a3.0 3.0 0 1 0 6.0 0a3.0 3.0 0 1 0 -6.0 0M199.3 232.6a3.0 3.0 0 1 0 6.0 0a3.0 3.0 0 1 0 -6.0 0M213.0 200.0a3.0 3.0 0 1 0 6.0 0a3.0 3.0 0 1 0 -6.0 0M226.7 223.3a3.0 3.0 0 1 0 6.0 0a3.0 3.0 0 1 0 -6.0 0M240.4 189.9a3.0 3.0 0 1 0 6.0 0a3.0 3.0 0 1 0 -6.0 0M254.1 223.3a3.0 3.0 0 1 0 6.0 0a3.0 3.0 0 1 0 -6.0 0M267.8 209.7a3.0 3.0 0 1 0 6.0 0a3.0 3.0 0 1 0 -6.0 0M281.5 217.1a3.0 3.0 0 1 0 6.0 0a3.0 3.0 0 1 0 -6.0 0M295.2 100.4a3.0 3.0 0 1 0 6.0 0a3.0 3.0 0 1 0 -6.0 0M308.9 205.0a3.0 3.0 0 1 0 6.0 0a3.0 3.0 0 1 0 -6.0 0M322.6 204.5a3.0 3.0 0 1 0 6.0 0a3.0 3.0 0 1 0 -6.0 0M336.3 230.3a3.0 3.0 0 1 0 6.0 0a3.0 3.0 0 1 0 -6.0 0M350.0 216.7a3.0 3.0 0 1 0 6.0 0a3.0 3.0 0 1 0 -6.0 0M363.7 184.4a3.0 3.0 0 1 0 6.0 0a3.0 3.0 0 1 0 -6.0 0M377.4 180.2a3.0 3.0 0 1 0 6.0 0a3.0 3.0 0 1 0 -6.0 0M391.1 187.9a3.0 3.0 0 1 0 6.0 0a3.0 3.0 0 1 0 -6.0 0M404.8 175.8a3.0 3.0 0 1 0 6.0 0a3.0 3.0 0 1 0 -6.0 0M418.5 232.3a3.0 3.0 0 1 0 6.0 0a3.0 3.0 0 1 0 -6.0 0M432.2 168.1a3.0 3.0 0 1 0 6.0 0a3.0 3.0 0 1 0 -6.0 0M445.9 184.4a3.0 3.0 0 1 0 6.0 0a3.0 3.0 0 1 0 -6.0 0M459.6 193.7a3.0 3.0 0 1 0 6.0 0a3.0 3.0 0 1 0 -6.0 0M473.3 119.5a3.0 3.0 0 1 0 6.0 0a3.0 3.0 0 1 0 -6.0 0M487.0 239.4a3.0 3.0 0 1 0 6.0 0a3.0 3.0 0 1 0 -6.0 0M500.7 216.1a3.0 3.0 0 1 0 6.0 0a3.0 3.0 0 1 0 -6.0 0M514.4 224.4a3.0 3.0 0 1 0 6.0 0a3.0 3.0 0 1 0 -6.0 0M528.1 172.4a3.0 3.0 0 1 0 6.0 0a3.0 3.0 0 1 0 -6.0 0M541.8 175.3a3.0 3.0 0 1 0 6.0 0a3.0 3.0 0 1 0 -6.0 0M555.5 185.6a3.0 3.0 0 1 0 6.0 0a3.0 3.0 0 1 0 -6.0 0M569.2 229.1a3.0 3.0 0 1 0 6.0 0a3.0 3.0 0 1 0 -6.0 0M582.9 202.5a3.0 3.0 0 1 0 6.0 0a3.0 3.0 0 1 0 -6.0 0M596.6 223.3a3.0 3.0 0 1 0 6.0 0a3.0 3.0 0 1 0 -6.0 0M610.3 205.0a3.0 3.0 0 1 0 6.0 0a3.0 3.0 0 1 0 -6.0 0M624.0 226.4a3.0 3.0 0 1 0 6.0 0a3.0 3.0 0 1 0 -6.0 0M637.7 170.4a3.0 3.0 0 1 0 6.0 0a3.0 3.0 0 1 0 -6.0 0M651.4 222.5a3.0 3.0 0 1 0 6.0 0a3.0 3.0 0 1 0 -6.0 0M665.1 238.8a3.0 3.0 0 1 0 6.0 0a3.0 3.0 0 1 0 -6.0 0M678.8 194.7a3.0 3.0 0 1 0 6.0 0a3.0 3.0 0 1 0 -6.0 0M692.5 200.0a3.0 3.0 0 1 0 6.0 0a3.0 3.0 0 1 0 -6.0 0M706.2 220.0a3.0 3.0 0 1 0 6.0 0a3.0 3.0 0 1 0 -6.0 0M719.9 125.3a3.0 3.0 0 1 0 6.0 0a3.0 3.0 0 1 0 -6.0 0M733.6 193.4a3.0 3.0 0 1 0 6.0 0a3.0 3.0 0 1 0 -6.0 0M747.3 219.0a3.0 3.0 0 1 0 6.0 0a3.0 3.0 0 1 0 -6.0 0M761.0 233.6a3.0 3.0 0 1 0 6.0 0a3.0 3.0 0 1 0 -6.0 0M774.7 174.7a3.0 3.0 0 1 0 6.0 0a3.0 3.0 0 1 0 -6.0 0M788.4 236.1a3.0 3.0 0 1 0 6.0 0a3.0 3.0 0 1 0 -6.0 0M802.1 199.2a3.0 3.0 0 1 0 6.0 0a3.0 3.0 0 1 0 -6.0 0M815.8 234.2a3.0 3.0 0 1 0 6.0 0a3.0 3.0 0 1 0 -6.0 0M829.5 184.4a3.0 3.0 0 1 0 6.0 0a3.0 3.0 0 1 0 -6.0 0M843.2 213.6a3.0 3.0 0 1 0 6.0 0a3.0 3.0 0 1 0 -6.0 0M856.9 183.7a3.0 3.0 0 1 0 6.0 0a3.0 3.0 0 1 0 -6.0 0M870.6 236.9a3.0 3.0 0 1 0 6.0 0a3.0 3.0 0 1 0 -6.0 0M884.3 138.4a3.0 3.0 0 1 0 6.0 0a3.0 3.0 0 1 0 -6.0 0M898.0 230.7a3.0 3.0 0 1 0 6.0 0a3.0 3.0 0 1 0 -6.0 0M911.7 216.7a3.0 3.0 0 1 0 6.0 0a3.0 3.0 0 1 0 -6.0 0M925.4 187.0a3.0 3.0 0 1 0 6.0 0a3.0 3.0 0 1 0 -6.0 0M939.1 131.6a3.0 3.0 0 1 0 6.0 0a3.0 3.0 0 1 0 -6.0 0M952.8 187.5a3.0 3.0 0 1 0 6.0 0a3.0 3.0 0 1 0 -6.0 0M966.5 207.8a3.0 3.0 0 1 0 6.0 0a3.0 3.0 0 1 0 -6.0 0M980.2 194.1a3.0 3.0 0 1 0 6.0 0a3.0 3.0 0 1 0 -6.0 0M993.9 238.1a3.0 3.0 0 1 0 6.0 0a3.0 3.0 0 1 0 -6.0 0M1007.6 182.1a3.0 3.0 0 1 0 6.0 0a3.0 3.0 0 1 0 -6.0 0M1021.3 178.6a3.0 3.0 0 1 0 6.0 0a3.0 3.0 0 1 0 -6.0 0M1035.0 211.6a3.0 3.0 0 1 0 6.0 0a3.0 3.0 0 1 0 -6.0 0M1048.7 187.5a3.0 3.0 0 1 0 6.0 0a3.0 3.0 0 1 0 -6.0 0M1062.4 205.4a3.0 3.0 0 1 0 6.0 0a3.0 3.0 0 1 0 -6.0 0M1076.1 240.4a3.0 3.0 0 1 0 6.0 0a3.0 3.0 0 1 0 -6.0 0M1089.8 211.3a3.0 3.0 0 1 0 6.0 0a3.0 3.0 0 1 0 -6.0 0M1103.5 221.9a3.0 3.0 0 1 0 6.0 0a3.0 3.0 0 1 0 -6.0 0M1117.2 230.7a3.0 3.0 0 1 0 6.0 0a3.0 3.0 0 1 0 -6.0 0M1130.9 211.6a3.0 3.0 0 1 0 6.0 0a3.0 3.0 0 1 0 -6.0 0M1144.6 189.5a3.0 3.0 0 1 0 6.0 0a3.0 3.0 0 1 0 -6.0 0M1158.3 190.8a3.0 3.0 0 1 0 6.0 0a3.0 3.0 0 1 0 -6.0 0M1172.0 175.3a3.0 3.0 0 1 0 6.0 0a3.0 3.0 0 1 0 -6.0 0M1185.7 218.0a3.0 3.0 0 1 0 6.0 0a3.0 3.0 0 1 0 -6.0 0M1199.4 184.0a3.0 3.0 0 1 0 6.0 0a3.0 3.0 0 1 0 -6.0 0M1213.1 224.4a3.0 3.0 0 1 0 6.0 0a3.0 3.0 0 1 0 -6.0 0M1226.8 221.3a3.0 3.0 0 1 0 6.0 0a3.0 3.0 0 1 0 -6.0 0M1240.5 182.1a3.0 3.0 0 1 0 6.0 0a3.0 3.0 0 1 0 -6.0 0M1254.2 211.6a3.0 3.0 0 1 0 6.0 0a3.0 3.0 0 1 0 -6.0 0M1267.9 225.8a3.0 3.0 0 1 0 6.0 0a3.0 3.0 0 1 0 -6.0 0M1281.6 173.9a3.0 3.0 0 1 0 6.0 0a3.0 3.0 0 1 0 -6.0 0M1295.3 207.8a3.0 3.0 0 1 0 6.0 0a3.0 3.0 0 1 0 -6.0 0M1309.0 240.0a3.0 3.0 0 1 0 6.0 0a3.0 3.0 0 1 0 -6.0 0M1322.7 168.9a3.0 3.0 0 1 0 6.0 0a3.0 3.0 0 1 0 -6.0 0M1336.4 62.6a3.0 3.0 0 1 0 6.0 0a3.0 3.0 0 1 0 -6.0 0M1350.1 211.3a3.0 3.0 0 1 0 6.0 0a3.0 3.0 0 1 0 -6.0 0M1363.8 210.3a3.0 3.0 0 1 0 6.0 0a3.0 3.0 0 1 0 -6.0 0M1377.5 222.9a3.0 3.0 0 1 0 6.0 0a3.0 3.0 0 1 0 -6.0 0M1391.2 234.2a3.0 3.0 0 1 0 6.0 0a3.0 3.0 0 1 0 -6.0 0M1404.9 214.7a3.0 3.0 0 1 0 6.0 0a3.0 3.0 0 1 0 -6.0 0M1418.6 207.4a3.0 3.0 0 1 0 6.0 0a3.0 3.0 0 1 0 -6.0 0M1432.3 187.0a3.0 3.0 0 1 0 6.0 0a3.0 3.0 0 1 0 -6.0 0M1446.0 207.4a3.0 3.0 0 1 0 6.0 0a3.0 3.0 0 1 0 -6.0 0M1459.7 215.5a3.0 3.0 0 1 0 6.0 0a3.0 3.0 0 1 0 -6.0 0M1473.4 232.3a3.0 3.0 0 1 0 6.0 0a3.0 3.0 0 1 0 -6.0 0M1487.1 218.6a3.0 3.0 0 1 0 6.0 0a3.0 3.0 0 1 0 -6.0 0M1500.8 196.7a3.0 3.0 0 1 0 6.0 0a3.0 3.0 0 1 0 -6.0 0M1514.5 220.6a3.0 3.0 0 1 0 6.0 0a3.0 3.0 0 1 0 -6.0 0M1528.2 190.8a3.0 3.0 0 1 0 6.0 0a3.0 3.0 0 1 0 -6.0 0M1541.9 203.1a3.0 3.0 0 1 0 6.0 0a3.0 3.0 0 1 0 -6.0 0M1555.6 237.5a3.0 3.0 0 1 0 6.0 0a3.0 3.0 0 1 0 -6.0 0M1569.3 192.8a3.0 3.0 0 1 0 6.0 0a3.0 3.0 0 1 0 -6.0 0M1583.0 172.7a3.0 3.0 0 1 0 6.0 0a3.0 3.0 0 1 0 -6.0 0M1596.7 196.1a3.0 3.0 0 1 0 6.0 0a3.0 3.0 0 1 0 -6.0 0M1610.4 227.2a3.0 3.0 0 1 0 6.0 0a3.0 3.0 0 1 0 -6.0 0M1624.1 214.7a3.0 3.0 0 1 0 6.0 0a3.0 3.0 0 1 0 -6.0 0M1637.8 191.4a3.0 3.0 0 1 0 6.0 0a3.0 3.0 0 1 0 -6.0 0M1651.5 210.3a3.0 3.0 0 1 0 6.0 0a3.0 3.0 0 1 0 -6.0 0M1665.2 210.3a3.0 3.0 0 1 0 6.0 0a3.0 3.0 0 1 0 -6.0 0M1678.9 202.5a3.0 3.0 0 1 0 6.0 0a3.0 3.0 0 1 0 -6.0 0M1692.6 230.3a3.0 3.0 0 1 0 6.0 0a3.0 3.0 0 1 0 -6.0 0M1706.3 207.8a3.0 3.0 0 1 0 6.0 0a3.0 3.0 0 1 0 -6.0 0M1720.0 223.3a3.0 3.0 0 1 0 6.0 0a3.0 3.0 0 1 0 -6.0 0M1733.7 199.2a3.0 3.0 0 1 0 6.0 0a3.0 3.0 0 1 0 -6.0 0M1747.4 200.5a3.0 3.0 0 1 0 6.0 0a3.0 3.0 0 1 0 -6.0 0M1761.1 188.3a3.0 3.0 0 1 0 6.0 0a3.0 3.0 0 1 0 -6.0 0M1774.8 171.4a3.0 3.0 0 1 0 6.0 0a3.0 3.0 0 1 0 -6.0 0M1788.5 236.5a3.0 3.0 0 1 0 6.0 0a3.0 3.0 0 1 0 -6.0 0" fill="#6ed0e0"/><text x="153.5" y="243.9" text-anchor="end" class="tk">0 N/mm²</text><text x="153.5" y="195.4" text-anchor="end" class="tk">1 N/mm²</text><text x="153.5" y="146.9" text-anchor="end" class="tk">2 N/mm²</text><text x="153.5" y="98.4" text-anchor="end" class="tk">3 N/mm²</text><text x="153.5" y="49.9" text-anchor="end" class="tk">4 N/mm²</text><text x="201.3" y="258.7" text-anchor="middle" class="tk">06:22</text><text x="256.1" y="258.7" text-anchor="middle" class="tk">06:24</text><text x="310.9" y="258.7" text-anchor="middle" class="tk">06:26</text><text x="365.7" y="258.7" text-anchor="middle" class="tk">06:28</text><text x="420.5" y="258.7" text-anchor="middle" class="tk">06:30</text><text x="475.3" y="258.7" text-anchor="middle" class="tk">06:32</text><text x="530.1" y="258.7" text-anchor="middle" class="tk">06:34</text><text x="584.9" y="258.7" text-anchor="middle" class="tk">06:36</text><text x="639.7" y="258.7" text-anchor="middle" class="tk">06:38</text><text x="694.5" y="258.7" text-anchor="middle" class="tk">06:40</text><text x="749.3" y="258.7" text-anchor="middle" class="tk">06:42</text><text x="804.1" y="258.7" text-anchor="middle" class="tk">06:44</text><text x="858.9" y="258.7" text-anchor="middle" class="tk">06:46</text><text x="913.7" y="258.7" text-anchor="middle" class="tk">06:48</text><text x="968.5" y="258.7" text-anchor="middle" class="tk">06:50</text><text x="1023.3" y="258.7" text-anchor="middle" class="tk">06:52</text><text x="1078.1" y="258.7" text-anchor="middle" class="tk">06:54</text><text x="1132.9" y="258.7" text-anchor="middle" class="tk">06:56</text><text x="1187.7" y="258.7" text-anchor="middle" class="tk">06:58</text><text x="1242.5" y="258.7" text-anchor="middle" class="tk">07:00</text><text x="1297.3" y="258.7" text-anchor="middle" class="tk">07:02</text><text x="1352.1" y="258.7" text-anchor="middle" class="tk">07:04</text><text x="1406.9" y="258.7" text-anchor="middle" class="tk">07:06</text><text x="1461.7" y="258.7" text-anchor="middle" class="tk">07:08</text><text x="1516.5" y="258.7" text-anchor="middle" class="tk">07:10</text><text x="1571.3" y="258.7" text-anchor="middle" class="tk">07:12</text><text x="1626.1" y="258.7" text-anchor="middle" class="tk">07:14</text><text x="1680.9" y="258.7" text-anchor="middle" class="tk">07:16</text><text x="1735.7" y="258.7" text-anchor="middle" class="tk">07:18</text><text x="1790.5" y="258.7" text-anchor="middle" class="tk">07:20</text></svg><span class="sw" style="left:18px;background:#7eb26d"></span><span class="lt" style="left:40.7px">Blade 1</span><span class="sw" style="left:89.9px;background:#eab839"></span><span class="lt" style="left:112.19999999999999px">Blade 2</span><span class="sw" style="left:162px;background:#6ed0e0"></span><span class="lt" style="left:183.60000000000002px">Blade 3</span></div><div class="panel" style="top:1024px"><div class="corner"></div><div class="ci">i</div><div class="ptitle">Flapwise Stress</div><div class="ylab">Stress, flapwise</div><svg class="chart" width="1752" height="296" viewBox="76 0 1752 296"><defs><linearGradient id="fg30" gradientUnits="userSpaceOnUse" x1="0" y1="46.4" x2="0" y2="240.4"><stop offset="0" stop-color="#7eb26d" stop-opacity="0.11"/><stop offset="1" stop-color="#7eb26d" stop-opacity="0.0"/></linearGradient><linearGradient id="fg31" gradientUnits="userSpaceOnUse" x1="0" y1="46.4" x2="0" y2="240.4"><stop offset="0" stop-color="#eab839" stop-opacity="0.11"/><stop offset="1" stop-color="#eab839" stop-opacity="0.0"/></linearGradient><linearGradient id="fg32" gradientUnits="userSpaceOnUse" x1="0" y1="46.4" x2="0" y2="240.4"><stop offset="0" stop-color="#6ed0e0" stop-opacity="0.11"/><stop offset="1" stop-color="#6ed0e0" stop-opacity="0.0"/></linearGradient></defs><path d="M159 240.5H1803.0 M159 191.5H1803.0 M159 143.5H1803.0 M159 94.5H1803.0 M159 46.5H1803.0" stroke="#c8c8c8" stroke-opacity="0.4" stroke-width="1" fill="none"/><path d="M201.5 46V241 M256.5 46V241 M311.5 46V241 M365.5 46V241 M420.5 46V241 M475.5 46V241 M530.5 46V241 M585.5 46V241 M639.5 46V241 M694.5 46V241 M749.5 46V241 M804.5 46V241 M859.5 46V241 M913.5 46V241 M968.5 46V241 M1023.5 46V241 M1078.5 46V241 M1133.5 46V241 M1187.5 46V241 M1242.5 46V241 M1297.5 46V241 M1352.5 46V241 M1407.5 46V241 M1461.5 46V241 M1516.5 46V241 M1571.5 46V241 M1626.5 46V241 M1681.5 46V241 M1735.5 46V241 M1790.5 46V241" stroke="#c8c8c8" stroke-opacity="0.4" stroke-width="1" fill="none"/><text x="153.5" y="243.9" text-anchor="end" class="tk">0 N/mm²</text><text x="153.5" y="195.4" text-anchor="end" class="tk">1 N/mm²</text><text x="153.5" y="146.9" text-anchor="end" class="tk">2 N/mm²</text><text x="153.5" y="98.4" text-anchor="end" class="tk">3 N/mm²</text><text x="153.5" y="49.9" text-anchor="end" class="tk">4 N/mm²</text><text x="201.3" y="258.7" text-anchor="middle" class="tk">06:22</text><text x="256.1" y="258.7" text-anchor="middle" class="tk">06:24</text><text x="310.9" y="258.7" text-anchor="middle" class="tk">06:26</text><text x="365.7" y="258.7" text-anchor="middle" class="tk">06:28</text><text x="420.5" y="258.7" text-anchor="middle" class="tk">06:30</text><text x="475.3" y="258.7" text-anchor="middle" class="tk">06:32</text><text x="530.1" y="258.7" text-anchor="middle" class="tk">06:34</text><text x="584.9" y="258.7" text-anchor="middle" class="tk">06:36</text><text x="639.7" y="258.7" text-anchor="middle" class="tk">06:38</text><text x="694.5" y="258.7" text-anchor="middle" class="tk">06:40</text><text x="749.3" y="258.7" text-anchor="middle" class="tk">06:42</text><text x="804.1" y="258.7" text-anchor="middle" class="tk">06:44</text><text x="858.9" y="258.7" text-anchor="middle" class="tk">06:46</text><text x="913.7" y="258.7" text-anchor="middle" class="tk">06:48</text><text x="968.5" y="258.7" text-anchor="middle" class="tk">06:50</text><text x="1023.3" y="258.7" text-anchor="middle" class="tk">06:52</text><text x="1078.1" y="258.7" text-anchor="middle" class="tk">06:54</text><text x="1132.9" y="258.7" text-anchor="middle" class="tk">06:56</text><text x="1187.7" y="258.7" text-anchor="middle" class="tk">06:58</text><text x="1242.5" y="258.7" text-anchor="middle" class="tk">07:00</text><text x="1297.3" y="258.7" text-anchor="middle" class="tk">07:02</text><text x="1352.1" y="258.7" text-anchor="middle" class="tk">07:04</text><text x="1406.9" y="258.7" text-anchor="middle" class="tk">07:06</text><text x="1461.7" y="258.7" text-anchor="middle" class="tk">07:08</text><text x="1516.5" y="258.7" text-anchor="middle" class="tk">07:10</text><text x="1571.3" y="258.7" text-anchor="middle" class="tk">07:12</text><text x="1626.1" y="258.7" text-anchor="middle" class="tk">07:14</text><text x="1680.9" y="258.7" text-anchor="middle" class="tk">07:16</text><text x="1735.7" y="258.7" text-anchor="middle" class="tk">07:18</text><text x="1790.5" y="258.7" text-anchor="middle" class="tk">07:20</text></svg><span class="sw" style="left:18px;background:#7eb26d"></span><span class="lt" style="left:40.7px">Blade 1</span><span class="sw" style="left:89.9px;background:#eab839"></span><span class="lt" style="left:112.19999999999999px">Blade 2</span><span class="sw" style="left:162px;background:#6ed0e0"></span><span class="lt" style="left:183.60000000000002px">Blade 3</span></div>
</body></html>
